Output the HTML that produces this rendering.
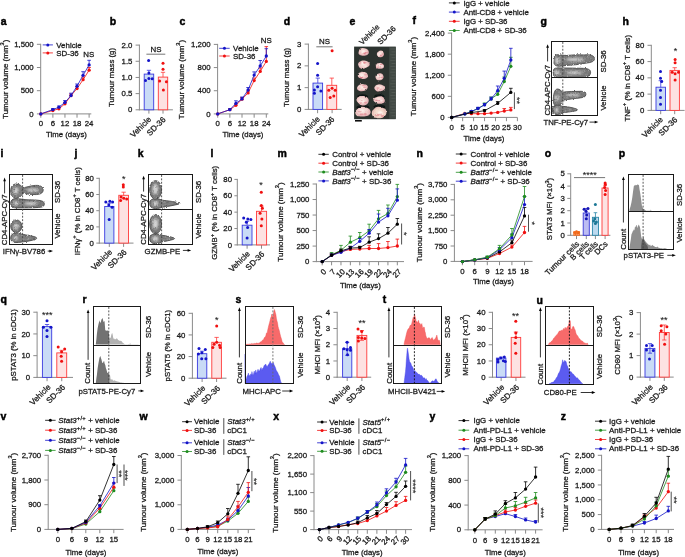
<!DOCTYPE html>
<html><head><meta charset="utf-8"><style>
html,body{margin:0;padding:0;background:#fff;}
svg{display:block;}
text{font-family:"Liberation Sans",sans-serif;}
svg{-webkit-font-smoothing:antialiased;will-change:transform;}
text{stroke:#1a1a1a;stroke-width:0.28px;}
.ns text{stroke-width:0.1px;}
.pl text{stroke:#000;stroke-width:0.45px;}
</style></head><body>
<svg width="685" height="557" viewBox="0 0 685 557" fill="#1a1a1a">
<defs><filter id="bl" x="-50%" y="-50%" width="200%" height="200%"><feGaussianBlur stdDeviation="0.9"/></filter><filter id="rough" x="-5%" y="-5%" width="110%" height="110%"><feTurbulence type="fractalNoise" baseFrequency="0.9" numOctaves="2" seed="4"/><feDisplacementMap in="SourceGraphic" scale="2.4" xChannelSelector="R" yChannelSelector="G"/></filter><filter id="bl2" x="-20%" y="-20%" width="140%" height="140%"><feGaussianBlur stdDeviation="0.35"/></filter></defs>
<rect width="685" height="557" fill="#fff"/>
<g class="pl">
<text x="0.8" y="24.6" font-size="10.5" font-weight="bold" fill="#000">a</text>
</g>
<line x1="40.7" y1="43.8" x2="40.7" y2="114.4" stroke="#8a8a8a" stroke-width="1"/>
<line x1="36.9" y1="44.3" x2="40.7" y2="44.3" stroke="#8a8a8a" stroke-width="1"/>
<text x="33.7" y="46.9" font-size="7.8" text-anchor="end">1,500</text>
<line x1="36.9" y1="67.5" x2="40.7" y2="67.5" stroke="#8a8a8a" stroke-width="1"/>
<text x="33.7" y="70.1" font-size="7.8" text-anchor="end">1,000</text>
<line x1="36.9" y1="90.7" x2="40.7" y2="90.7" stroke="#8a8a8a" stroke-width="1"/>
<text x="33.7" y="93.3" font-size="7.8" text-anchor="end">500</text>
<line x1="36.9" y1="113.9" x2="40.7" y2="113.9" stroke="#8a8a8a" stroke-width="1"/>
<text x="33.7" y="116.5" font-size="7.8" text-anchor="end">0</text>
<line x1="40.2" y1="113.9" x2="91.3" y2="113.9" stroke="#8a8a8a" stroke-width="1"/>
<line x1="40.8" y1="113.9" x2="40.8" y2="117.7" stroke="#8a8a8a" stroke-width="1"/>
<text x="40.8" y="126.2" font-size="7.8" text-anchor="middle">0</text>
<line x1="52.88" y1="113.9" x2="52.88" y2="117.7" stroke="#8a8a8a" stroke-width="1"/>
<text x="52.88" y="126.2" font-size="7.8" text-anchor="middle">6</text>
<line x1="64.96" y1="113.9" x2="64.96" y2="117.7" stroke="#8a8a8a" stroke-width="1"/>
<text x="64.96" y="126.2" font-size="7.8" text-anchor="middle">12</text>
<line x1="77.03" y1="113.9" x2="77.03" y2="117.7" stroke="#8a8a8a" stroke-width="1"/>
<text x="77.03" y="126.2" font-size="7.8" text-anchor="middle">18</text>
<line x1="89.11" y1="113.9" x2="89.11" y2="117.7" stroke="#8a8a8a" stroke-width="1"/>
<text x="89.11" y="126.2" font-size="7.8" text-anchor="middle">24</text>
<text x="66.5" y="137.2" font-size="7.8" text-anchor="middle">Time (days)</text>
<text transform="translate(8.2 79.3) rotate(-90)" font-size="8" text-anchor="middle">Tumour volume (mm<tspan font-size="5.6" dy="-4.0">3</tspan><tspan dy="4.0">)</tspan></text>
<line x1="52.88" y1="109.5" x2="52.88" y2="110.5" stroke="#f01010" stroke-width="0.8"/>
<line x1="51.08" y1="109.5" x2="54.68" y2="109.5" stroke="#f01010" stroke-width="0.8"/>
<line x1="58.92" y1="107.5" x2="58.92" y2="108.8" stroke="#f01010" stroke-width="0.8"/>
<line x1="57.12" y1="107.5" x2="60.72" y2="107.5" stroke="#f01010" stroke-width="0.8"/>
<line x1="64.96" y1="102.5" x2="64.96" y2="103.8" stroke="#f01010" stroke-width="0.8"/>
<line x1="63.16" y1="102.5" x2="66.76" y2="102.5" stroke="#f01010" stroke-width="0.8"/>
<line x1="71" y1="94" x2="71" y2="95.6" stroke="#f01010" stroke-width="0.8"/>
<line x1="69.2" y1="94" x2="72.8" y2="94" stroke="#f01010" stroke-width="0.8"/>
<line x1="77.03" y1="86.5" x2="77.03" y2="88.6" stroke="#f01010" stroke-width="0.8"/>
<line x1="75.23" y1="86.5" x2="78.83" y2="86.5" stroke="#f01010" stroke-width="0.8"/>
<line x1="83.07" y1="77" x2="83.07" y2="79.7" stroke="#f01010" stroke-width="0.8"/>
<line x1="81.27" y1="77" x2="84.87" y2="77" stroke="#f01010" stroke-width="0.8"/>
<line x1="89.11" y1="67.5" x2="89.11" y2="70.2" stroke="#f01010" stroke-width="0.8"/>
<line x1="87.31" y1="67.5" x2="90.91" y2="67.5" stroke="#f01010" stroke-width="0.8"/>
<polyline points="40.8,113.9 52.88,110.5 58.92,108.8 64.96,103.8 71,95.6 77.03,88.6 83.07,79.7 89.11,70.2" fill="none" stroke="#f01010" stroke-width="0.8" stroke-linejoin="round"/>
<circle cx="40.8" cy="113.9" r="1.65" fill="#f01010"/>
<circle cx="52.88" cy="110.5" r="1.65" fill="#f01010"/>
<circle cx="58.92" cy="108.8" r="1.65" fill="#f01010"/>
<circle cx="64.96" cy="103.8" r="1.65" fill="#f01010"/>
<circle cx="71" cy="95.6" r="1.65" fill="#f01010"/>
<circle cx="77.03" cy="88.6" r="1.65" fill="#f01010"/>
<circle cx="83.07" cy="79.7" r="1.65" fill="#f01010"/>
<circle cx="89.11" cy="70.2" r="1.65" fill="#f01010"/>
<line x1="52.88" y1="108.5" x2="52.88" y2="109.6" stroke="#1414c8" stroke-width="0.8"/>
<line x1="51.08" y1="108.5" x2="54.68" y2="108.5" stroke="#1414c8" stroke-width="0.8"/>
<line x1="58.92" y1="106" x2="58.92" y2="107.2" stroke="#1414c8" stroke-width="0.8"/>
<line x1="57.12" y1="106" x2="60.72" y2="106" stroke="#1414c8" stroke-width="0.8"/>
<line x1="64.96" y1="100.5" x2="64.96" y2="102.4" stroke="#1414c8" stroke-width="0.8"/>
<line x1="63.16" y1="100.5" x2="66.76" y2="100.5" stroke="#1414c8" stroke-width="0.8"/>
<line x1="71" y1="93.2" x2="71" y2="95.6" stroke="#1414c8" stroke-width="0.8"/>
<line x1="69.2" y1="93.2" x2="72.8" y2="93.2" stroke="#1414c8" stroke-width="0.8"/>
<line x1="77.03" y1="84" x2="77.03" y2="86.2" stroke="#1414c8" stroke-width="0.8"/>
<line x1="75.23" y1="84" x2="78.83" y2="84" stroke="#1414c8" stroke-width="0.8"/>
<line x1="83.07" y1="71.7" x2="83.07" y2="75.3" stroke="#1414c8" stroke-width="0.8"/>
<line x1="81.27" y1="71.7" x2="84.87" y2="71.7" stroke="#1414c8" stroke-width="0.8"/>
<line x1="89.11" y1="60.3" x2="89.11" y2="64.9" stroke="#1414c8" stroke-width="0.8"/>
<line x1="87.31" y1="60.3" x2="90.91" y2="60.3" stroke="#1414c8" stroke-width="0.8"/>
<polyline points="40.8,113.9 52.88,109.6 58.92,107.2 64.96,102.4 71,95.6 77.03,86.2 83.07,75.3 89.11,64.9" fill="none" stroke="#1414c8" stroke-width="0.8" stroke-linejoin="round"/>
<circle cx="40.8" cy="113.9" r="1.65" fill="#1414c8"/>
<circle cx="52.88" cy="109.6" r="1.65" fill="#1414c8"/>
<circle cx="58.92" cy="107.2" r="1.65" fill="#1414c8"/>
<circle cx="64.96" cy="102.4" r="1.65" fill="#1414c8"/>
<circle cx="71" cy="95.6" r="1.65" fill="#1414c8"/>
<circle cx="77.03" cy="86.2" r="1.65" fill="#1414c8"/>
<circle cx="83.07" cy="75.3" r="1.65" fill="#1414c8"/>
<circle cx="89.11" cy="64.9" r="1.65" fill="#1414c8"/>
<line x1="42.7" y1="44.9" x2="52.9" y2="44.9" stroke="#1414c8" stroke-width="0.8"/>
<circle cx="47.8" cy="44.9" r="1.5" fill="#1414c8"/>
<text x="56.3" y="47.5" font-size="7.9">Vehicle</text>
<line x1="42.7" y1="52.9" x2="52.9" y2="52.9" stroke="#f01010" stroke-width="0.8"/>
<circle cx="47.8" cy="52.9" r="1.5" fill="#f01010"/>
<text x="56.3" y="55.5" font-size="7.9">SD-36</text>
<text x="88.8" y="57.2" font-size="7.9" text-anchor="middle">NS</text>
<g class="pl">
<text x="109.8" y="24.6" font-size="10.5" font-weight="bold" fill="#000">b</text>
</g>
<line x1="139.4" y1="44.6" x2="139.4" y2="110.3" stroke="#8a8a8a" stroke-width="1"/>
<line x1="135.6" y1="45.1" x2="139.4" y2="45.1" stroke="#8a8a8a" stroke-width="1"/>
<text x="132.4" y="47.7" font-size="7.8" text-anchor="end">2.0</text>
<line x1="135.6" y1="61.28" x2="139.4" y2="61.28" stroke="#8a8a8a" stroke-width="1"/>
<text x="132.4" y="63.88" font-size="7.8" text-anchor="end">1.5</text>
<line x1="135.6" y1="77.45" x2="139.4" y2="77.45" stroke="#8a8a8a" stroke-width="1"/>
<text x="132.4" y="80.05" font-size="7.8" text-anchor="end">1.0</text>
<line x1="135.6" y1="93.62" x2="139.4" y2="93.62" stroke="#8a8a8a" stroke-width="1"/>
<text x="132.4" y="96.22" font-size="7.8" text-anchor="end">0.5</text>
<line x1="135.6" y1="109.8" x2="139.4" y2="109.8" stroke="#8a8a8a" stroke-width="1"/>
<text x="132.4" y="112.4" font-size="7.8" text-anchor="end">0</text>
<line x1="138.9" y1="109.8" x2="172.9" y2="109.8" stroke="#8a8a8a" stroke-width="1"/>
<line x1="148.9" y1="109.8" x2="148.9" y2="113.6" stroke="#8a8a8a" stroke-width="1"/>
<line x1="163" y1="109.8" x2="163" y2="113.6" stroke="#8a8a8a" stroke-width="1"/>
<rect x="144.2" y="74.1" width="9.5" height="35.7" fill="#c9dbf6" stroke="#3a3ae0" stroke-width="0.9"/>
<rect x="158.3" y="77.1" width="9.4" height="32.7" fill="#fde2e2" stroke="#ff3a3a" stroke-width="0.9"/>
<line x1="148.95" y1="70.3" x2="148.95" y2="74.1" stroke="#3a3ae0" stroke-width="0.8"/>
<line x1="146.8" y1="70.3" x2="151.1" y2="70.3" stroke="#3a3ae0" stroke-width="0.8"/>
<line x1="163" y1="72.3" x2="163" y2="77.1" stroke="#ff3a3a" stroke-width="0.8"/>
<line x1="160.85" y1="72.3" x2="165.15" y2="72.3" stroke="#ff3a3a" stroke-width="0.8"/>
<circle cx="148.6" cy="60.6" r="1.5" fill="#1414c8"/>
<circle cx="148.9" cy="73" r="1.5" fill="#1414c8"/>
<circle cx="145.5" cy="80.4" r="1.5" fill="#1414c8"/>
<circle cx="148.9" cy="78.4" r="1.5" fill="#1414c8"/>
<circle cx="152.2" cy="78.8" r="1.5" fill="#1414c8"/>
<circle cx="163" cy="63.2" r="1.5" fill="#f01010"/>
<circle cx="163" cy="69.2" r="1.5" fill="#f01010"/>
<circle cx="159.6" cy="81.1" r="1.5" fill="#f01010"/>
<circle cx="166.4" cy="81.8" r="1.5" fill="#f01010"/>
<circle cx="163.4" cy="89.9" r="1.5" fill="#f01010"/>
<line x1="146.4" y1="54.2" x2="165.3" y2="54.2" stroke="#666" stroke-width="0.9"/>
<text x="156" y="51.5" font-size="7.9" text-anchor="middle">NS</text>
<text transform="translate(113.9 77.5) rotate(-90)" font-size="7.8" text-anchor="middle">Tumour mass (g)</text>
<text transform="translate(151.7 119.8) rotate(-45)" font-size="8" text-anchor="end">Vehicle</text>
<text transform="translate(166.1 120.1) rotate(-45)" font-size="8" text-anchor="end">SD-36</text>
<g class="pl">
<text x="179.6" y="24.6" font-size="10.5" font-weight="bold" fill="#000">c</text>
</g>
<line x1="217.6" y1="43.9" x2="217.6" y2="114.4" stroke="#8a8a8a" stroke-width="1"/>
<line x1="213.8" y1="44.4" x2="217.6" y2="44.4" stroke="#8a8a8a" stroke-width="1"/>
<text x="210.6" y="47" font-size="7.8" text-anchor="end">1,200</text>
<line x1="213.8" y1="67.57" x2="217.6" y2="67.57" stroke="#8a8a8a" stroke-width="1"/>
<text x="210.6" y="70.17" font-size="7.8" text-anchor="end">800</text>
<line x1="213.8" y1="90.73" x2="217.6" y2="90.73" stroke="#8a8a8a" stroke-width="1"/>
<text x="210.6" y="93.33" font-size="7.8" text-anchor="end">400</text>
<line x1="213.8" y1="113.9" x2="217.6" y2="113.9" stroke="#8a8a8a" stroke-width="1"/>
<text x="210.6" y="116.5" font-size="7.8" text-anchor="end">0</text>
<line x1="217.1" y1="113.9" x2="268.3" y2="113.9" stroke="#8a8a8a" stroke-width="1"/>
<line x1="217.7" y1="113.9" x2="217.7" y2="117.7" stroke="#8a8a8a" stroke-width="1"/>
<text x="217.7" y="126.2" font-size="7.8" text-anchor="middle">0</text>
<line x1="229.85" y1="113.9" x2="229.85" y2="117.7" stroke="#8a8a8a" stroke-width="1"/>
<text x="229.85" y="126.2" font-size="7.8" text-anchor="middle">6</text>
<line x1="242" y1="113.9" x2="242" y2="117.7" stroke="#8a8a8a" stroke-width="1"/>
<text x="242" y="126.2" font-size="7.8" text-anchor="middle">12</text>
<line x1="254.15" y1="113.9" x2="254.15" y2="117.7" stroke="#8a8a8a" stroke-width="1"/>
<text x="254.15" y="126.2" font-size="7.8" text-anchor="middle">18</text>
<line x1="266.3" y1="113.9" x2="266.3" y2="117.7" stroke="#8a8a8a" stroke-width="1"/>
<text x="266.3" y="126.2" font-size="7.8" text-anchor="middle">24</text>
<text x="243" y="137.2" font-size="7.8" text-anchor="middle">Time (days)</text>
<text transform="translate(184 79.5) rotate(-90)" font-size="8" text-anchor="middle">Tumour volume (mm<tspan font-size="5.6" dy="-4.0">3</tspan><tspan dy="4.0">)</tspan></text>
<line x1="229.85" y1="108.8" x2="229.85" y2="109.7" stroke="#f01010" stroke-width="0.8"/>
<line x1="228.05" y1="108.8" x2="231.65" y2="108.8" stroke="#f01010" stroke-width="0.8"/>
<line x1="235.92" y1="103.8" x2="235.92" y2="105.3" stroke="#f01010" stroke-width="0.8"/>
<line x1="234.12" y1="103.8" x2="237.72" y2="103.8" stroke="#f01010" stroke-width="0.8"/>
<line x1="242" y1="97.5" x2="242" y2="99.2" stroke="#f01010" stroke-width="0.8"/>
<line x1="240.2" y1="97.5" x2="243.8" y2="97.5" stroke="#f01010" stroke-width="0.8"/>
<line x1="248.07" y1="91" x2="248.07" y2="92.9" stroke="#f01010" stroke-width="0.8"/>
<line x1="246.27" y1="91" x2="249.88" y2="91" stroke="#f01010" stroke-width="0.8"/>
<line x1="254.15" y1="78" x2="254.15" y2="80.6" stroke="#f01010" stroke-width="0.8"/>
<line x1="252.35" y1="78" x2="255.95" y2="78" stroke="#f01010" stroke-width="0.8"/>
<line x1="260.22" y1="68" x2="260.22" y2="71.4" stroke="#f01010" stroke-width="0.8"/>
<line x1="258.42" y1="68" x2="262.02" y2="68" stroke="#f01010" stroke-width="0.8"/>
<line x1="266.3" y1="46.6" x2="266.3" y2="61.4" stroke="#f01010" stroke-width="0.8"/>
<line x1="264.5" y1="46.6" x2="268.1" y2="46.6" stroke="#f01010" stroke-width="0.8"/>
<polyline points="217.7,113.9 229.85,109.7 235.92,105.3 242,99.2 248.07,92.9 254.15,80.6 260.22,71.4 266.3,61.4" fill="none" stroke="#f01010" stroke-width="0.8" stroke-linejoin="round"/>
<circle cx="217.7" cy="113.9" r="1.65" fill="#f01010"/>
<circle cx="229.85" cy="109.7" r="1.65" fill="#f01010"/>
<circle cx="235.92" cy="105.3" r="1.65" fill="#f01010"/>
<circle cx="242" cy="99.2" r="1.65" fill="#f01010"/>
<circle cx="248.07" cy="92.9" r="1.65" fill="#f01010"/>
<circle cx="254.15" cy="80.6" r="1.65" fill="#f01010"/>
<circle cx="260.22" cy="71.4" r="1.65" fill="#f01010"/>
<circle cx="266.3" cy="61.4" r="1.65" fill="#f01010"/>
<line x1="229.85" y1="108.8" x2="229.85" y2="109.7" stroke="#1414c8" stroke-width="0.8"/>
<line x1="228.05" y1="108.8" x2="231.65" y2="108.8" stroke="#1414c8" stroke-width="0.8"/>
<line x1="235.92" y1="100.8" x2="235.92" y2="103.4" stroke="#1414c8" stroke-width="0.8"/>
<line x1="234.12" y1="100.8" x2="237.72" y2="100.8" stroke="#1414c8" stroke-width="0.8"/>
<line x1="242" y1="97" x2="242" y2="98.9" stroke="#1414c8" stroke-width="0.8"/>
<line x1="240.2" y1="97" x2="243.8" y2="97" stroke="#1414c8" stroke-width="0.8"/>
<line x1="248.07" y1="87.5" x2="248.07" y2="90" stroke="#1414c8" stroke-width="0.8"/>
<line x1="246.27" y1="87.5" x2="249.88" y2="87.5" stroke="#1414c8" stroke-width="0.8"/>
<line x1="254.15" y1="71.9" x2="254.15" y2="75.1" stroke="#1414c8" stroke-width="0.8"/>
<line x1="252.35" y1="71.9" x2="255.95" y2="71.9" stroke="#1414c8" stroke-width="0.8"/>
<line x1="260.22" y1="60.5" x2="260.22" y2="66" stroke="#1414c8" stroke-width="0.8"/>
<line x1="258.42" y1="60.5" x2="262.02" y2="60.5" stroke="#1414c8" stroke-width="0.8"/>
<line x1="266.3" y1="48.7" x2="266.3" y2="56" stroke="#1414c8" stroke-width="0.8"/>
<line x1="264.5" y1="48.7" x2="268.1" y2="48.7" stroke="#1414c8" stroke-width="0.8"/>
<polyline points="217.7,113.9 229.85,109.7 235.92,103.4 242,98.9 248.07,90 254.15,75.1 260.22,66 266.3,56" fill="none" stroke="#1414c8" stroke-width="0.8" stroke-linejoin="round"/>
<circle cx="217.7" cy="113.9" r="1.65" fill="#1414c8"/>
<circle cx="229.85" cy="109.7" r="1.65" fill="#1414c8"/>
<circle cx="235.92" cy="103.4" r="1.65" fill="#1414c8"/>
<circle cx="242" cy="98.9" r="1.65" fill="#1414c8"/>
<circle cx="248.07" cy="90" r="1.65" fill="#1414c8"/>
<circle cx="254.15" cy="75.1" r="1.65" fill="#1414c8"/>
<circle cx="260.22" cy="66" r="1.65" fill="#1414c8"/>
<circle cx="266.3" cy="56" r="1.65" fill="#1414c8"/>
<line x1="219.2" y1="48.3" x2="229.7" y2="48.3" stroke="#1414c8" stroke-width="0.8"/>
<circle cx="224.45" cy="48.3" r="1.5" fill="#1414c8"/>
<text x="233.1" y="50.9" font-size="7.9">Vehicle</text>
<line x1="219.2" y1="56" x2="229.7" y2="56" stroke="#f01010" stroke-width="0.8"/>
<circle cx="224.45" cy="56" r="1.5" fill="#f01010"/>
<text x="233.1" y="58.6" font-size="7.9">SD-36</text>
<text x="266.2" y="43.1" font-size="7.9" text-anchor="middle">NS</text>
<g class="pl">
<text x="283.8" y="24.6" font-size="10.5" font-weight="bold" fill="#000">d</text>
</g>
<line x1="308.4" y1="43.6" x2="308.4" y2="109.9" stroke="#8a8a8a" stroke-width="1"/>
<line x1="304.6" y1="44.1" x2="308.4" y2="44.1" stroke="#8a8a8a" stroke-width="1"/>
<text x="301.4" y="46.7" font-size="7.8" text-anchor="end">3</text>
<line x1="304.6" y1="65.87" x2="308.4" y2="65.87" stroke="#8a8a8a" stroke-width="1"/>
<text x="301.4" y="68.47" font-size="7.8" text-anchor="end">2</text>
<line x1="304.6" y1="87.63" x2="308.4" y2="87.63" stroke="#8a8a8a" stroke-width="1"/>
<text x="301.4" y="90.23" font-size="7.8" text-anchor="end">1</text>
<line x1="304.6" y1="109.4" x2="308.4" y2="109.4" stroke="#8a8a8a" stroke-width="1"/>
<text x="301.4" y="112" font-size="7.8" text-anchor="end">0</text>
<line x1="307.9" y1="109.4" x2="341.7" y2="109.4" stroke="#8a8a8a" stroke-width="1"/>
<line x1="317.6" y1="109.4" x2="317.6" y2="113.2" stroke="#8a8a8a" stroke-width="1"/>
<line x1="332.1" y1="109.4" x2="332.1" y2="113.2" stroke="#8a8a8a" stroke-width="1"/>
<rect x="313" y="83.1" width="9.6" height="26.3" fill="#c9dbf6" stroke="#3a3ae0" stroke-width="0.9"/>
<rect x="326.9" y="85.3" width="9.8" height="24.1" fill="#fde2e2" stroke="#ff3a3a" stroke-width="0.9"/>
<line x1="317.8" y1="78.1" x2="317.8" y2="83.1" stroke="#3a3ae0" stroke-width="0.8"/>
<line x1="315.65" y1="78.1" x2="319.95" y2="78.1" stroke="#3a3ae0" stroke-width="0.8"/>
<line x1="331.8" y1="78.1" x2="331.8" y2="85.3" stroke="#ff3a3a" stroke-width="0.8"/>
<line x1="329.65" y1="78.1" x2="333.95" y2="78.1" stroke="#ff3a3a" stroke-width="0.8"/>
<circle cx="317.6" cy="63.4" r="1.5" fill="#1414c8"/>
<circle cx="317.6" cy="75.2" r="1.5" fill="#1414c8"/>
<circle cx="317.6" cy="86.7" r="1.5" fill="#1414c8"/>
<circle cx="314.4" cy="89.9" r="1.5" fill="#1414c8"/>
<circle cx="320.9" cy="91" r="1.5" fill="#1414c8"/>
<circle cx="314.4" cy="93.2" r="1.5" fill="#1414c8"/>
<circle cx="332.1" cy="50.8" r="1.5" fill="#f01010"/>
<circle cx="332.1" cy="88.2" r="1.5" fill="#f01010"/>
<circle cx="328.8" cy="90.3" r="1.5" fill="#f01010"/>
<circle cx="335.2" cy="90.3" r="1.5" fill="#f01010"/>
<circle cx="330.2" cy="97.5" r="1.5" fill="#f01010"/>
<circle cx="333.8" cy="96.1" r="1.5" fill="#f01010"/>
<line x1="316.3" y1="46.8" x2="332.6" y2="46.8" stroke="#666" stroke-width="0.9"/>
<text x="324.6" y="43.9" font-size="7.9" text-anchor="middle">NS</text>
<text transform="translate(288.8 77.4) rotate(-90)" font-size="7.8" text-anchor="middle">Tumour mass (g)</text>
<text transform="translate(320.5 119.5) rotate(-45)" font-size="8" text-anchor="end">Vehicle</text>
<text transform="translate(335 119.8) rotate(-45)" font-size="8" text-anchor="end">SD-36</text>
<g class="pl">
<text x="349.6" y="24.6" font-size="10.5" font-weight="bold" fill="#000">e</text>
</g>
<text transform="translate(380.1 27.4) rotate(-45)" font-size="7.8" text-anchor="end">Vehicle</text>
<text transform="translate(396.2 29.3) rotate(-45)" font-size="7.8" text-anchor="end">SD-36</text>
<defs><radialGradient id="tg" cx="0.45" cy="0.45" r="0.6"><stop offset="0" stop-color="#fbeee8"/><stop offset="0.55" stop-color="#f2cfcc"/><stop offset="1" stop-color="#dda4aa"/></radialGradient><radialGradient id="tg2" cx="0.5" cy="0.55" r="0.6"><stop offset="0" stop-color="#fbeee0"/><stop offset="0.6" stop-color="#f2d6c8"/><stop offset="1" stop-color="#dcaaa8"/></radialGradient><filter id="pb" x="-10%%" y="-10%%" width="120%%" height="120%%"><feTurbulence type="fractalNoise" baseFrequency="0.45" numOctaves="2" seed="9" result="t"/><feDisplacementMap in="SourceGraphic" in2="t" scale="2.2" xChannelSelector="R" yChannelSelector="G" result="d"/><feGaussianBlur in="d" stdDeviation="0.4"/></filter></defs>
<rect x="354.1" y="46.6" width="41.7" height="72.6" fill="#2c332f"/>
<rect x="389.2" y="47.2" width="6.5" height="71.5" fill="#414944"/>
<line x1="390.3" y1="49" x2="395.5" y2="49" stroke="#666e68" stroke-width="0.45"/>
<line x1="391.5" y1="51.9" x2="395.5" y2="51.9" stroke="#666e68" stroke-width="0.45"/>
<line x1="390.3" y1="54.8" x2="395.5" y2="54.8" stroke="#666e68" stroke-width="0.45"/>
<line x1="391.5" y1="57.7" x2="395.5" y2="57.7" stroke="#666e68" stroke-width="0.45"/>
<line x1="390.3" y1="60.6" x2="395.5" y2="60.6" stroke="#666e68" stroke-width="0.45"/>
<line x1="391.5" y1="63.5" x2="395.5" y2="63.5" stroke="#666e68" stroke-width="0.45"/>
<line x1="390.3" y1="66.4" x2="395.5" y2="66.4" stroke="#666e68" stroke-width="0.45"/>
<line x1="391.5" y1="69.3" x2="395.5" y2="69.3" stroke="#666e68" stroke-width="0.45"/>
<line x1="390.3" y1="72.2" x2="395.5" y2="72.2" stroke="#666e68" stroke-width="0.45"/>
<line x1="391.5" y1="75.1" x2="395.5" y2="75.1" stroke="#666e68" stroke-width="0.45"/>
<line x1="390.3" y1="78" x2="395.5" y2="78" stroke="#666e68" stroke-width="0.45"/>
<line x1="391.5" y1="80.9" x2="395.5" y2="80.9" stroke="#666e68" stroke-width="0.45"/>
<line x1="390.3" y1="83.8" x2="395.5" y2="83.8" stroke="#666e68" stroke-width="0.45"/>
<line x1="391.5" y1="86.7" x2="395.5" y2="86.7" stroke="#666e68" stroke-width="0.45"/>
<line x1="390.3" y1="89.6" x2="395.5" y2="89.6" stroke="#666e68" stroke-width="0.45"/>
<line x1="391.5" y1="92.5" x2="395.5" y2="92.5" stroke="#666e68" stroke-width="0.45"/>
<line x1="390.3" y1="95.4" x2="395.5" y2="95.4" stroke="#666e68" stroke-width="0.45"/>
<line x1="391.5" y1="98.3" x2="395.5" y2="98.3" stroke="#666e68" stroke-width="0.45"/>
<line x1="390.3" y1="101.2" x2="395.5" y2="101.2" stroke="#666e68" stroke-width="0.45"/>
<line x1="391.5" y1="104.1" x2="395.5" y2="104.1" stroke="#666e68" stroke-width="0.45"/>
<line x1="390.3" y1="107" x2="395.5" y2="107" stroke="#666e68" stroke-width="0.45"/>
<line x1="391.5" y1="109.9" x2="395.5" y2="109.9" stroke="#666e68" stroke-width="0.45"/>
<line x1="390.3" y1="112.8" x2="395.5" y2="112.8" stroke="#666e68" stroke-width="0.45"/>
<line x1="391.5" y1="115.7" x2="395.5" y2="115.7" stroke="#666e68" stroke-width="0.45"/>
<g filter="url(#pb)">
<ellipse cx="362.7" cy="96.5" rx="5.5" ry="2.2" fill="#111512"/>
<ellipse cx="379.3" cy="96.2" rx="5" ry="2" fill="#111512"/>
<ellipse cx="363" cy="107.5" rx="6.5" ry="2.5" fill="#111512"/>
<ellipse cx="379.3" cy="107" rx="6" ry="2.6" fill="#111512"/>
<path d="M378.14,114.36 Q377.95,115.21 377.51,115.87 Q377.07,116.53 376.49,117.04 Q375.91,117.55 375.18,117.67 Q374.44,117.8 373.8,117.31 Q373.16,116.82 372.69,116.09 Q372.23,115.35 371.96,114.43 Q371.7,113.5 371.81,112.48 Q371.92,111.46 372.41,110.6 Q372.89,109.75 373.65,109.41 Q374.42,109.07 375.19,109.15 Q375.95,109.23 376.62,109.67 Q377.29,110.11 377.69,110.9 Q378.09,111.7 378.22,112.6 Q378.34,113.5 378.14,114.36 Z" fill="url(#tg2)"/>
<path d="M386.4,113.32 Q386.23,114.14 385.84,114.76 Q385.45,115.39 384.94,115.88 Q384.43,116.36 383.78,116.48 Q383.13,116.6 382.56,116.13 Q382,115.67 381.59,114.97 Q381.18,114.27 380.95,113.38 Q380.71,112.5 380.81,111.53 Q380.91,110.55 381.33,109.73 Q381.76,108.92 382.44,108.59 Q383.11,108.27 383.79,108.35 Q384.46,108.43 385.05,108.84 Q385.65,109.26 386,110.02 Q386.35,110.78 386.46,111.64 Q386.57,112.5 386.4,113.32 Z" fill="url(#tg2)"/>
<path d="M361.27,113.66 Q361.09,114.33 360.67,114.83 Q360.26,115.34 359.71,115.73 Q359.17,116.13 358.48,116.22 Q357.79,116.32 357.18,115.94 Q356.58,115.56 356.14,115 Q355.7,114.43 355.46,113.72 Q355.21,113 355.31,112.21 Q355.42,111.42 355.87,110.76 Q356.32,110.1 357.04,109.84 Q357.76,109.57 358.49,109.64 Q359.21,109.7 359.84,110.04 Q360.47,110.38 360.85,110.99 Q361.22,111.61 361.34,112.3 Q361.45,113 361.27,113.66 Z" fill="url(#tg2)"/>
<path d="M368.8,52.71 Q368.78,53.52 368.17,54.21 Q367.56,54.91 366.54,55.21 Q365.52,55.51 364.51,55.64 Q363.5,55.78 362.46,55.7 Q361.42,55.61 360.45,55.25 Q359.47,54.88 358.91,54.18 Q358.35,53.48 358.49,52.69 Q358.64,51.9 358.83,51.21 Q359.02,50.52 359.32,49.78 Q359.63,49.03 360.48,48.53 Q361.34,48.03 362.42,47.97 Q363.5,47.92 364.45,48.21 Q365.4,48.5 366.29,48.84 Q367.17,49.18 367.84,49.77 Q368.5,50.37 368.66,51.13 Q368.81,51.9 368.8,52.71 Z" fill="url(#tg)"/>
<path d="M369.42,65.4 Q368.94,66.29 367.97,66.79 Q366.99,67.28 366.18,67.69 Q365.37,68.1 364.44,68.56 Q363.5,69.01 362.37,68.94 Q361.23,68.86 360.38,68.26 Q359.54,67.66 359.05,66.89 Q358.56,66.13 358.3,65.31 Q358.03,64.5 358.17,63.64 Q358.31,62.79 359.01,62.13 Q359.71,61.48 360.64,61.14 Q361.57,60.79 362.54,60.62 Q363.5,60.45 364.53,60.5 Q365.55,60.55 366.6,60.88 Q367.64,61.21 368.48,61.89 Q369.32,62.58 369.61,63.54 Q369.9,64.5 369.42,65.4 Z" fill="url(#tg)"/>
<path d="M367.99,76.27 Q367.93,76.94 367.39,77.53 Q366.85,78.12 366,78.56 Q365.15,78.99 364.07,79.08 Q363,79.17 362.08,78.84 Q361.15,78.52 360.34,78.19 Q359.53,77.87 358.74,77.42 Q357.95,76.97 357.84,76.29 Q357.73,75.6 357.89,74.93 Q358.06,74.26 358.45,73.57 Q358.84,72.88 359.79,72.45 Q360.73,72.02 361.87,71.9 Q363,71.78 364.1,71.95 Q365.19,72.13 366.02,72.61 Q366.85,73.08 367.26,73.71 Q367.66,74.34 367.85,74.97 Q368.04,75.6 367.99,76.27 Z" fill="url(#tg)"/>
<path d="M367.47,88.29 Q367.11,88.99 366.63,89.61 Q366.16,90.22 365.33,90.57 Q364.51,90.92 363.61,91.04 Q362.7,91.16 361.69,91.24 Q360.68,91.31 359.58,91.05 Q358.49,90.8 357.78,90.09 Q357.07,89.37 357.04,88.49 Q357,87.6 357.42,86.84 Q357.84,86.07 358.44,85.45 Q359.05,84.82 359.92,84.46 Q360.79,84.09 361.74,84.06 Q362.7,84.02 363.59,84.18 Q364.48,84.34 365.4,84.6 Q366.31,84.86 367.08,85.42 Q367.84,85.98 367.84,86.79 Q367.83,87.6 367.47,88.29 Z" fill="url(#tg)"/>
<path d="M368.68,101.28 Q368.54,102.26 367.93,103.15 Q367.32,104.05 366.28,104.65 Q365.23,105.26 363.97,105.45 Q362.7,105.63 361.52,105.27 Q360.34,104.91 359.59,104.17 Q358.83,103.44 358.11,102.76 Q357.39,102.08 356.86,101.19 Q356.32,100.3 356.52,99.3 Q356.73,98.3 357.55,97.54 Q358.37,96.79 359.47,96.46 Q360.57,96.13 361.64,96.03 Q362.7,95.93 363.75,96.05 Q364.81,96.17 365.79,96.59 Q366.76,97.01 367.5,97.73 Q368.23,98.44 368.53,99.37 Q368.83,100.3 368.68,101.28 Z" fill="url(#tg)"/>
<path d="M370.52,113.07 Q370.16,114.13 369.11,114.88 Q368.05,115.63 366.75,115.94 Q365.45,116.24 364.22,116.4 Q363,116.55 361.67,116.58 Q360.34,116.62 359.07,116.18 Q357.8,115.74 357,114.88 Q356.2,114.02 355.95,113.01 Q355.7,112 356.01,111.01 Q356.32,110.01 357.12,109.18 Q357.92,108.35 359.02,107.68 Q360.12,107 361.56,106.78 Q363,106.56 364.37,106.9 Q365.74,107.24 366.93,107.79 Q368.11,108.33 369.06,109.12 Q370.02,109.91 370.45,110.96 Q370.87,112 370.52,113.07 Z" fill="url(#tg)"/>
<path d="M383.92,54.64 Q383.83,55.28 383.46,55.85 Q383.09,56.42 382.46,56.76 Q381.83,57.1 381.11,57.26 Q380.4,57.42 379.69,57.26 Q378.97,57.1 378.42,56.69 Q377.86,56.29 377.45,55.77 Q377.03,55.26 376.91,54.63 Q376.79,54 376.94,53.38 Q377.08,52.76 377.52,52.28 Q377.95,51.79 378.51,51.45 Q379.07,51.11 379.74,50.8 Q380.4,50.48 381.18,50.55 Q381.96,50.61 382.5,51.12 Q383.03,51.63 383.36,52.2 Q383.69,52.77 383.85,53.39 Q384.01,54 383.92,54.64 Z" fill="url(#tg)"/>
<path d="M384.12,66.53 Q384.08,67.16 383.55,67.65 Q383.02,68.14 382.3,68.44 Q381.58,68.74 380.79,68.78 Q380,68.82 379.21,68.78 Q378.42,68.73 377.62,68.5 Q376.82,68.27 376.41,67.7 Q376,67.13 375.86,66.52 Q375.72,65.9 375.87,65.29 Q376.02,64.67 376.51,64.17 Q377,63.67 377.71,63.36 Q378.41,63.05 379.21,62.92 Q380,62.79 380.82,62.88 Q381.64,62.96 382.22,63.38 Q382.81,63.81 383.15,64.32 Q383.49,64.82 383.82,65.36 Q384.15,65.9 384.12,66.53 Z" fill="url(#tg)"/>
<path d="M383.49,77.56 Q383.31,78.22 382.9,78.81 Q382.49,79.39 381.86,79.83 Q381.23,80.28 380.41,80.32 Q379.6,80.37 378.78,80.33 Q377.97,80.29 377.21,79.95 Q376.44,79.62 376.11,78.94 Q375.78,78.26 375.58,77.58 Q375.38,76.9 375.54,76.2 Q375.7,75.51 376.27,75.02 Q376.84,74.53 377.44,74.09 Q378.04,73.65 378.82,73.38 Q379.6,73.11 380.45,73.24 Q381.3,73.37 381.98,73.82 Q382.66,74.27 383.02,74.91 Q383.37,75.55 383.52,76.23 Q383.67,76.9 383.49,77.56 Z" fill="url(#tg)"/>
<path d="M384.94,88.65 Q384.68,89.3 384.03,89.83 Q383.38,90.35 382.49,90.72 Q381.6,91.08 380.55,91.35 Q379.5,91.62 378.31,91.56 Q377.12,91.49 376.27,90.98 Q375.43,90.47 375.01,89.85 Q374.59,89.24 374.38,88.62 Q374.16,88 374.39,87.39 Q374.62,86.77 375.13,86.21 Q375.63,85.65 376.37,85.07 Q377.11,84.5 378.31,84.38 Q379.5,84.26 380.57,84.57 Q381.63,84.88 382.62,85.19 Q383.61,85.51 384.3,86.06 Q385,86.62 385.1,87.31 Q385.2,88 384.94,88.65 Z" fill="url(#tg)"/>
<path d="M384.87,100.78 Q384.92,101.57 384.34,102.28 Q383.76,103 382.68,103.37 Q381.6,103.73 380.45,103.83 Q379.3,103.93 378.2,103.74 Q377.11,103.56 376.26,103.08 Q375.42,102.61 374.72,102.04 Q374.03,101.47 373.6,100.73 Q373.17,100 373.47,99.23 Q373.78,98.46 374.63,97.95 Q375.49,97.44 376.42,97.14 Q377.35,96.83 378.32,96.6 Q379.3,96.38 380.45,96.31 Q381.61,96.25 382.55,96.71 Q383.5,97.18 383.87,97.9 Q384.25,98.62 384.53,99.31 Q384.81,100 384.87,100.78 Z" fill="url(#tg)"/>
<path d="M385.55,114 Q385.29,115.3 384.52,116.33 Q383.74,117.36 382.58,117.72 Q381.43,118.08 380.36,118.17 Q379.3,118.25 378.23,118.19 Q377.16,118.13 376.09,117.65 Q375.03,117.17 374.13,116.25 Q373.24,115.33 372.92,114.02 Q372.61,112.7 372.96,111.4 Q373.31,110.1 374.03,109.01 Q374.75,107.93 375.84,107.3 Q376.92,106.68 378.11,106.64 Q379.3,106.6 380.39,106.89 Q381.48,107.18 382.51,107.72 Q383.54,108.26 384.41,109.18 Q385.29,110.1 385.55,111.4 Q385.82,112.7 385.55,114 Z" fill="url(#tg2)"/>
<path d="M365.67,53.26 Q365.56,53.55 365.15,53.74 Q364.75,53.93 364.24,53.92 Q363.73,53.9 363.27,53.75 Q362.8,53.6 362.59,53.28 Q362.38,52.96 362.66,52.68 Q362.95,52.4 363.35,52.22 Q363.75,52.05 364.24,52.03 Q364.74,52 365.12,52.2 Q365.49,52.41 365.64,52.68 Q365.79,52.96 365.67,53.26 Z" fill="#d65468" opacity="0.4"/>
<path d="M365.86,53.98 Q365.74,54.2 365.49,54.35 Q365.25,54.5 364.92,54.52 Q364.58,54.55 364.32,54.39 Q364.05,54.23 363.92,53.99 Q363.78,53.76 363.85,53.49 Q363.92,53.22 364.24,53.06 Q364.55,52.89 364.93,52.87 Q365.32,52.85 365.61,53.04 Q365.91,53.23 365.95,53.49 Q365.98,53.76 365.86,53.98 Z" fill="#d65468" opacity="0.4"/>
<path d="M367.81,52.74 Q367.56,52.93 367.12,53.05 Q366.69,53.18 366.11,53.21 Q365.52,53.24 365.01,53.11 Q364.5,52.98 364.32,52.77 Q364.14,52.56 364.36,52.35 Q364.58,52.15 365.07,52.03 Q365.55,51.91 366.15,51.9 Q366.74,51.88 367.26,52 Q367.77,52.12 367.92,52.34 Q368.06,52.56 367.81,52.74 Z" fill="#d65468" opacity="0.4"/>
<path d="M364.86,51.14 Q364.64,51.4 364.21,51.52 Q363.78,51.64 363.32,51.67 Q362.85,51.69 362.41,51.56 Q361.97,51.43 361.84,51.16 Q361.72,50.89 361.86,50.62 Q362,50.36 362.4,50.17 Q362.79,49.98 363.33,49.99 Q363.87,49.99 364.3,50.16 Q364.73,50.33 364.91,50.61 Q365.08,50.89 364.86,51.14 Z" fill="#fff6f0" opacity="0.55"/>
<path d="M365.09,52.44 Q364.96,52.68 364.59,52.83 Q364.21,52.98 363.69,53.06 Q363.18,53.13 362.64,52.99 Q362.11,52.84 361.98,52.52 Q361.85,52.2 362.17,51.95 Q362.48,51.7 362.91,51.61 Q363.33,51.52 363.73,51.53 Q364.12,51.55 364.46,51.66 Q364.8,51.77 365.01,51.99 Q365.23,52.2 365.09,52.44 Z" fill="#fff6f0" opacity="0.55"/>
<path d="M361.7,63.47 Q361.61,63.78 361.31,63.99 Q361,64.19 360.61,64.17 Q360.23,64.16 359.88,64 Q359.53,63.83 359.36,63.5 Q359.2,63.16 359.42,62.86 Q359.64,62.56 359.94,62.37 Q360.24,62.19 360.62,62.16 Q361,62.14 361.28,62.35 Q361.56,62.57 361.67,62.86 Q361.79,63.16 361.7,63.47 Z" fill="#d65468" opacity="0.4"/>
<path d="M366.54,63.08 Q366.35,63.27 365.97,63.4 Q365.58,63.54 365.06,63.56 Q364.54,63.58 364.13,63.44 Q363.72,63.3 363.5,63.1 Q363.28,62.89 363.4,62.65 Q363.51,62.42 364,62.28 Q364.49,62.14 365.09,62.12 Q365.7,62.1 366.16,62.26 Q366.62,62.43 366.67,62.66 Q366.73,62.89 366.54,63.08 Z" fill="#d65468" opacity="0.4"/>
<path d="M365.2,63.05 Q365.05,63.36 364.79,63.57 Q364.53,63.77 364.18,63.82 Q363.83,63.87 363.53,63.66 Q363.22,63.45 363.11,63.09 Q363.01,62.73 363.14,62.39 Q363.27,62.05 363.56,61.85 Q363.85,61.66 364.21,61.63 Q364.56,61.61 364.87,61.81 Q365.18,62.01 365.26,62.37 Q365.35,62.73 365.2,63.05 Z" fill="#d65468" opacity="0.4"/>
<path d="M363.46,63.55 Q363.23,63.83 362.81,63.96 Q362.38,64.09 361.92,64.11 Q361.45,64.14 361.01,64 Q360.57,63.86 360.44,63.57 Q360.32,63.28 360.46,62.99 Q360.6,62.71 360.99,62.51 Q361.39,62.3 361.93,62.31 Q362.46,62.32 362.9,62.5 Q363.33,62.68 363.5,62.98 Q363.68,63.28 363.46,63.55 Z" fill="#fff6f0" opacity="0.55"/>
<path d="M367.46,66.36 Q367.33,66.62 366.95,66.79 Q366.58,66.95 366.06,67.03 Q365.54,67.11 365.01,66.95 Q364.47,66.79 364.35,66.45 Q364.22,66.1 364.54,65.83 Q364.85,65.57 365.27,65.47 Q365.7,65.37 366.1,65.39 Q366.49,65.4 366.83,65.53 Q367.17,65.65 367.38,65.87 Q367.59,66.1 367.46,66.36 Z" fill="#fff6f0" opacity="0.55"/>
<path d="M363.02,77.66 Q362.91,77.89 362.55,78.04 Q362.19,78.19 361.73,78.18 Q361.28,78.17 360.86,78.05 Q360.45,77.93 360.26,77.68 Q360.06,77.43 360.32,77.2 Q360.58,76.98 360.93,76.84 Q361.29,76.71 361.74,76.69 Q362.19,76.66 362.52,76.83 Q362.85,76.99 362.99,77.21 Q363.12,77.43 363.02,77.66 Z" fill="#d65468" opacity="0.4"/>
<path d="M362.63,77.6 Q362.45,77.86 362.07,78.03 Q361.7,78.21 361.2,78.24 Q360.7,78.26 360.3,78.08 Q359.9,77.9 359.69,77.62 Q359.48,77.35 359.59,77.03 Q359.7,76.72 360.17,76.53 Q360.64,76.34 361.23,76.32 Q361.81,76.29 362.26,76.51 Q362.7,76.73 362.76,77.04 Q362.81,77.35 362.63,77.6 Z" fill="#d65468" opacity="0.4"/>
<path d="M366.68,74.98 Q366.48,75.15 366.15,75.27 Q365.81,75.38 365.36,75.41 Q364.91,75.44 364.51,75.32 Q364.12,75.2 363.98,75 Q363.84,74.8 364.01,74.61 Q364.18,74.42 364.56,74.31 Q364.94,74.2 365.39,74.19 Q365.85,74.17 366.25,74.29 Q366.65,74.4 366.76,74.6 Q366.87,74.8 366.68,74.98 Z" fill="#d65468" opacity="0.4"/>
<path d="M362.6,74.27 Q362.38,74.5 361.94,74.61 Q361.51,74.71 361.04,74.74 Q360.56,74.76 360.11,74.64 Q359.66,74.52 359.53,74.28 Q359.41,74.03 359.55,73.8 Q359.7,73.56 360.1,73.39 Q360.5,73.22 361.05,73.22 Q361.59,73.23 362.04,73.38 Q362.48,73.54 362.65,73.79 Q362.83,74.03 362.6,74.27 Z" fill="#fff6f0" opacity="0.55"/>
<path d="M363.29,76.19 Q363.16,76.41 362.77,76.54 Q362.39,76.68 361.86,76.75 Q361.34,76.81 360.79,76.68 Q360.25,76.55 360.12,76.26 Q359.99,75.97 360.31,75.75 Q360.63,75.52 361.06,75.44 Q361.5,75.36 361.9,75.38 Q362.3,75.39 362.65,75.49 Q363,75.59 363.21,75.78 Q363.42,75.97 363.29,76.19 Z" fill="#fff6f0" opacity="0.55"/>
<path d="M360.88,88.62 Q360.79,88.83 360.47,88.97 Q360.15,89.11 359.76,89.1 Q359.36,89.09 358.99,88.98 Q358.63,88.86 358.46,88.63 Q358.3,88.4 358.52,88.2 Q358.74,87.99 359.06,87.86 Q359.37,87.74 359.76,87.72 Q360.15,87.7 360.45,87.85 Q360.74,88 360.85,88.2 Q360.97,88.4 360.88,88.62 Z" fill="#d65468" opacity="0.4"/>
<path d="M365.72,87.74 Q365.58,87.97 365.28,88.12 Q364.98,88.28 364.58,88.3 Q364.18,88.33 363.86,88.16 Q363.54,88 363.37,87.76 Q363.2,87.51 363.29,87.23 Q363.38,86.95 363.76,86.79 Q364.14,86.62 364.6,86.6 Q365.07,86.57 365.43,86.77 Q365.78,86.96 365.83,87.24 Q365.87,87.51 365.72,87.74 Z" fill="#d65468" opacity="0.4"/>
<path d="M365.65,85.78 Q365.39,85.96 364.94,86.08 Q364.49,86.2 363.89,86.23 Q363.28,86.25 362.76,86.13 Q362.23,86.01 362.04,85.81 Q361.86,85.6 362.08,85.41 Q362.31,85.21 362.81,85.1 Q363.32,84.99 363.93,84.97 Q364.54,84.96 365.08,85.07 Q365.61,85.19 365.76,85.4 Q365.9,85.6 365.65,85.78 Z" fill="#d65468" opacity="0.4"/>
<path d="M365.57,89.28 Q365.35,89.54 364.93,89.66 Q364.5,89.79 364.03,89.81 Q363.57,89.84 363.13,89.7 Q362.68,89.57 362.56,89.29 Q362.43,89.01 362.58,88.74 Q362.72,88.48 363.11,88.28 Q363.5,88.08 364.04,88.09 Q364.58,88.1 365.01,88.27 Q365.45,88.45 365.62,88.73 Q365.8,89.01 365.57,89.28 Z" fill="#fff6f0" opacity="0.55"/>
<path d="M361.46,89.03 Q361.32,89.28 360.95,89.43 Q360.57,89.59 360.05,89.66 Q359.54,89.74 359,89.59 Q358.47,89.44 358.34,89.11 Q358.21,88.78 358.53,88.53 Q358.84,88.27 359.27,88.18 Q359.69,88.09 360.09,88.1 Q360.49,88.11 360.83,88.23 Q361.17,88.35 361.38,88.56 Q361.59,88.78 361.46,89.03 Z" fill="#fff6f0" opacity="0.55"/>
<path d="M362.82,100.91 Q362.74,101.11 362.47,101.25 Q362.2,101.38 361.85,101.37 Q361.51,101.36 361.19,101.25 Q360.88,101.15 360.73,100.93 Q360.59,100.71 360.78,100.51 Q360.98,100.31 361.25,100.19 Q361.52,100.07 361.86,100.05 Q362.19,100.04 362.45,100.18 Q362.7,100.32 362.8,100.51 Q362.9,100.71 362.82,100.91 Z" fill="#d65468" opacity="0.4"/>
<path d="M361.79,102.96 Q361.65,103.26 361.35,103.47 Q361.05,103.67 360.65,103.7 Q360.25,103.73 359.93,103.52 Q359.61,103.3 359.45,102.98 Q359.28,102.65 359.37,102.28 Q359.46,101.91 359.83,101.69 Q360.21,101.47 360.68,101.44 Q361.14,101.41 361.5,101.66 Q361.85,101.92 361.89,102.29 Q361.94,102.65 361.79,102.96 Z" fill="#d65468" opacity="0.4"/>
<path d="M366.79,102.84 Q366.59,103.1 366.24,103.27 Q365.89,103.44 365.42,103.49 Q364.95,103.53 364.54,103.35 Q364.12,103.18 363.98,102.88 Q363.83,102.59 364.01,102.3 Q364.19,102.02 364.58,101.86 Q364.97,101.69 365.45,101.67 Q365.93,101.65 366.35,101.82 Q366.76,101.99 366.88,102.29 Q366.99,102.59 366.79,102.84 Z" fill="#d65468" opacity="0.4"/>
<path d="M364.48,101.9 Q364.24,102.2 363.79,102.34 Q363.33,102.48 362.83,102.51 Q362.33,102.54 361.85,102.38 Q361.38,102.23 361.24,101.91 Q361.11,101.6 361.26,101.29 Q361.41,100.98 361.84,100.75 Q362.26,100.53 362.84,100.54 Q363.42,100.55 363.88,100.75 Q364.35,100.95 364.53,101.27 Q364.72,101.6 364.48,101.9 Z" fill="#fff6f0" opacity="0.55"/>
<path d="M361.89,101.75 Q361.74,102.04 361.34,102.22 Q360.93,102.39 360.38,102.48 Q359.82,102.57 359.25,102.4 Q358.68,102.22 358.54,101.85 Q358.4,101.47 358.74,101.18 Q359.08,100.88 359.53,100.78 Q359.99,100.67 360.42,100.69 Q360.84,100.7 361.21,100.84 Q361.57,100.97 361.8,101.22 Q362.03,101.47 361.89,101.75 Z" fill="#fff6f0" opacity="0.55"/>
<path d="M366.54,114.39 Q366.44,114.77 366.1,115.01 Q365.76,115.25 365.33,115.24 Q364.9,115.22 364.51,115.02 Q364.11,114.83 363.93,114.42 Q363.75,114.02 364,113.66 Q364.24,113.29 364.57,113.07 Q364.91,112.86 365.33,112.82 Q365.76,112.79 366.07,113.05 Q366.39,113.31 366.51,113.66 Q366.64,114.02 366.54,114.39 Z" fill="#d65468" opacity="0.4"/>
<path d="M361.56,111.46 Q361.33,111.82 360.87,112.06 Q360.41,112.3 359.79,112.34 Q359.16,112.38 358.67,112.12 Q358.17,111.87 357.91,111.49 Q357.66,111.11 357.79,110.67 Q357.93,110.23 358.52,109.97 Q359.1,109.71 359.83,109.68 Q360.55,109.64 361.1,109.95 Q361.65,110.25 361.72,110.68 Q361.79,111.11 361.56,111.46 Z" fill="#d65468" opacity="0.4"/>
<path d="M363.6,114.65 Q363.32,114.93 362.85,115.11 Q362.37,115.29 361.72,115.33 Q361.07,115.38 360.51,115.19 Q359.94,115.01 359.75,114.69 Q359.55,114.38 359.79,114.08 Q360.03,113.78 360.57,113.61 Q361.11,113.44 361.77,113.42 Q362.42,113.39 362.99,113.57 Q363.56,113.75 363.72,114.07 Q363.88,114.38 363.6,114.65 Z" fill="#d65468" opacity="0.4"/>
<path d="M363.7,110.68 Q363.41,111.01 362.85,111.16 Q362.29,111.32 361.68,111.35 Q361.07,111.38 360.49,111.21 Q359.9,111.04 359.74,110.7 Q359.58,110.36 359.76,110.02 Q359.95,109.69 360.47,109.44 Q360.98,109.19 361.69,109.21 Q362.4,109.22 362.97,109.43 Q363.54,109.65 363.77,110 Q364,110.36 363.7,110.68 Z" fill="#fff6f0" opacity="0.55"/>
<path d="M361.79,110.52 Q361.62,110.83 361.12,111.02 Q360.63,111.22 359.95,111.31 Q359.27,111.4 358.57,111.22 Q357.86,111.03 357.7,110.62 Q357.53,110.21 357.94,109.89 Q358.35,109.58 358.91,109.46 Q359.47,109.35 359.99,109.36 Q360.52,109.38 360.96,109.53 Q361.41,109.67 361.69,109.94 Q361.96,110.21 361.79,110.52 Z" fill="#fff6f0" opacity="0.55"/>
<path d="M381.98,56.12 Q381.92,56.28 381.71,56.38 Q381.5,56.48 381.24,56.48 Q380.97,56.47 380.73,56.39 Q380.49,56.3 380.38,56.14 Q380.27,55.97 380.42,55.82 Q380.57,55.66 380.77,55.57 Q380.98,55.48 381.24,55.47 Q381.5,55.45 381.69,55.56 Q381.89,55.67 381.96,55.82 Q382.04,55.97 381.98,56.12 Z" fill="#d65468" opacity="0.4"/>
<path d="M383.43,54.3 Q383.31,54.48 383.08,54.59 Q382.85,54.71 382.53,54.73 Q382.22,54.75 381.97,54.62 Q381.72,54.5 381.59,54.32 Q381.46,54.13 381.53,53.92 Q381.6,53.71 381.89,53.58 Q382.19,53.46 382.55,53.44 Q382.92,53.42 383.19,53.57 Q383.47,53.72 383.51,53.92 Q383.54,54.13 383.43,54.3 Z" fill="#d65468" opacity="0.4"/>
<path d="M381.81,55.5 Q381.66,55.7 381.4,55.84 Q381.14,55.98 380.8,56.01 Q380.45,56.04 380.15,55.91 Q379.84,55.77 379.74,55.53 Q379.63,55.29 379.76,55.07 Q379.89,54.84 380.18,54.71 Q380.47,54.58 380.82,54.56 Q381.17,54.55 381.48,54.68 Q381.79,54.82 381.87,55.05 Q381.96,55.29 381.81,55.5 Z" fill="#d65468" opacity="0.4"/>
<path d="M379.75,55.73 Q379.59,55.96 379.27,56.07 Q378.96,56.18 378.61,56.2 Q378.27,56.22 377.94,56.1 Q377.61,55.98 377.52,55.74 Q377.43,55.5 377.53,55.26 Q377.64,55.03 377.93,54.85 Q378.22,54.68 378.62,54.69 Q379.02,54.7 379.34,54.85 Q379.66,55 379.79,55.25 Q379.92,55.5 379.75,55.73 Z" fill="#fff6f0" opacity="0.55"/>
<path d="M379.54,54.19 Q379.44,54.41 379.16,54.55 Q378.88,54.69 378.5,54.75 Q378.12,54.82 377.72,54.69 Q377.32,54.56 377.23,54.27 Q377.14,53.98 377.37,53.75 Q377.6,53.53 377.92,53.45 Q378.23,53.37 378.52,53.38 Q378.82,53.39 379.07,53.5 Q379.32,53.6 379.48,53.79 Q379.63,53.98 379.54,54.19 Z" fill="#fff6f0" opacity="0.55"/>
<path d="M382.71,64.84 Q382.62,65.07 382.31,65.22 Q382,65.38 381.61,65.37 Q381.21,65.35 380.86,65.23 Q380.5,65.11 380.33,64.85 Q380.17,64.6 380.39,64.37 Q380.61,64.14 380.92,64.01 Q381.23,63.87 381.61,63.85 Q382,63.83 382.28,63.99 Q382.57,64.15 382.69,64.38 Q382.8,64.6 382.71,64.84 Z" fill="#d65468" opacity="0.4"/>
<path d="M381.4,67.09 Q381.3,67.26 381.1,67.38 Q380.89,67.5 380.61,67.51 Q380.33,67.53 380.11,67.41 Q379.88,67.28 379.77,67.1 Q379.65,66.91 379.71,66.7 Q379.77,66.49 380.04,66.36 Q380.3,66.24 380.62,66.22 Q380.95,66.2 381.2,66.35 Q381.44,66.5 381.48,66.7 Q381.51,66.91 381.4,67.09 Z" fill="#d65468" opacity="0.4"/>
<path d="M379.31,67.3 Q379.17,67.49 378.92,67.61 Q378.66,67.73 378.33,67.76 Q377.99,67.79 377.69,67.67 Q377.39,67.54 377.29,67.33 Q377.18,67.11 377.31,66.91 Q377.44,66.71 377.72,66.59 Q378.01,66.47 378.35,66.45 Q378.69,66.44 378.99,66.56 Q379.29,66.68 379.38,66.9 Q379.46,67.11 379.31,67.3 Z" fill="#d65468" opacity="0.4"/>
<path d="M383.36,67.23 Q383.18,67.44 382.85,67.53 Q382.51,67.63 382.14,67.65 Q381.76,67.67 381.41,67.56 Q381.06,67.46 380.96,67.24 Q380.86,67.03 380.97,66.82 Q381.09,66.61 381.4,66.45 Q381.71,66.3 382.14,66.31 Q382.57,66.31 382.92,66.45 Q383.26,66.59 383.4,66.81 Q383.54,67.03 383.36,67.23 Z" fill="#fff6f0" opacity="0.55"/>
<path d="M383.13,65.94 Q383.02,66.14 382.72,66.26 Q382.42,66.38 382.01,66.44 Q381.6,66.5 381.17,66.38 Q380.75,66.27 380.65,66.01 Q380.55,65.75 380.8,65.55 Q381.05,65.35 381.39,65.28 Q381.72,65.21 382.04,65.22 Q382.36,65.23 382.63,65.32 Q382.9,65.41 383.06,65.58 Q383.23,65.75 383.13,65.94 Z" fill="#fff6f0" opacity="0.55"/>
<path d="M380.52,78.03 Q380.44,78.22 380.17,78.34 Q379.89,78.46 379.55,78.45 Q379.2,78.45 378.89,78.35 Q378.58,78.25 378.43,78.04 Q378.29,77.83 378.48,77.65 Q378.68,77.46 378.95,77.35 Q379.22,77.24 379.55,77.22 Q379.89,77.21 380.14,77.34 Q380.4,77.47 380.5,77.65 Q380.6,77.83 380.52,78.03 Z" fill="#d65468" opacity="0.4"/>
<path d="M380.08,75.73 Q379.96,75.99 379.71,76.18 Q379.47,76.36 379.13,76.38 Q378.8,76.41 378.54,76.22 Q378.27,76.03 378.14,75.75 Q378,75.46 378.07,75.13 Q378.15,74.81 378.46,74.61 Q378.77,74.42 379.15,74.39 Q379.54,74.37 379.83,74.59 Q380.13,74.82 380.16,75.14 Q380.2,75.46 380.08,75.73 Z" fill="#d65468" opacity="0.4"/>
<path d="M382.87,77.62 Q382.7,77.82 382.42,77.95 Q382.14,78.09 381.76,78.12 Q381.37,78.15 381.04,78.02 Q380.71,77.88 380.59,77.65 Q380.47,77.42 380.62,77.2 Q380.76,76.98 381.08,76.85 Q381.4,76.72 381.78,76.71 Q382.17,76.69 382.51,76.82 Q382.85,76.95 382.94,77.18 Q383.03,77.42 382.87,77.62 Z" fill="#d65468" opacity="0.4"/>
<path d="M379.05,76.3 Q378.87,76.53 378.53,76.64 Q378.19,76.76 377.82,76.78 Q377.45,76.8 377.1,76.68 Q376.75,76.56 376.65,76.31 Q376.55,76.06 376.66,75.81 Q376.77,75.57 377.09,75.39 Q377.4,75.22 377.83,75.22 Q378.26,75.23 378.6,75.39 Q378.95,75.55 379.09,75.8 Q379.22,76.06 379.05,76.3 Z" fill="#fff6f0" opacity="0.55"/>
<path d="M381.89,78.48 Q381.79,78.71 381.49,78.85 Q381.19,78.99 380.78,79.06 Q380.37,79.13 379.94,78.99 Q379.51,78.85 379.41,78.56 Q379.31,78.26 379.56,78.03 Q379.81,77.8 380.15,77.72 Q380.49,77.63 380.81,77.65 Q381.12,77.66 381.39,77.76 Q381.66,77.87 381.83,78.06 Q382,78.26 381.89,78.48 Z" fill="#fff6f0" opacity="0.55"/>
<path d="M380.13,89.29 Q380.01,89.51 379.59,89.66 Q379.18,89.8 378.65,89.79 Q378.13,89.78 377.66,89.66 Q377.18,89.55 376.96,89.31 Q376.74,89.07 377.04,88.86 Q377.33,88.64 377.74,88.51 Q378.15,88.38 378.66,88.36 Q379.17,88.34 379.56,88.5 Q379.94,88.65 380.09,88.86 Q380.24,89.07 380.13,89.29 Z" fill="#d65468" opacity="0.4"/>
<path d="M381.72,89.18 Q381.56,89.4 381.24,89.54 Q380.93,89.69 380.5,89.71 Q380.07,89.73 379.73,89.58 Q379.39,89.43 379.21,89.2 Q379.03,88.97 379.12,88.71 Q379.22,88.45 379.62,88.29 Q380.02,88.13 380.52,88.11 Q381.02,88.09 381.4,88.27 Q381.78,88.45 381.83,88.71 Q381.88,88.97 381.72,89.18 Z" fill="#d65468" opacity="0.4"/>
<path d="M379.78,88.17 Q379.54,88.4 379.12,88.55 Q378.7,88.7 378.12,88.73 Q377.55,88.77 377.05,88.62 Q376.55,88.47 376.38,88.21 Q376.2,87.95 376.42,87.7 Q376.63,87.45 377.11,87.31 Q377.59,87.17 378.16,87.15 Q378.74,87.13 379.25,87.28 Q379.75,87.43 379.89,87.69 Q380.03,87.95 379.78,88.17 Z" fill="#d65468" opacity="0.4"/>
<path d="M379.93,89.73 Q379.7,89.95 379.26,90.05 Q378.81,90.16 378.33,90.18 Q377.85,90.2 377.39,90.09 Q376.93,89.97 376.8,89.74 Q376.67,89.51 376.82,89.29 Q376.97,89.07 377.37,88.9 Q377.78,88.74 378.34,88.75 Q378.9,88.76 379.35,88.9 Q379.8,89.05 379.98,89.28 Q380.16,89.51 379.93,89.73 Z" fill="#fff6f0" opacity="0.55"/>
<path d="M381.75,88.48 Q381.61,88.69 381.22,88.82 Q380.83,88.95 380.29,89.01 Q379.76,89.07 379.2,88.95 Q378.65,88.82 378.52,88.55 Q378.39,88.27 378.71,88.06 Q379.04,87.85 379.48,87.78 Q379.92,87.7 380.33,87.71 Q380.74,87.72 381.09,87.82 Q381.45,87.92 381.66,88.1 Q381.88,88.27 381.75,88.48 Z" fill="#fff6f0" opacity="0.55"/>
<path d="M377.34,100.45 Q377.24,100.7 376.92,100.87 Q376.6,101.03 376.19,101.02 Q375.78,101.01 375.41,100.87 Q375.04,100.74 374.87,100.47 Q374.7,100.2 374.93,99.96 Q375.16,99.72 375.48,99.57 Q375.8,99.42 376.2,99.4 Q376.59,99.38 376.89,99.55 Q377.19,99.72 377.31,99.96 Q377.43,100.2 377.34,100.45 Z" fill="#d65468" opacity="0.4"/>
<path d="M380.52,101.62 Q380.33,101.87 379.95,102.05 Q379.57,102.22 379.05,102.25 Q378.53,102.27 378.12,102.09 Q377.7,101.91 377.49,101.63 Q377.27,101.36 377.39,101.04 Q377.5,100.73 377.99,100.54 Q378.48,100.35 379.08,100.33 Q379.68,100.3 380.14,100.52 Q380.6,100.74 380.66,101.05 Q380.71,101.36 380.52,101.62 Z" fill="#d65468" opacity="0.4"/>
<path d="M380,100.9 Q379.75,101.17 379.32,101.36 Q378.89,101.54 378.3,101.59 Q377.72,101.63 377.21,101.44 Q376.7,101.26 376.52,100.94 Q376.35,100.62 376.56,100.31 Q376.78,100.01 377.27,99.84 Q377.75,99.66 378.34,99.64 Q378.93,99.62 379.45,99.8 Q379.96,99.98 380.1,100.3 Q380.25,100.62 380,100.9 Z" fill="#d65468" opacity="0.4"/>
<path d="M380.07,101.59 Q379.83,101.84 379.37,101.96 Q378.92,102.07 378.42,102.1 Q377.91,102.12 377.44,101.99 Q376.96,101.86 376.83,101.6 Q376.7,101.34 376.85,101.08 Q377,100.83 377.42,100.64 Q377.85,100.45 378.42,100.46 Q379,100.47 379.47,100.63 Q379.93,100.8 380.12,101.07 Q380.31,101.34 380.07,101.59 Z" fill="#fff6f0" opacity="0.55"/>
<path d="M382.9,100.97 Q382.76,101.21 382.36,101.36 Q381.95,101.5 381.4,101.58 Q380.84,101.65 380.27,101.5 Q379.69,101.36 379.56,101.05 Q379.42,100.73 379.76,100.49 Q380.1,100.25 380.55,100.16 Q381.01,100.08 381.44,100.09 Q381.86,100.1 382.23,100.21 Q382.59,100.32 382.82,100.53 Q383.04,100.73 382.9,100.97 Z" fill="#fff6f0" opacity="0.55"/>
<path d="M383.99,116.35 Q383.87,116.74 383.47,116.99 Q383.06,117.24 382.55,117.22 Q382.05,117.2 381.58,117 Q381.12,116.8 380.91,116.38 Q380.7,115.96 380.98,115.59 Q381.27,115.21 381.67,114.99 Q382.06,114.76 382.56,114.73 Q383.06,114.69 383.43,114.96 Q383.8,115.23 383.95,115.6 Q384.1,115.96 383.99,116.35 Z" fill="#d65468" opacity="0.4"/>
<path d="M378.81,115.47 Q378.58,115.83 378.11,116.07 Q377.64,116.32 377,116.36 Q376.37,116.4 375.86,116.14 Q375.36,115.88 375.09,115.49 Q374.83,115.11 374.97,114.66 Q375.11,114.22 375.71,113.96 Q376.3,113.69 377.04,113.66 Q377.78,113.62 378.34,113.93 Q378.9,114.23 378.98,114.67 Q379.05,115.11 378.81,115.47 Z" fill="#d65468" opacity="0.4"/>
<path d="M382.38,114.59 Q382.11,114.9 381.66,115.11 Q381.2,115.32 380.58,115.37 Q379.96,115.43 379.41,115.21 Q378.87,115 378.68,114.63 Q378.49,114.27 378.73,113.93 Q378.96,113.58 379.48,113.38 Q379.99,113.18 380.62,113.15 Q381.25,113.13 381.8,113.33 Q382.34,113.54 382.5,113.91 Q382.65,114.27 382.38,114.59 Z" fill="#d65468" opacity="0.4"/>
<path d="M382.79,113.64 Q382.53,114.06 382.05,114.26 Q381.56,114.45 381.02,114.49 Q380.49,114.53 379.98,114.32 Q379.47,114.1 379.33,113.66 Q379.18,113.23 379.35,112.8 Q379.51,112.37 379.96,112.06 Q380.41,111.75 381.03,111.76 Q381.65,111.78 382.15,112.05 Q382.64,112.33 382.84,112.78 Q383.04,113.23 382.79,113.64 Z" fill="#fff6f0" opacity="0.55"/>
<path d="M381.89,112.58 Q381.73,112.97 381.3,113.22 Q380.87,113.47 380.28,113.59 Q379.68,113.71 379.07,113.47 Q378.45,113.23 378.31,112.71 Q378.16,112.19 378.52,111.78 Q378.88,111.38 379.37,111.23 Q379.86,111.09 380.32,111.11 Q380.77,111.13 381.16,111.32 Q381.55,111.5 381.79,111.84 Q382.04,112.19 381.89,112.58 Z" fill="#fff6f0" opacity="0.55"/>
</g>
<line x1="355" y1="120.8" x2="361.8" y2="120.8" stroke="#000" stroke-width="1.5"/>
<g class="pl">
<text x="412.6" y="24.2" font-size="10.5" font-weight="bold" fill="#000">f</text>
</g>
<line x1="451.6" y1="32.6" x2="451.6" y2="117.9" stroke="#8a8a8a" stroke-width="1"/>
<line x1="447.8" y1="33.1" x2="451.6" y2="33.1" stroke="#8a8a8a" stroke-width="1"/>
<text x="444.6" y="35.7" font-size="7.8" text-anchor="end">2,400</text>
<line x1="447.8" y1="54.17" x2="451.6" y2="54.17" stroke="#8a8a8a" stroke-width="1"/>
<text x="444.6" y="56.77" font-size="7.8" text-anchor="end">1,800</text>
<line x1="447.8" y1="75.25" x2="451.6" y2="75.25" stroke="#8a8a8a" stroke-width="1"/>
<text x="444.6" y="77.85" font-size="7.8" text-anchor="end">1,200</text>
<line x1="447.8" y1="96.33" x2="451.6" y2="96.33" stroke="#8a8a8a" stroke-width="1"/>
<text x="444.6" y="98.92" font-size="7.8" text-anchor="end">600</text>
<line x1="447.8" y1="117.4" x2="451.6" y2="117.4" stroke="#8a8a8a" stroke-width="1"/>
<text x="444.6" y="120" font-size="7.8" text-anchor="end">0</text>
<line x1="451.1" y1="117.4" x2="517.3" y2="117.4" stroke="#8a8a8a" stroke-width="1"/>
<line x1="451.7" y1="117.4" x2="451.7" y2="121.2" stroke="#8a8a8a" stroke-width="1"/>
<text x="451.7" y="129.7" font-size="7.8" text-anchor="middle">0</text>
<line x1="462.65" y1="117.4" x2="462.65" y2="121.2" stroke="#8a8a8a" stroke-width="1"/>
<text x="462.65" y="129.7" font-size="7.8" text-anchor="middle">5</text>
<line x1="473.6" y1="117.4" x2="473.6" y2="121.2" stroke="#8a8a8a" stroke-width="1"/>
<text x="473.6" y="129.7" font-size="7.8" text-anchor="middle">10</text>
<line x1="484.55" y1="117.4" x2="484.55" y2="121.2" stroke="#8a8a8a" stroke-width="1"/>
<text x="484.55" y="129.7" font-size="7.8" text-anchor="middle">15</text>
<line x1="495.5" y1="117.4" x2="495.5" y2="121.2" stroke="#8a8a8a" stroke-width="1"/>
<text x="495.5" y="129.7" font-size="7.8" text-anchor="middle">20</text>
<line x1="506.45" y1="117.4" x2="506.45" y2="121.2" stroke="#8a8a8a" stroke-width="1"/>
<text x="506.45" y="129.7" font-size="7.8" text-anchor="middle">25</text>
<line x1="517.4" y1="117.4" x2="517.4" y2="121.2" stroke="#8a8a8a" stroke-width="1"/>
<text x="517.4" y="129.7" font-size="7.8" text-anchor="middle">30</text>
<text x="484" y="141" font-size="7.8" text-anchor="middle">Time (days)</text>
<text transform="translate(416.1 76.5) rotate(-90)" font-size="8" text-anchor="middle">Tumour volume (mm<tspan font-size="5.6" dy="-4.0">3</tspan><tspan dy="4.0">)</tspan></text>
<line x1="504.26" y1="108.5" x2="504.26" y2="111" stroke="#f01010" stroke-width="0.8"/>
<line x1="502.46" y1="108.5" x2="506.06" y2="108.5" stroke="#f01010" stroke-width="0.8"/>
<line x1="510.83" y1="107.4" x2="510.83" y2="109.9" stroke="#f01010" stroke-width="0.8"/>
<line x1="509.03" y1="107.4" x2="512.63" y2="107.4" stroke="#f01010" stroke-width="0.8"/>
<polyline points="451.7,117.4 464.84,113.4 471.41,113.7 477.98,113.7 484.55,113.7 491.12,113.1 497.69,112.4 504.26,111 510.83,109.9" fill="none" stroke="#f01010" stroke-width="0.8" stroke-linejoin="round"/>
<circle cx="451.7" cy="117.4" r="1.65" fill="#f01010"/>
<circle cx="464.84" cy="113.4" r="1.65" fill="#f01010"/>
<circle cx="471.41" cy="113.7" r="1.65" fill="#f01010"/>
<circle cx="477.98" cy="113.7" r="1.65" fill="#f01010"/>
<circle cx="484.55" cy="113.7" r="1.65" fill="#f01010"/>
<circle cx="491.12" cy="113.1" r="1.65" fill="#f01010"/>
<circle cx="497.69" cy="112.4" r="1.65" fill="#f01010"/>
<circle cx="504.26" cy="111" r="1.65" fill="#f01010"/>
<circle cx="510.83" cy="109.9" r="1.65" fill="#f01010"/>
<line x1="471.41" y1="110.5" x2="471.41" y2="111.5" stroke="#1e8c1e" stroke-width="0.8"/>
<line x1="469.61" y1="110.5" x2="473.21" y2="110.5" stroke="#1e8c1e" stroke-width="0.8"/>
<line x1="477.98" y1="107.5" x2="477.98" y2="108.6" stroke="#1e8c1e" stroke-width="0.8"/>
<line x1="476.18" y1="107.5" x2="479.78" y2="107.5" stroke="#1e8c1e" stroke-width="0.8"/>
<line x1="484.55" y1="103" x2="484.55" y2="104.5" stroke="#1e8c1e" stroke-width="0.8"/>
<line x1="482.75" y1="103" x2="486.35" y2="103" stroke="#1e8c1e" stroke-width="0.8"/>
<line x1="491.12" y1="97" x2="491.12" y2="98.9" stroke="#1e8c1e" stroke-width="0.8"/>
<line x1="489.32" y1="97" x2="492.92" y2="97" stroke="#1e8c1e" stroke-width="0.8"/>
<line x1="497.69" y1="91.5" x2="497.69" y2="94.3" stroke="#1e8c1e" stroke-width="0.8"/>
<line x1="495.89" y1="91.5" x2="499.49" y2="91.5" stroke="#1e8c1e" stroke-width="0.8"/>
<line x1="504.26" y1="77" x2="504.26" y2="81.5" stroke="#1e8c1e" stroke-width="0.8"/>
<line x1="502.46" y1="77" x2="506.06" y2="77" stroke="#1e8c1e" stroke-width="0.8"/>
<line x1="510.83" y1="57.3" x2="510.83" y2="66.3" stroke="#1e8c1e" stroke-width="0.8"/>
<line x1="509.03" y1="57.3" x2="512.63" y2="57.3" stroke="#1e8c1e" stroke-width="0.8"/>
<polyline points="451.7,117.4 464.84,113.8 471.41,111.5 477.98,108.6 484.55,104.5 491.12,98.9 497.69,94.3 504.26,81.5 510.83,66.3" fill="none" stroke="#1e8c1e" stroke-width="0.8" stroke-linejoin="round"/>
<circle cx="451.7" cy="117.4" r="1.65" fill="#1e8c1e"/>
<circle cx="464.84" cy="113.8" r="1.65" fill="#1e8c1e"/>
<circle cx="471.41" cy="111.5" r="1.65" fill="#1e8c1e"/>
<circle cx="477.98" cy="108.6" r="1.65" fill="#1e8c1e"/>
<circle cx="484.55" cy="104.5" r="1.65" fill="#1e8c1e"/>
<circle cx="491.12" cy="98.9" r="1.65" fill="#1e8c1e"/>
<circle cx="497.69" cy="94.3" r="1.65" fill="#1e8c1e"/>
<circle cx="504.26" cy="81.5" r="1.65" fill="#1e8c1e"/>
<circle cx="510.83" cy="66.3" r="1.65" fill="#1e8c1e"/>
<line x1="471.41" y1="110.5" x2="471.41" y2="111.5" stroke="#1414c8" stroke-width="0.8"/>
<line x1="469.61" y1="110.5" x2="473.21" y2="110.5" stroke="#1414c8" stroke-width="0.8"/>
<line x1="477.98" y1="107.3" x2="477.98" y2="108.5" stroke="#1414c8" stroke-width="0.8"/>
<line x1="476.18" y1="107.3" x2="479.78" y2="107.3" stroke="#1414c8" stroke-width="0.8"/>
<line x1="484.55" y1="103.5" x2="484.55" y2="104.9" stroke="#1414c8" stroke-width="0.8"/>
<line x1="482.75" y1="103.5" x2="486.35" y2="103.5" stroke="#1414c8" stroke-width="0.8"/>
<line x1="491.12" y1="97.2" x2="491.12" y2="99" stroke="#1414c8" stroke-width="0.8"/>
<line x1="489.32" y1="97.2" x2="492.92" y2="97.2" stroke="#1414c8" stroke-width="0.8"/>
<line x1="497.69" y1="86" x2="497.69" y2="90.7" stroke="#1414c8" stroke-width="0.8"/>
<line x1="495.89" y1="86" x2="499.49" y2="86" stroke="#1414c8" stroke-width="0.8"/>
<line x1="504.26" y1="71.1" x2="504.26" y2="78.3" stroke="#1414c8" stroke-width="0.8"/>
<line x1="502.46" y1="71.1" x2="506.06" y2="71.1" stroke="#1414c8" stroke-width="0.8"/>
<line x1="510.83" y1="48.3" x2="510.83" y2="60" stroke="#1414c8" stroke-width="0.8"/>
<line x1="509.03" y1="48.3" x2="512.63" y2="48.3" stroke="#1414c8" stroke-width="0.8"/>
<polyline points="451.7,117.4 464.84,114 471.41,111.5 477.98,108.5 484.55,104.9 491.12,99 497.69,90.7 504.26,78.3 510.83,60" fill="none" stroke="#1414c8" stroke-width="0.8" stroke-linejoin="round"/>
<circle cx="451.7" cy="117.4" r="1.65" fill="#1414c8"/>
<circle cx="464.84" cy="114" r="1.65" fill="#1414c8"/>
<circle cx="471.41" cy="111.5" r="1.65" fill="#1414c8"/>
<circle cx="477.98" cy="108.5" r="1.65" fill="#1414c8"/>
<circle cx="484.55" cy="104.9" r="1.65" fill="#1414c8"/>
<circle cx="491.12" cy="99" r="1.65" fill="#1414c8"/>
<circle cx="497.69" cy="90.7" r="1.65" fill="#1414c8"/>
<circle cx="504.26" cy="78.3" r="1.65" fill="#1414c8"/>
<circle cx="510.83" cy="60" r="1.65" fill="#1414c8"/>
<line x1="471.41" y1="111.5" x2="471.41" y2="112.6" stroke="#000000" stroke-width="0.8"/>
<line x1="469.61" y1="111.5" x2="473.21" y2="111.5" stroke="#000000" stroke-width="0.8"/>
<line x1="484.55" y1="109.5" x2="484.55" y2="110.7" stroke="#000000" stroke-width="0.8"/>
<line x1="482.75" y1="109.5" x2="486.35" y2="109.5" stroke="#000000" stroke-width="0.8"/>
<line x1="497.69" y1="101.5" x2="497.69" y2="103.4" stroke="#000000" stroke-width="0.8"/>
<line x1="495.89" y1="101.5" x2="499.49" y2="101.5" stroke="#000000" stroke-width="0.8"/>
<line x1="510.83" y1="88.3" x2="510.83" y2="92.4" stroke="#000000" stroke-width="0.8"/>
<line x1="509.03" y1="88.3" x2="512.63" y2="88.3" stroke="#000000" stroke-width="0.8"/>
<polyline points="451.7,117.4 471.41,112.6 484.55,110.7 497.69,103.4 510.83,92.4" fill="none" stroke="#000000" stroke-width="0.8" stroke-linejoin="round"/>
<circle cx="451.7" cy="117.4" r="1.65" fill="#000000"/>
<circle cx="471.41" cy="112.6" r="1.65" fill="#000000"/>
<circle cx="484.55" cy="110.7" r="1.65" fill="#000000"/>
<circle cx="497.69" cy="103.4" r="1.65" fill="#000000"/>
<circle cx="510.83" cy="92.4" r="1.65" fill="#000000"/>
<line x1="514.4" y1="92.4" x2="514.4" y2="109.1" stroke="#222" stroke-width="0.8"/>
<g class="ns">
<text transform="translate(513.93 100.6) rotate(90)" font-size="9" text-anchor="middle">**</text>
</g>
<line x1="448.9" y1="2.9" x2="459.7" y2="2.9" stroke="#000000" stroke-width="0.8"/>
<circle cx="454.3" cy="2.9" r="1.5" fill="#000000"/>
<text x="463.4" y="5.5" font-size="7.9">IgG + vehicle</text>
<line x1="448.9" y1="12.1" x2="459.7" y2="12.1" stroke="#1414c8" stroke-width="0.8"/>
<circle cx="454.3" cy="12.1" r="1.5" fill="#1414c8"/>
<text x="463.4" y="14.7" font-size="7.9">Anti-CD8 + vehicle</text>
<line x1="448.9" y1="21.3" x2="459.7" y2="21.3" stroke="#f01010" stroke-width="0.8"/>
<circle cx="454.3" cy="21.3" r="1.5" fill="#f01010"/>
<text x="463.4" y="23.9" font-size="7.9">IgG + SD-36</text>
<line x1="448.9" y1="30.5" x2="459.7" y2="30.5" stroke="#1e8c1e" stroke-width="0.8"/>
<circle cx="454.3" cy="30.5" r="1.5" fill="#1e8c1e"/>
<text x="463.4" y="33.1" font-size="7.9">Anti-CD8 + SD-36</text>
<g class="pl">
<text x="540.6" y="24.6" font-size="10.5" font-weight="bold" fill="#000">g</text>
</g>
<g filter="url(#rough)">
<path d="M554.5,57 C554,55 556,54.6 559,54.8 L566,55.5 C572,55 578,54.5 584,55 C590,54.3 594.5,55.5 594.5,58.5 C594.5,61.5 591,62.5 588,62.8 C584,63.2 580,64.5 576,64.7 C570,65 566,65.6 562,66 C558,66.5 554.5,66.3 554,63 Z" fill="#7c7c7c" stroke="#454545" stroke-width="0.85"/>
<ellipse cx="557.5" cy="60.5" rx="2.3" ry="3.2" fill="#d4d4d4" filter="url(#bl)"/>
<ellipse cx="575" cy="59.5" rx="9" ry="1.6" fill="#d4d4d4" filter="url(#bl)"/>
<path d="M554.5,57 C554,55 556,54.6 559,54.8 L566,55.5 C572,55 578,54.5 584,55 C590,54.3 594.5,55.5 594.5,58.5 C594.5,61.5 591,62.5 588,62.8 C584,63.2 580,64.5 576,64.7 C570,65 566,65.6 562,66 C558,66.5 554.5,66.3 554,63 Z" fill="none" stroke="#6a6a6a" stroke-width="0.45" transform="translate(574.25 60.4) scale(0.78) translate(-574.25 -60.4)"/>
<path d="M554.5,57 C554,55 556,54.6 559,54.8 L566,55.5 C572,55 578,54.5 584,55 C590,54.3 594.5,55.5 594.5,58.5 C594.5,61.5 591,62.5 588,62.8 C584,63.2 580,64.5 576,64.7 C570,65 566,65.6 562,66 C558,66.5 554.5,66.3 554,63 Z" fill="none" stroke="#a0a0a0" stroke-width="0.45" transform="translate(574.25 60.4) scale(0.55) translate(-574.25 -60.4)"/>
<clipPath id="bc1"><path d="M554.5,57 C554,55 556,54.6 559,54.8 L566,55.5 C572,55 578,54.5 584,55 C590,54.3 594.5,55.5 594.5,58.5 C594.5,61.5 591,62.5 588,62.8 C584,63.2 580,64.5 576,64.7 C570,65 566,65.6 562,66 C558,66.5 554.5,66.3 554,63 Z"/></clipPath><g clip-path="url(#bc1)">
<circle cx="567.12" cy="56.14" r="0.55" fill="#5c5c5c" opacity="0.55"/>
<circle cx="556.93" cy="60.84" r="0.55" fill="#b8b8b8" opacity="0.55"/>
<circle cx="556.35" cy="60.49" r="0.55" fill="#b8b8b8" opacity="0.55"/>
<circle cx="571.56" cy="55.15" r="0.55" fill="#b8b8b8" opacity="0.55"/>
<circle cx="571.19" cy="64.39" r="0.55" fill="#b8b8b8" opacity="0.55"/>
<circle cx="563.04" cy="61.95" r="0.55" fill="#5c5c5c" opacity="0.55"/>
<circle cx="577.37" cy="59.14" r="0.55" fill="#5c5c5c" opacity="0.55"/>
<circle cx="555.89" cy="64.77" r="0.55" fill="#b8b8b8" opacity="0.55"/>
<circle cx="559.84" cy="55.74" r="0.55" fill="#b8b8b8" opacity="0.55"/>
<circle cx="587.05" cy="56.5" r="0.55" fill="#5c5c5c" opacity="0.55"/>
<circle cx="579.88" cy="58.84" r="0.55" fill="#5c5c5c" opacity="0.55"/>
<circle cx="556.54" cy="55.03" r="0.55" fill="#b8b8b8" opacity="0.55"/>
<circle cx="581.56" cy="59.52" r="0.55" fill="#b8b8b8" opacity="0.55"/>
<circle cx="577.72" cy="59.83" r="0.55" fill="#b8b8b8" opacity="0.55"/>
<circle cx="586.17" cy="62.83" r="0.55" fill="#b8b8b8" opacity="0.55"/>
<circle cx="577.26" cy="60.71" r="0.55" fill="#5c5c5c" opacity="0.55"/>
<circle cx="583.54" cy="57.81" r="0.55" fill="#5c5c5c" opacity="0.55"/>
<circle cx="558.78" cy="59.4" r="0.55" fill="#5c5c5c" opacity="0.55"/>
<circle cx="560.16" cy="60.27" r="0.55" fill="#b8b8b8" opacity="0.55"/>
<circle cx="581.06" cy="63.63" r="0.55" fill="#5c5c5c" opacity="0.55"/>
<circle cx="589.46" cy="58.13" r="0.55" fill="#5c5c5c" opacity="0.55"/>
<circle cx="578.07" cy="61.37" r="0.55" fill="#b8b8b8" opacity="0.55"/>
<circle cx="588.02" cy="65.83" r="0.55" fill="#b8b8b8" opacity="0.55"/>
<circle cx="580.9" cy="55.04" r="0.55" fill="#5c5c5c" opacity="0.55"/>
<circle cx="580.21" cy="66.42" r="0.55" fill="#5c5c5c" opacity="0.55"/>
<circle cx="565.53" cy="59.01" r="0.55" fill="#5c5c5c" opacity="0.55"/>
<circle cx="554.91" cy="59.93" r="0.55" fill="#b8b8b8" opacity="0.55"/>
<circle cx="558.74" cy="55.02" r="0.55" fill="#5c5c5c" opacity="0.55"/>
<circle cx="559.24" cy="57.32" r="0.55" fill="#b8b8b8" opacity="0.55"/>
<circle cx="589.29" cy="55.28" r="0.55" fill="#b8b8b8" opacity="0.55"/>
<circle cx="576.25" cy="65.08" r="0.55" fill="#5c5c5c" opacity="0.55"/>
<circle cx="588.99" cy="57.7" r="0.55" fill="#b8b8b8" opacity="0.55"/>
<circle cx="568.53" cy="65.09" r="0.55" fill="#5c5c5c" opacity="0.55"/>
<circle cx="560.11" cy="56.45" r="0.55" fill="#b8b8b8" opacity="0.55"/>
<circle cx="563.45" cy="60.22" r="0.55" fill="#5c5c5c" opacity="0.55"/>
<circle cx="564.64" cy="54.35" r="0.55" fill="#b8b8b8" opacity="0.55"/>
<circle cx="568.95" cy="61.21" r="0.55" fill="#5c5c5c" opacity="0.55"/>
<circle cx="581.96" cy="60.59" r="0.55" fill="#5c5c5c" opacity="0.55"/>
<circle cx="581.39" cy="54.96" r="0.55" fill="#5c5c5c" opacity="0.55"/>
<circle cx="585.59" cy="64.97" r="0.55" fill="#5c5c5c" opacity="0.55"/>
<circle cx="569.89" cy="59.17" r="0.55" fill="#b8b8b8" opacity="0.55"/>
<circle cx="579.69" cy="55.06" r="0.55" fill="#b8b8b8" opacity="0.55"/>
<circle cx="562.45" cy="56.28" r="0.55" fill="#b8b8b8" opacity="0.55"/>
<circle cx="556.13" cy="54.3" r="0.55" fill="#b8b8b8" opacity="0.55"/>
<circle cx="558.11" cy="58.74" r="0.55" fill="#b8b8b8" opacity="0.55"/>
<circle cx="589.41" cy="61.79" r="0.55" fill="#b8b8b8" opacity="0.55"/>
<circle cx="564.22" cy="58.54" r="0.55" fill="#b8b8b8" opacity="0.55"/>
<circle cx="558.98" cy="64.66" r="0.55" fill="#5c5c5c" opacity="0.55"/>
<circle cx="572.87" cy="60.2" r="0.55" fill="#b8b8b8" opacity="0.55"/>
<circle cx="558.14" cy="58.48" r="0.55" fill="#b8b8b8" opacity="0.55"/>
<circle cx="587.57" cy="56.27" r="0.55" fill="#b8b8b8" opacity="0.55"/>
<circle cx="592.51" cy="60.74" r="0.55" fill="#b8b8b8" opacity="0.55"/>
<circle cx="576" cy="54.63" r="0.55" fill="#5c5c5c" opacity="0.55"/>
<circle cx="593.63" cy="64.83" r="0.55" fill="#5c5c5c" opacity="0.55"/>
<circle cx="564.58" cy="58.77" r="0.55" fill="#b8b8b8" opacity="0.55"/>
<circle cx="585.26" cy="60.8" r="0.55" fill="#5c5c5c" opacity="0.55"/>
<circle cx="567.35" cy="57.02" r="0.55" fill="#5c5c5c" opacity="0.55"/>
<circle cx="593.89" cy="64.7" r="0.55" fill="#5c5c5c" opacity="0.55"/>
<circle cx="587.14" cy="63.33" r="0.55" fill="#b8b8b8" opacity="0.55"/>
<circle cx="574.96" cy="58.64" r="0.55" fill="#b8b8b8" opacity="0.55"/>
<circle cx="555.13" cy="57.71" r="0.55" fill="#b8b8b8" opacity="0.55"/>
<circle cx="582.05" cy="65.97" r="0.55" fill="#b8b8b8" opacity="0.55"/>
<circle cx="591.95" cy="66.35" r="0.55" fill="#5c5c5c" opacity="0.55"/>
<circle cx="568.77" cy="56.99" r="0.55" fill="#b8b8b8" opacity="0.55"/>
<circle cx="561.97" cy="56.79" r="0.55" fill="#5c5c5c" opacity="0.55"/>
<circle cx="590.46" cy="64.55" r="0.55" fill="#b8b8b8" opacity="0.55"/>
<circle cx="580.45" cy="64.06" r="0.55" fill="#b8b8b8" opacity="0.55"/>
<circle cx="580.75" cy="65.4" r="0.55" fill="#5c5c5c" opacity="0.55"/>
<circle cx="584.38" cy="60.13" r="0.55" fill="#b8b8b8" opacity="0.55"/>
<circle cx="585.96" cy="58.36" r="0.55" fill="#5c5c5c" opacity="0.55"/>
<circle cx="593.35" cy="59.13" r="0.55" fill="#b8b8b8" opacity="0.55"/>
<circle cx="592.35" cy="63.14" r="0.55" fill="#b8b8b8" opacity="0.55"/>
<circle cx="559.15" cy="56.14" r="0.55" fill="#5c5c5c" opacity="0.55"/>
<circle cx="586.66" cy="56.08" r="0.55" fill="#5c5c5c" opacity="0.55"/>
<circle cx="593.7" cy="62.32" r="0.55" fill="#b8b8b8" opacity="0.55"/>
<circle cx="576.22" cy="55.9" r="0.55" fill="#b8b8b8" opacity="0.55"/>
<circle cx="593.32" cy="62.23" r="0.55" fill="#5c5c5c" opacity="0.55"/>
<circle cx="591.81" cy="59.59" r="0.55" fill="#5c5c5c" opacity="0.55"/>
<circle cx="587.46" cy="56.87" r="0.55" fill="#b8b8b8" opacity="0.55"/>
<circle cx="565.87" cy="57.23" r="0.55" fill="#5c5c5c" opacity="0.55"/>
<circle cx="564.5" cy="59.41" r="0.55" fill="#b8b8b8" opacity="0.55"/>
<circle cx="590.86" cy="58.62" r="0.55" fill="#b8b8b8" opacity="0.55"/>
</g>
<path d="M553.5,71 C553.2,68.5 555.5,67.7 559,67.9 L582,68.3 C588,68.4 590.7,69.5 590.6,72.5 C590.5,76 587,77.3 582,77.4 L559,77.6 C555,77.6 553.3,76.2 553.4,73 Z" fill="#7c7c7c" stroke="#454545" stroke-width="0.85"/>
<ellipse cx="557" cy="72.7" rx="2.3" ry="2.6" fill="#d4d4d4" filter="url(#bl)"/>
<ellipse cx="574" cy="72.5" rx="8" ry="1.5" fill="#d4d4d4" filter="url(#bl)"/>
<path d="M553.5,71 C553.2,68.5 555.5,67.7 559,67.9 L582,68.3 C588,68.4 590.7,69.5 590.6,72.5 C590.5,76 587,77.3 582,77.4 L559,77.6 C555,77.6 553.3,76.2 553.4,73 Z" fill="none" stroke="#6a6a6a" stroke-width="0.45" transform="translate(571.95 72.65) scale(0.78) translate(-571.95 -72.65)"/>
<path d="M553.5,71 C553.2,68.5 555.5,67.7 559,67.9 L582,68.3 C588,68.4 590.7,69.5 590.6,72.5 C590.5,76 587,77.3 582,77.4 L559,77.6 C555,77.6 553.3,76.2 553.4,73 Z" fill="none" stroke="#a0a0a0" stroke-width="0.45" transform="translate(571.95 72.65) scale(0.55) translate(-571.95 -72.65)"/>
<clipPath id="bc2"><path d="M553.5,71 C553.2,68.5 555.5,67.7 559,67.9 L582,68.3 C588,68.4 590.7,69.5 590.6,72.5 C590.5,76 587,77.3 582,77.4 L559,77.6 C555,77.6 553.3,76.2 553.4,73 Z"/></clipPath><g clip-path="url(#bc2)">
<circle cx="557.21" cy="74.66" r="0.55" fill="#5c5c5c" opacity="0.55"/>
<circle cx="588.46" cy="70.38" r="0.55" fill="#b8b8b8" opacity="0.55"/>
<circle cx="580.73" cy="74.22" r="0.55" fill="#b8b8b8" opacity="0.55"/>
<circle cx="578.86" cy="71.63" r="0.55" fill="#5c5c5c" opacity="0.55"/>
<circle cx="557.64" cy="69.91" r="0.55" fill="#5c5c5c" opacity="0.55"/>
<circle cx="566.63" cy="70.28" r="0.55" fill="#5c5c5c" opacity="0.55"/>
<circle cx="576.89" cy="69.18" r="0.55" fill="#5c5c5c" opacity="0.55"/>
<circle cx="578.1" cy="69.33" r="0.55" fill="#5c5c5c" opacity="0.55"/>
<circle cx="557.81" cy="71.04" r="0.55" fill="#b8b8b8" opacity="0.55"/>
<circle cx="560.87" cy="77.38" r="0.55" fill="#b8b8b8" opacity="0.55"/>
<circle cx="590.34" cy="72.04" r="0.55" fill="#5c5c5c" opacity="0.55"/>
<circle cx="585.92" cy="74.5" r="0.55" fill="#b8b8b8" opacity="0.55"/>
<circle cx="575.29" cy="73.97" r="0.55" fill="#b8b8b8" opacity="0.55"/>
<circle cx="556.75" cy="76.36" r="0.55" fill="#5c5c5c" opacity="0.55"/>
<circle cx="560.47" cy="72.18" r="0.55" fill="#b8b8b8" opacity="0.55"/>
<circle cx="583.13" cy="72.65" r="0.55" fill="#b8b8b8" opacity="0.55"/>
<circle cx="583.88" cy="68.59" r="0.55" fill="#b8b8b8" opacity="0.55"/>
<circle cx="554.25" cy="75.03" r="0.55" fill="#b8b8b8" opacity="0.55"/>
<circle cx="572.92" cy="68.62" r="0.55" fill="#b8b8b8" opacity="0.55"/>
<circle cx="578.9" cy="73" r="0.55" fill="#b8b8b8" opacity="0.55"/>
<circle cx="571.38" cy="72.03" r="0.55" fill="#5c5c5c" opacity="0.55"/>
<circle cx="556.76" cy="72.4" r="0.55" fill="#b8b8b8" opacity="0.55"/>
<circle cx="585.65" cy="77" r="0.55" fill="#b8b8b8" opacity="0.55"/>
<circle cx="558.57" cy="74.66" r="0.55" fill="#5c5c5c" opacity="0.55"/>
<circle cx="553.92" cy="74.68" r="0.55" fill="#5c5c5c" opacity="0.55"/>
<circle cx="569.07" cy="71.14" r="0.55" fill="#5c5c5c" opacity="0.55"/>
<circle cx="588.42" cy="70.31" r="0.55" fill="#b8b8b8" opacity="0.55"/>
<circle cx="560.28" cy="73.92" r="0.55" fill="#b8b8b8" opacity="0.55"/>
<circle cx="562.8" cy="71.54" r="0.55" fill="#b8b8b8" opacity="0.55"/>
<circle cx="564.92" cy="77.43" r="0.55" fill="#5c5c5c" opacity="0.55"/>
<circle cx="563.8" cy="76.97" r="0.55" fill="#b8b8b8" opacity="0.55"/>
<circle cx="562.63" cy="68.05" r="0.55" fill="#b8b8b8" opacity="0.55"/>
<circle cx="560.66" cy="69.98" r="0.55" fill="#5c5c5c" opacity="0.55"/>
<circle cx="563.12" cy="70.16" r="0.55" fill="#5c5c5c" opacity="0.55"/>
<circle cx="587.59" cy="70.58" r="0.55" fill="#5c5c5c" opacity="0.55"/>
<circle cx="567.03" cy="73.26" r="0.55" fill="#5c5c5c" opacity="0.55"/>
<circle cx="588.54" cy="75.2" r="0.55" fill="#5c5c5c" opacity="0.55"/>
<circle cx="584.75" cy="71.33" r="0.55" fill="#b8b8b8" opacity="0.55"/>
<circle cx="589.2" cy="73.1" r="0.55" fill="#5c5c5c" opacity="0.55"/>
<circle cx="564.99" cy="76.76" r="0.55" fill="#5c5c5c" opacity="0.55"/>
<circle cx="562.47" cy="76.94" r="0.55" fill="#b8b8b8" opacity="0.55"/>
<circle cx="565.93" cy="70.3" r="0.55" fill="#b8b8b8" opacity="0.55"/>
<circle cx="560.72" cy="74.55" r="0.55" fill="#b8b8b8" opacity="0.55"/>
<circle cx="562.9" cy="72.13" r="0.55" fill="#5c5c5c" opacity="0.55"/>
<circle cx="567.47" cy="75.47" r="0.55" fill="#b8b8b8" opacity="0.55"/>
<circle cx="567.02" cy="71.91" r="0.55" fill="#b8b8b8" opacity="0.55"/>
<circle cx="561.54" cy="69.15" r="0.55" fill="#5c5c5c" opacity="0.55"/>
<circle cx="558.7" cy="74.31" r="0.55" fill="#b8b8b8" opacity="0.55"/>
<circle cx="577.46" cy="74.2" r="0.55" fill="#b8b8b8" opacity="0.55"/>
<circle cx="588.19" cy="74.2" r="0.55" fill="#5c5c5c" opacity="0.55"/>
<circle cx="554.94" cy="71.72" r="0.55" fill="#b8b8b8" opacity="0.55"/>
<circle cx="570.82" cy="76.94" r="0.55" fill="#5c5c5c" opacity="0.55"/>
<circle cx="555.52" cy="74.43" r="0.55" fill="#5c5c5c" opacity="0.55"/>
<circle cx="573.54" cy="68.66" r="0.55" fill="#5c5c5c" opacity="0.55"/>
<circle cx="569.19" cy="77.41" r="0.55" fill="#5c5c5c" opacity="0.55"/>
<circle cx="584.28" cy="76.92" r="0.55" fill="#b8b8b8" opacity="0.55"/>
<circle cx="582.97" cy="70.72" r="0.55" fill="#b8b8b8" opacity="0.55"/>
<circle cx="567.42" cy="73.53" r="0.55" fill="#b8b8b8" opacity="0.55"/>
<circle cx="570.06" cy="75.46" r="0.55" fill="#b8b8b8" opacity="0.55"/>
<circle cx="573.01" cy="70.63" r="0.55" fill="#5c5c5c" opacity="0.55"/>
<circle cx="562.51" cy="74.44" r="0.55" fill="#5c5c5c" opacity="0.55"/>
</g>
<path d="M557.5,89 C560,89 561.5,91 562,92.2 C568,91.6 575,91.2 581,91.3 C585,91.4 586.2,93 585.8,95 C585.5,97 583,97.6 580,97.9 C574,98.4 568,99.4 562.5,100.2 C562,103 560.5,106 557.5,106.1 C554.5,106.1 553.3,104 553.3,100 C553.3,95 554.5,89 557.5,89 Z" fill="#7c7c7c" stroke="#454545" stroke-width="0.85"/>
<ellipse cx="556.8" cy="98" rx="2" ry="3.2" fill="#d4d4d4" filter="url(#bl)"/>
<ellipse cx="573" cy="94.8" rx="7" ry="1.3" fill="#d4d4d4" filter="url(#bl)"/>
<path d="M557.5,89 C560,89 561.5,91 562,92.2 C568,91.6 575,91.2 581,91.3 C585,91.4 586.2,93 585.8,95 C585.5,97 583,97.6 580,97.9 C574,98.4 568,99.4 562.5,100.2 C562,103 560.5,106 557.5,106.1 C554.5,106.1 553.3,104 553.3,100 C553.3,95 554.5,89 557.5,89 Z" fill="none" stroke="#6a6a6a" stroke-width="0.45" transform="translate(569.75 97.55) scale(0.78) translate(-569.75 -97.55)"/>
<path d="M557.5,89 C560,89 561.5,91 562,92.2 C568,91.6 575,91.2 581,91.3 C585,91.4 586.2,93 585.8,95 C585.5,97 583,97.6 580,97.9 C574,98.4 568,99.4 562.5,100.2 C562,103 560.5,106 557.5,106.1 C554.5,106.1 553.3,104 553.3,100 C553.3,95 554.5,89 557.5,89 Z" fill="none" stroke="#a0a0a0" stroke-width="0.45" transform="translate(569.75 97.55) scale(0.55) translate(-569.75 -97.55)"/>
<clipPath id="bc3"><path d="M557.5,89 C560,89 561.5,91 562,92.2 C568,91.6 575,91.2 581,91.3 C585,91.4 586.2,93 585.8,95 C585.5,97 583,97.6 580,97.9 C574,98.4 568,99.4 562.5,100.2 C562,103 560.5,106 557.5,106.1 C554.5,106.1 553.3,104 553.3,100 C553.3,95 554.5,89 557.5,89 Z"/></clipPath><g clip-path="url(#bc3)">
<circle cx="558.73" cy="100.8" r="0.55" fill="#5c5c5c" opacity="0.55"/>
<circle cx="569.06" cy="92.69" r="0.55" fill="#5c5c5c" opacity="0.55"/>
<circle cx="579.88" cy="97.76" r="0.55" fill="#5c5c5c" opacity="0.55"/>
<circle cx="561.07" cy="89.05" r="0.55" fill="#b8b8b8" opacity="0.55"/>
<circle cx="572.56" cy="90.18" r="0.55" fill="#5c5c5c" opacity="0.55"/>
<circle cx="560.94" cy="92.98" r="0.55" fill="#b8b8b8" opacity="0.55"/>
<circle cx="586.12" cy="101.63" r="0.55" fill="#5c5c5c" opacity="0.55"/>
<circle cx="573.56" cy="89.58" r="0.55" fill="#b8b8b8" opacity="0.55"/>
<circle cx="569.67" cy="90.98" r="0.55" fill="#5c5c5c" opacity="0.55"/>
<circle cx="565.42" cy="91.65" r="0.55" fill="#5c5c5c" opacity="0.55"/>
<circle cx="557.41" cy="104.87" r="0.55" fill="#b8b8b8" opacity="0.55"/>
<circle cx="571.46" cy="94.86" r="0.55" fill="#b8b8b8" opacity="0.55"/>
<circle cx="559.45" cy="89.64" r="0.55" fill="#5c5c5c" opacity="0.55"/>
<circle cx="561.03" cy="102.34" r="0.55" fill="#b8b8b8" opacity="0.55"/>
<circle cx="585.17" cy="104.29" r="0.55" fill="#5c5c5c" opacity="0.55"/>
<circle cx="578.4" cy="98.93" r="0.55" fill="#5c5c5c" opacity="0.55"/>
<circle cx="557.33" cy="97.15" r="0.55" fill="#5c5c5c" opacity="0.55"/>
<circle cx="559.92" cy="104.79" r="0.55" fill="#5c5c5c" opacity="0.55"/>
<circle cx="566.78" cy="95.25" r="0.55" fill="#b8b8b8" opacity="0.55"/>
<circle cx="565.99" cy="106.01" r="0.55" fill="#b8b8b8" opacity="0.55"/>
<circle cx="554.18" cy="90.59" r="0.55" fill="#5c5c5c" opacity="0.55"/>
<circle cx="585.96" cy="97.48" r="0.55" fill="#b8b8b8" opacity="0.55"/>
<circle cx="571.41" cy="101.79" r="0.55" fill="#b8b8b8" opacity="0.55"/>
<circle cx="573.33" cy="98.52" r="0.55" fill="#5c5c5c" opacity="0.55"/>
<circle cx="559.24" cy="91.91" r="0.55" fill="#b8b8b8" opacity="0.55"/>
<circle cx="583.8" cy="94.93" r="0.55" fill="#5c5c5c" opacity="0.55"/>
<circle cx="563.39" cy="90.77" r="0.55" fill="#b8b8b8" opacity="0.55"/>
<circle cx="580.07" cy="102.29" r="0.55" fill="#b8b8b8" opacity="0.55"/>
<circle cx="575.78" cy="100.56" r="0.55" fill="#5c5c5c" opacity="0.55"/>
<circle cx="584.83" cy="95.96" r="0.55" fill="#5c5c5c" opacity="0.55"/>
<circle cx="584.93" cy="99.1" r="0.55" fill="#5c5c5c" opacity="0.55"/>
<circle cx="569.45" cy="95.42" r="0.55" fill="#b8b8b8" opacity="0.55"/>
<circle cx="582.13" cy="91.78" r="0.55" fill="#b8b8b8" opacity="0.55"/>
<circle cx="579.79" cy="102.23" r="0.55" fill="#b8b8b8" opacity="0.55"/>
<circle cx="580.84" cy="89.89" r="0.55" fill="#b8b8b8" opacity="0.55"/>
<circle cx="562.84" cy="96.17" r="0.55" fill="#b8b8b8" opacity="0.55"/>
<circle cx="555.58" cy="94.78" r="0.55" fill="#5c5c5c" opacity="0.55"/>
<circle cx="585.66" cy="101.75" r="0.55" fill="#b8b8b8" opacity="0.55"/>
<circle cx="561.6" cy="105.4" r="0.55" fill="#5c5c5c" opacity="0.55"/>
<circle cx="577.27" cy="89.48" r="0.55" fill="#b8b8b8" opacity="0.55"/>
<circle cx="580.88" cy="102.6" r="0.55" fill="#5c5c5c" opacity="0.55"/>
<circle cx="573.08" cy="96.29" r="0.55" fill="#5c5c5c" opacity="0.55"/>
<circle cx="581.24" cy="94.27" r="0.55" fill="#5c5c5c" opacity="0.55"/>
<circle cx="562.38" cy="102.14" r="0.55" fill="#b8b8b8" opacity="0.55"/>
<circle cx="575.85" cy="105.31" r="0.55" fill="#b8b8b8" opacity="0.55"/>
<circle cx="572.83" cy="100.01" r="0.55" fill="#5c5c5c" opacity="0.55"/>
<circle cx="572.52" cy="93.4" r="0.55" fill="#b8b8b8" opacity="0.55"/>
<circle cx="584.84" cy="104.49" r="0.55" fill="#b8b8b8" opacity="0.55"/>
<circle cx="556.42" cy="90.61" r="0.55" fill="#b8b8b8" opacity="0.55"/>
<circle cx="568" cy="91.41" r="0.55" fill="#5c5c5c" opacity="0.55"/>
<circle cx="574.86" cy="91.16" r="0.55" fill="#5c5c5c" opacity="0.55"/>
<circle cx="563.97" cy="97.45" r="0.55" fill="#b8b8b8" opacity="0.55"/>
<circle cx="558.76" cy="92.15" r="0.55" fill="#b8b8b8" opacity="0.55"/>
<circle cx="576.66" cy="98.41" r="0.55" fill="#b8b8b8" opacity="0.55"/>
<circle cx="576.69" cy="103.94" r="0.55" fill="#5c5c5c" opacity="0.55"/>
<circle cx="579.31" cy="89.13" r="0.55" fill="#b8b8b8" opacity="0.55"/>
<circle cx="555.39" cy="102.06" r="0.55" fill="#b8b8b8" opacity="0.55"/>
<circle cx="576.71" cy="93.32" r="0.55" fill="#5c5c5c" opacity="0.55"/>
<circle cx="563.62" cy="89.72" r="0.55" fill="#b8b8b8" opacity="0.55"/>
<circle cx="563.48" cy="104.4" r="0.55" fill="#b8b8b8" opacity="0.55"/>
<circle cx="569.85" cy="98.39" r="0.55" fill="#5c5c5c" opacity="0.55"/>
<circle cx="556.54" cy="99.28" r="0.55" fill="#5c5c5c" opacity="0.55"/>
<circle cx="577.47" cy="105.54" r="0.55" fill="#b8b8b8" opacity="0.55"/>
<circle cx="576.31" cy="97.99" r="0.55" fill="#5c5c5c" opacity="0.55"/>
<circle cx="555.4" cy="102.93" r="0.55" fill="#5c5c5c" opacity="0.55"/>
<circle cx="564.99" cy="94.44" r="0.55" fill="#5c5c5c" opacity="0.55"/>
<circle cx="556.84" cy="90.3" r="0.55" fill="#b8b8b8" opacity="0.55"/>
<circle cx="580.09" cy="101.99" r="0.55" fill="#b8b8b8" opacity="0.55"/>
<circle cx="573.74" cy="89.34" r="0.55" fill="#5c5c5c" opacity="0.55"/>
<circle cx="567.86" cy="97.85" r="0.55" fill="#b8b8b8" opacity="0.55"/>
<circle cx="566.51" cy="92.86" r="0.55" fill="#b8b8b8" opacity="0.55"/>
<circle cx="567.58" cy="93.22" r="0.55" fill="#5c5c5c" opacity="0.55"/>
<circle cx="580.19" cy="101.38" r="0.55" fill="#b8b8b8" opacity="0.55"/>
<circle cx="561.08" cy="95.59" r="0.55" fill="#b8b8b8" opacity="0.55"/>
<circle cx="574.09" cy="105.47" r="0.55" fill="#b8b8b8" opacity="0.55"/>
<circle cx="569.08" cy="97.41" r="0.55" fill="#5c5c5c" opacity="0.55"/>
<circle cx="582.6" cy="102.33" r="0.55" fill="#5c5c5c" opacity="0.55"/>
<circle cx="578.26" cy="100.42" r="0.55" fill="#5c5c5c" opacity="0.55"/>
<circle cx="576.3" cy="100.68" r="0.55" fill="#b8b8b8" opacity="0.55"/>
<circle cx="583.46" cy="95.6" r="0.55" fill="#5c5c5c" opacity="0.55"/>
<circle cx="580.44" cy="105.48" r="0.55" fill="#5c5c5c" opacity="0.55"/>
<circle cx="553.51" cy="94.35" r="0.55" fill="#b8b8b8" opacity="0.55"/>
<circle cx="566.17" cy="91.49" r="0.55" fill="#5c5c5c" opacity="0.55"/>
<circle cx="555.92" cy="94.17" r="0.55" fill="#5c5c5c" opacity="0.55"/>
<circle cx="577.72" cy="96.91" r="0.55" fill="#b8b8b8" opacity="0.55"/>
<circle cx="584.75" cy="101.04" r="0.55" fill="#b8b8b8" opacity="0.55"/>
<circle cx="564.33" cy="99.97" r="0.55" fill="#5c5c5c" opacity="0.55"/>
<circle cx="561.88" cy="105.27" r="0.55" fill="#b8b8b8" opacity="0.55"/>
<circle cx="561.66" cy="103.46" r="0.55" fill="#b8b8b8" opacity="0.55"/>
<circle cx="575.71" cy="92.42" r="0.55" fill="#5c5c5c" opacity="0.55"/>
<circle cx="562.43" cy="95.48" r="0.55" fill="#5c5c5c" opacity="0.55"/>
<circle cx="568.66" cy="96.47" r="0.55" fill="#5c5c5c" opacity="0.55"/>
<circle cx="562.53" cy="91.98" r="0.55" fill="#b8b8b8" opacity="0.55"/>
</g>
<path d="M552.3,110 C552.3,106.5 554.5,105 557,105 C559.5,105 561,105.8 562,106.3 C567,106.6 573,107.6 576.5,109 C578,109.6 577.5,110.4 576,110.8 C571,111.8 566,112.4 562,112.6 C561,114 559,114.6 557,114.6 C554,114.6 552.3,113 552.3,110 Z" fill="#7c7c7c" stroke="#454545" stroke-width="0.85"/>
<ellipse cx="556.5" cy="110" rx="2" ry="2.3" fill="#d4d4d4" filter="url(#bl)"/>
<path d="M552.3,110 C552.3,106.5 554.5,105 557,105 C559.5,105 561,105.8 562,106.3 C567,106.6 573,107.6 576.5,109 C578,109.6 577.5,110.4 576,110.8 C571,111.8 566,112.4 562,112.6 C561,114 559,114.6 557,114.6 C554,114.6 552.3,113 552.3,110 Z" fill="none" stroke="#6a6a6a" stroke-width="0.45" transform="translate(565.15 109.8) scale(0.78) translate(-565.15 -109.8)"/>
<path d="M552.3,110 C552.3,106.5 554.5,105 557,105 C559.5,105 561,105.8 562,106.3 C567,106.6 573,107.6 576.5,109 C578,109.6 577.5,110.4 576,110.8 C571,111.8 566,112.4 562,112.6 C561,114 559,114.6 557,114.6 C554,114.6 552.3,113 552.3,110 Z" fill="none" stroke="#a0a0a0" stroke-width="0.45" transform="translate(565.15 109.8) scale(0.55) translate(-565.15 -109.8)"/>
<clipPath id="bc4"><path d="M552.3,110 C552.3,106.5 554.5,105 557,105 C559.5,105 561,105.8 562,106.3 C567,106.6 573,107.6 576.5,109 C578,109.6 577.5,110.4 576,110.8 C571,111.8 566,112.4 562,112.6 C561,114 559,114.6 557,114.6 C554,114.6 552.3,113 552.3,110 Z"/></clipPath><g clip-path="url(#bc4)">
<circle cx="555.2" cy="106.26" r="0.55" fill="#5c5c5c" opacity="0.55"/>
<circle cx="556.88" cy="106.27" r="0.55" fill="#b8b8b8" opacity="0.55"/>
<circle cx="563.03" cy="107.05" r="0.55" fill="#b8b8b8" opacity="0.55"/>
<circle cx="573.95" cy="106.26" r="0.55" fill="#b8b8b8" opacity="0.55"/>
<circle cx="553.01" cy="107.3" r="0.55" fill="#b8b8b8" opacity="0.55"/>
<circle cx="577.61" cy="108.02" r="0.55" fill="#5c5c5c" opacity="0.55"/>
<circle cx="555.63" cy="113.68" r="0.55" fill="#5c5c5c" opacity="0.55"/>
<circle cx="570.05" cy="111.36" r="0.55" fill="#b8b8b8" opacity="0.55"/>
<circle cx="558.28" cy="111.52" r="0.55" fill="#b8b8b8" opacity="0.55"/>
<circle cx="552.64" cy="112.4" r="0.55" fill="#5c5c5c" opacity="0.55"/>
<circle cx="558.98" cy="110" r="0.55" fill="#5c5c5c" opacity="0.55"/>
<circle cx="559.47" cy="106.19" r="0.55" fill="#b8b8b8" opacity="0.55"/>
<circle cx="556.61" cy="108.53" r="0.55" fill="#b8b8b8" opacity="0.55"/>
<circle cx="571.93" cy="112.74" r="0.55" fill="#b8b8b8" opacity="0.55"/>
<circle cx="562" cy="107.47" r="0.55" fill="#5c5c5c" opacity="0.55"/>
<circle cx="574.86" cy="111.36" r="0.55" fill="#b8b8b8" opacity="0.55"/>
<circle cx="556.73" cy="112.37" r="0.55" fill="#b8b8b8" opacity="0.55"/>
<circle cx="570" cy="109.04" r="0.55" fill="#b8b8b8" opacity="0.55"/>
<circle cx="557.38" cy="113.77" r="0.55" fill="#b8b8b8" opacity="0.55"/>
<circle cx="569.64" cy="112.31" r="0.55" fill="#b8b8b8" opacity="0.55"/>
<circle cx="565.13" cy="113.26" r="0.55" fill="#5c5c5c" opacity="0.55"/>
<circle cx="565.69" cy="110.23" r="0.55" fill="#b8b8b8" opacity="0.55"/>
<circle cx="563.26" cy="111.44" r="0.55" fill="#b8b8b8" opacity="0.55"/>
<circle cx="574.54" cy="107.83" r="0.55" fill="#b8b8b8" opacity="0.55"/>
<circle cx="577.07" cy="105.15" r="0.55" fill="#b8b8b8" opacity="0.55"/>
<circle cx="566.5" cy="109.22" r="0.55" fill="#5c5c5c" opacity="0.55"/>
<circle cx="569.61" cy="109.84" r="0.55" fill="#b8b8b8" opacity="0.55"/>
<circle cx="577.61" cy="108.51" r="0.55" fill="#b8b8b8" opacity="0.55"/>
<circle cx="557.94" cy="106.89" r="0.55" fill="#b8b8b8" opacity="0.55"/>
<circle cx="555.68" cy="111.46" r="0.55" fill="#b8b8b8" opacity="0.55"/>
<circle cx="565.43" cy="111.26" r="0.55" fill="#b8b8b8" opacity="0.55"/>
<circle cx="571.83" cy="106.86" r="0.55" fill="#5c5c5c" opacity="0.55"/>
<circle cx="575.12" cy="109.33" r="0.55" fill="#b8b8b8" opacity="0.55"/>
<circle cx="565.3" cy="113.64" r="0.55" fill="#5c5c5c" opacity="0.55"/>
<circle cx="570.7" cy="108.85" r="0.55" fill="#b8b8b8" opacity="0.55"/>
<circle cx="570.22" cy="108.17" r="0.55" fill="#5c5c5c" opacity="0.55"/>
<circle cx="561.09" cy="110.53" r="0.55" fill="#5c5c5c" opacity="0.55"/>
<circle cx="565.8" cy="113.08" r="0.55" fill="#5c5c5c" opacity="0.55"/>
<circle cx="572.37" cy="111.18" r="0.55" fill="#b8b8b8" opacity="0.55"/>
<circle cx="562.37" cy="109.43" r="0.55" fill="#5c5c5c" opacity="0.55"/>
<circle cx="571.21" cy="105.87" r="0.55" fill="#b8b8b8" opacity="0.55"/>
</g>
</g>
<rect x="551.5" y="41.5" width="46" height="74" fill="none" stroke="#1a1a1a" stroke-width="1"/>
<line x1="551.5" y1="77.5" x2="597.5" y2="77.5" stroke="#1a1a1a" stroke-width="1"/>
<line x1="562.8" y1="42" x2="562.8" y2="114.8" stroke="#444" stroke-width="0.9" stroke-dasharray="1.9 1.5"/>
<text transform="translate(550.2 115.6) rotate(-90)" font-size="7.8">CD4-APC-Cy7</text>
<path d="M547.6,61.4 L547.6,47.2" stroke="#000" stroke-width="0.8"/><path d="M546.2,47.8 L547.6,44.2 L549,47.8 Z" fill="#000"/>
<text x="543.4" y="124.6" font-size="7.8">TNF-PE-Cy7</text>
<path d="M589.5,122.1 L595.3,122.1" stroke="#000" stroke-width="0.8"/><path d="M594.7,120.7 L598.3,122.1 L594.7,123.5 Z" fill="#000"/>
<text transform="translate(606.3 61.5) rotate(-90)" font-size="7.8" text-anchor="middle">SD-36</text>
<text transform="translate(606.3 98) rotate(-90)" font-size="7.8" text-anchor="middle">Vehicle</text>
<g class="pl">
<text x="622.4" y="24.6" font-size="10.5" font-weight="bold" fill="#000">h</text>
</g>
<line x1="651.3" y1="44.8" x2="651.3" y2="110.9" stroke="#8a8a8a" stroke-width="1"/>
<line x1="647.5" y1="45.3" x2="651.3" y2="45.3" stroke="#8a8a8a" stroke-width="1"/>
<text x="644.3" y="47.9" font-size="7.8" text-anchor="end">80</text>
<line x1="647.5" y1="61.58" x2="651.3" y2="61.58" stroke="#8a8a8a" stroke-width="1"/>
<text x="644.3" y="64.17" font-size="7.8" text-anchor="end">60</text>
<line x1="647.5" y1="77.85" x2="651.3" y2="77.85" stroke="#8a8a8a" stroke-width="1"/>
<text x="644.3" y="80.45" font-size="7.8" text-anchor="end">40</text>
<line x1="647.5" y1="94.12" x2="651.3" y2="94.12" stroke="#8a8a8a" stroke-width="1"/>
<text x="644.3" y="96.72" font-size="7.8" text-anchor="end">20</text>
<line x1="647.5" y1="110.4" x2="651.3" y2="110.4" stroke="#8a8a8a" stroke-width="1"/>
<text x="644.3" y="113" font-size="7.8" text-anchor="end">0</text>
<line x1="650.8" y1="110.4" x2="684.6" y2="110.4" stroke="#8a8a8a" stroke-width="1"/>
<line x1="660.7" y1="110.4" x2="660.7" y2="114.2" stroke="#8a8a8a" stroke-width="1"/>
<line x1="674.7" y1="110.4" x2="674.7" y2="114.2" stroke="#8a8a8a" stroke-width="1"/>
<rect x="656" y="87.2" width="9.5" height="23.2" fill="#c9dbf6" stroke="#3a3ae0" stroke-width="0.9"/>
<rect x="670" y="70.4" width="9.4" height="40" fill="#fde2e2" stroke="#ff3a3a" stroke-width="0.9"/>
<line x1="660.75" y1="80.7" x2="660.75" y2="87.2" stroke="#3a3ae0" stroke-width="0.8"/>
<line x1="658.6" y1="80.7" x2="662.9" y2="80.7" stroke="#3a3ae0" stroke-width="0.8"/>
<line x1="674.7" y1="67.7" x2="674.7" y2="70.4" stroke="#ff3a3a" stroke-width="0.8"/>
<line x1="672.55" y1="67.7" x2="676.85" y2="67.7" stroke="#ff3a3a" stroke-width="0.8"/>
<circle cx="660.5" cy="71.5" r="1.5" fill="#1414c8"/>
<circle cx="660.5" cy="78.3" r="1.5" fill="#1414c8"/>
<circle cx="661.7" cy="81.4" r="1.5" fill="#1414c8"/>
<circle cx="660.5" cy="90.2" r="1.5" fill="#1414c8"/>
<circle cx="660.5" cy="97.6" r="1.5" fill="#1414c8"/>
<circle cx="660.5" cy="104.3" r="1.5" fill="#1414c8"/>
<circle cx="675.1" cy="59.4" r="1.5" fill="#f01010"/>
<circle cx="675.1" cy="62.8" r="1.5" fill="#f01010"/>
<circle cx="672.2" cy="72.2" r="1.5" fill="#f01010"/>
<circle cx="678.5" cy="72.2" r="1.5" fill="#f01010"/>
<circle cx="675.1" cy="73.8" r="1.5" fill="#f01010"/>
<circle cx="675.1" cy="80.1" r="1.5" fill="#f01010"/>
<g class="ns">
<text x="675.6" y="54.38" font-size="9" text-anchor="middle">*</text>
</g>
<text transform="translate(629.6 78.2) rotate(-90)" font-size="7.8" text-anchor="middle">TNF<tspan font-size="5.8" dy="-3.4">+</tspan><tspan dy="3.4"> (% in CD8</tspan><tspan font-size="5.8" dy="-3.4">+</tspan><tspan dy="3.4"> T cells)</tspan></text>
<text transform="translate(663.5 120) rotate(-45)" font-size="8" text-anchor="end">Vehicle</text>
<text transform="translate(677.9 120.3) rotate(-45)" font-size="8" text-anchor="end">SD-36</text>
<g class="pl">
<text x="0.6" y="157.2" font-size="10.5" font-weight="bold" fill="#000">i</text>
</g>
<g filter="url(#rough)">
<path d="M16.3,184 C20,184 22,186.5 22.8,188 C26,187.2 30,186 34,185.5 C39,185 43.2,186 43.2,189.8 C43.2,193.5 39.5,194.6 35,194.6 C30,194.6 26,193.8 22.8,193 C22,196 19.5,197.9 16.3,197.9 C12.5,197.9 10.7,195 10.7,191 C10.7,187 12.5,184 16.3,184 Z" fill="#7c7c7c" stroke="#454545" stroke-width="0.85"/>
<ellipse cx="15.8" cy="190.5" rx="2.6" ry="3.3" fill="#d4d4d4" filter="url(#bl)"/>
<ellipse cx="33" cy="190" rx="6" ry="1.6" fill="#d4d4d4" filter="url(#bl)"/>
<path d="M16.3,184 C20,184 22,186.5 22.8,188 C26,187.2 30,186 34,185.5 C39,185 43.2,186 43.2,189.8 C43.2,193.5 39.5,194.6 35,194.6 C30,194.6 26,193.8 22.8,193 C22,196 19.5,197.9 16.3,197.9 C12.5,197.9 10.7,195 10.7,191 C10.7,187 12.5,184 16.3,184 Z" fill="none" stroke="#6a6a6a" stroke-width="0.45" transform="translate(26.95 190.95) scale(0.78) translate(-26.95 -190.95)"/>
<path d="M16.3,184 C20,184 22,186.5 22.8,188 C26,187.2 30,186 34,185.5 C39,185 43.2,186 43.2,189.8 C43.2,193.5 39.5,194.6 35,194.6 C30,194.6 26,193.8 22.8,193 C22,196 19.5,197.9 16.3,197.9 C12.5,197.9 10.7,195 10.7,191 C10.7,187 12.5,184 16.3,184 Z" fill="none" stroke="#a0a0a0" stroke-width="0.45" transform="translate(26.95 190.95) scale(0.55) translate(-26.95 -190.95)"/>
<clipPath id="bc5"><path d="M16.3,184 C20,184 22,186.5 22.8,188 C26,187.2 30,186 34,185.5 C39,185 43.2,186 43.2,189.8 C43.2,193.5 39.5,194.6 35,194.6 C30,194.6 26,193.8 22.8,193 C22,196 19.5,197.9 16.3,197.9 C12.5,197.9 10.7,195 10.7,191 C10.7,187 12.5,184 16.3,184 Z"/></clipPath><g clip-path="url(#bc5)">
<circle cx="28.53" cy="194.43" r="0.55" fill="#5c5c5c" opacity="0.55"/>
<circle cx="38.81" cy="187.97" r="0.55" fill="#5c5c5c" opacity="0.55"/>
<circle cx="29.12" cy="194.39" r="0.55" fill="#5c5c5c" opacity="0.55"/>
<circle cx="40.9" cy="187.81" r="0.55" fill="#b8b8b8" opacity="0.55"/>
<circle cx="34.01" cy="192.14" r="0.55" fill="#5c5c5c" opacity="0.55"/>
<circle cx="22.54" cy="197.28" r="0.55" fill="#b8b8b8" opacity="0.55"/>
<circle cx="34.15" cy="189.21" r="0.55" fill="#b8b8b8" opacity="0.55"/>
<circle cx="32.64" cy="184.72" r="0.55" fill="#b8b8b8" opacity="0.55"/>
<circle cx="21.26" cy="186.18" r="0.55" fill="#b8b8b8" opacity="0.55"/>
<circle cx="13.09" cy="195.76" r="0.55" fill="#b8b8b8" opacity="0.55"/>
<circle cx="15.93" cy="185.07" r="0.55" fill="#5c5c5c" opacity="0.55"/>
<circle cx="28.44" cy="195.43" r="0.55" fill="#5c5c5c" opacity="0.55"/>
<circle cx="26.8" cy="189.49" r="0.55" fill="#b8b8b8" opacity="0.55"/>
<circle cx="19.3" cy="192.27" r="0.55" fill="#5c5c5c" opacity="0.55"/>
<circle cx="27.06" cy="194.52" r="0.55" fill="#5c5c5c" opacity="0.55"/>
<circle cx="37.68" cy="193.32" r="0.55" fill="#5c5c5c" opacity="0.55"/>
<circle cx="13.88" cy="189.25" r="0.55" fill="#5c5c5c" opacity="0.55"/>
<circle cx="25.07" cy="193.46" r="0.55" fill="#b8b8b8" opacity="0.55"/>
<circle cx="29.65" cy="187.05" r="0.55" fill="#5c5c5c" opacity="0.55"/>
<circle cx="37.14" cy="184.25" r="0.55" fill="#5c5c5c" opacity="0.55"/>
<circle cx="13.77" cy="197.19" r="0.55" fill="#b8b8b8" opacity="0.55"/>
<circle cx="14.89" cy="196.41" r="0.55" fill="#5c5c5c" opacity="0.55"/>
<circle cx="11.05" cy="190.48" r="0.55" fill="#5c5c5c" opacity="0.55"/>
<circle cx="16.07" cy="194.46" r="0.55" fill="#b8b8b8" opacity="0.55"/>
<circle cx="25.06" cy="189.5" r="0.55" fill="#b8b8b8" opacity="0.55"/>
<circle cx="23.37" cy="191.26" r="0.55" fill="#5c5c5c" opacity="0.55"/>
<circle cx="28.24" cy="186.36" r="0.55" fill="#5c5c5c" opacity="0.55"/>
<circle cx="20.13" cy="196.51" r="0.55" fill="#b8b8b8" opacity="0.55"/>
<circle cx="35.94" cy="185.19" r="0.55" fill="#5c5c5c" opacity="0.55"/>
<circle cx="22.11" cy="190.39" r="0.55" fill="#5c5c5c" opacity="0.55"/>
<circle cx="36.64" cy="184.05" r="0.55" fill="#5c5c5c" opacity="0.55"/>
<circle cx="31.88" cy="185.43" r="0.55" fill="#5c5c5c" opacity="0.55"/>
<circle cx="37.02" cy="189.17" r="0.55" fill="#5c5c5c" opacity="0.55"/>
<circle cx="15.97" cy="190.33" r="0.55" fill="#b8b8b8" opacity="0.55"/>
<circle cx="37.46" cy="188.24" r="0.55" fill="#b8b8b8" opacity="0.55"/>
<circle cx="43.16" cy="189.73" r="0.55" fill="#b8b8b8" opacity="0.55"/>
<circle cx="33.5" cy="186.49" r="0.55" fill="#5c5c5c" opacity="0.55"/>
<circle cx="33.12" cy="190.86" r="0.55" fill="#5c5c5c" opacity="0.55"/>
<circle cx="39.2" cy="185.37" r="0.55" fill="#5c5c5c" opacity="0.55"/>
<circle cx="27.66" cy="194.87" r="0.55" fill="#5c5c5c" opacity="0.55"/>
<circle cx="41.99" cy="194.63" r="0.55" fill="#b8b8b8" opacity="0.55"/>
<circle cx="15.41" cy="189.55" r="0.55" fill="#b8b8b8" opacity="0.55"/>
<circle cx="18.16" cy="191.56" r="0.55" fill="#5c5c5c" opacity="0.55"/>
<circle cx="23.62" cy="194.55" r="0.55" fill="#b8b8b8" opacity="0.55"/>
<circle cx="25.04" cy="190.15" r="0.55" fill="#5c5c5c" opacity="0.55"/>
<circle cx="38.92" cy="192.2" r="0.55" fill="#b8b8b8" opacity="0.55"/>
<circle cx="30.03" cy="188.98" r="0.55" fill="#b8b8b8" opacity="0.55"/>
<circle cx="29.28" cy="187.07" r="0.55" fill="#5c5c5c" opacity="0.55"/>
<circle cx="22.72" cy="189.08" r="0.55" fill="#5c5c5c" opacity="0.55"/>
<circle cx="12.37" cy="188.5" r="0.55" fill="#5c5c5c" opacity="0.55"/>
<circle cx="14.62" cy="189.42" r="0.55" fill="#5c5c5c" opacity="0.55"/>
<circle cx="26.12" cy="192.59" r="0.55" fill="#5c5c5c" opacity="0.55"/>
<circle cx="38.08" cy="189.95" r="0.55" fill="#b8b8b8" opacity="0.55"/>
<circle cx="11.08" cy="194.33" r="0.55" fill="#b8b8b8" opacity="0.55"/>
<circle cx="25.83" cy="185.71" r="0.55" fill="#5c5c5c" opacity="0.55"/>
<circle cx="25.61" cy="185.57" r="0.55" fill="#5c5c5c" opacity="0.55"/>
<circle cx="13.61" cy="188.86" r="0.55" fill="#b8b8b8" opacity="0.55"/>
<circle cx="35.4" cy="192.35" r="0.55" fill="#b8b8b8" opacity="0.55"/>
<circle cx="21.58" cy="190.23" r="0.55" fill="#5c5c5c" opacity="0.55"/>
<circle cx="22.05" cy="194.49" r="0.55" fill="#b8b8b8" opacity="0.55"/>
<circle cx="14.59" cy="194.81" r="0.55" fill="#b8b8b8" opacity="0.55"/>
<circle cx="12.17" cy="186.79" r="0.55" fill="#b8b8b8" opacity="0.55"/>
<circle cx="13.57" cy="189.21" r="0.55" fill="#5c5c5c" opacity="0.55"/>
<circle cx="13.14" cy="188.94" r="0.55" fill="#b8b8b8" opacity="0.55"/>
<circle cx="15.64" cy="197.16" r="0.55" fill="#b8b8b8" opacity="0.55"/>
<circle cx="17.03" cy="190.13" r="0.55" fill="#b8b8b8" opacity="0.55"/>
<circle cx="26.07" cy="186.47" r="0.55" fill="#b8b8b8" opacity="0.55"/>
<circle cx="15.4" cy="196.06" r="0.55" fill="#5c5c5c" opacity="0.55"/>
<circle cx="31.7" cy="187.09" r="0.55" fill="#b8b8b8" opacity="0.55"/>
<circle cx="18.57" cy="190.99" r="0.55" fill="#b8b8b8" opacity="0.55"/>
<circle cx="16.71" cy="196.91" r="0.55" fill="#b8b8b8" opacity="0.55"/>
<circle cx="16.71" cy="195.27" r="0.55" fill="#b8b8b8" opacity="0.55"/>
<circle cx="28.72" cy="191.28" r="0.55" fill="#b8b8b8" opacity="0.55"/>
<circle cx="12.19" cy="193.52" r="0.55" fill="#b8b8b8" opacity="0.55"/>
<circle cx="38.6" cy="197.48" r="0.55" fill="#b8b8b8" opacity="0.55"/>
</g>
<path d="M10.7,203.3 C10.7,200 13,198.6 16,198.6 C20,198.6 23,199.6 27,199.8 C33,200 40,199.8 43,201.5 C45,203 44.8,206 42,207 C38,207.8 30,207.9 25,207.9 L16,207.9 C12.5,207.9 10.7,206.5 10.7,203.3 Z" fill="#7c7c7c" stroke="#454545" stroke-width="0.85"/>
<ellipse cx="15.8" cy="203.3" rx="2.4" ry="2.4" fill="#d4d4d4" filter="url(#bl)"/>
<ellipse cx="31" cy="203.5" rx="7" ry="1.4" fill="#d4d4d4" filter="url(#bl)"/>
<path d="M10.7,203.3 C10.7,200 13,198.6 16,198.6 C20,198.6 23,199.6 27,199.8 C33,200 40,199.8 43,201.5 C45,203 44.8,206 42,207 C38,207.8 30,207.9 25,207.9 L16,207.9 C12.5,207.9 10.7,206.5 10.7,203.3 Z" fill="none" stroke="#6a6a6a" stroke-width="0.45" transform="translate(27.85 203.25) scale(0.78) translate(-27.85 -203.25)"/>
<path d="M10.7,203.3 C10.7,200 13,198.6 16,198.6 C20,198.6 23,199.6 27,199.8 C33,200 40,199.8 43,201.5 C45,203 44.8,206 42,207 C38,207.8 30,207.9 25,207.9 L16,207.9 C12.5,207.9 10.7,206.5 10.7,203.3 Z" fill="none" stroke="#a0a0a0" stroke-width="0.45" transform="translate(27.85 203.25) scale(0.55) translate(-27.85 -203.25)"/>
<clipPath id="bc6"><path d="M10.7,203.3 C10.7,200 13,198.6 16,198.6 C20,198.6 23,199.6 27,199.8 C33,200 40,199.8 43,201.5 C45,203 44.8,206 42,207 C38,207.8 30,207.9 25,207.9 L16,207.9 C12.5,207.9 10.7,206.5 10.7,203.3 Z"/></clipPath><g clip-path="url(#bc6)">
<circle cx="32.63" cy="198.83" r="0.55" fill="#b8b8b8" opacity="0.55"/>
<circle cx="18.36" cy="205.45" r="0.55" fill="#5c5c5c" opacity="0.55"/>
<circle cx="41.3" cy="199.41" r="0.55" fill="#b8b8b8" opacity="0.55"/>
<circle cx="11.72" cy="200.63" r="0.55" fill="#5c5c5c" opacity="0.55"/>
<circle cx="11.61" cy="200.45" r="0.55" fill="#5c5c5c" opacity="0.55"/>
<circle cx="29.39" cy="200.65" r="0.55" fill="#5c5c5c" opacity="0.55"/>
<circle cx="38.46" cy="198.66" r="0.55" fill="#5c5c5c" opacity="0.55"/>
<circle cx="34.65" cy="201.76" r="0.55" fill="#b8b8b8" opacity="0.55"/>
<circle cx="43.53" cy="201.73" r="0.55" fill="#b8b8b8" opacity="0.55"/>
<circle cx="14.02" cy="206.48" r="0.55" fill="#5c5c5c" opacity="0.55"/>
<circle cx="38.38" cy="205.39" r="0.55" fill="#5c5c5c" opacity="0.55"/>
<circle cx="44.08" cy="202.12" r="0.55" fill="#5c5c5c" opacity="0.55"/>
<circle cx="39.15" cy="204.35" r="0.55" fill="#5c5c5c" opacity="0.55"/>
<circle cx="30.5" cy="205.15" r="0.55" fill="#b8b8b8" opacity="0.55"/>
<circle cx="18.52" cy="201.29" r="0.55" fill="#b8b8b8" opacity="0.55"/>
<circle cx="18.68" cy="199.54" r="0.55" fill="#b8b8b8" opacity="0.55"/>
<circle cx="32.5" cy="201.99" r="0.55" fill="#b8b8b8" opacity="0.55"/>
<circle cx="17.89" cy="201.08" r="0.55" fill="#5c5c5c" opacity="0.55"/>
<circle cx="32.93" cy="204.26" r="0.55" fill="#b8b8b8" opacity="0.55"/>
<circle cx="35.71" cy="200.12" r="0.55" fill="#b8b8b8" opacity="0.55"/>
<circle cx="44.64" cy="204.55" r="0.55" fill="#5c5c5c" opacity="0.55"/>
<circle cx="34.18" cy="206.44" r="0.55" fill="#5c5c5c" opacity="0.55"/>
<circle cx="18.56" cy="198.9" r="0.55" fill="#b8b8b8" opacity="0.55"/>
<circle cx="19.88" cy="200.56" r="0.55" fill="#5c5c5c" opacity="0.55"/>
<circle cx="40.76" cy="201.53" r="0.55" fill="#5c5c5c" opacity="0.55"/>
<circle cx="24.27" cy="207.11" r="0.55" fill="#b8b8b8" opacity="0.55"/>
<circle cx="19.79" cy="200.89" r="0.55" fill="#5c5c5c" opacity="0.55"/>
<circle cx="19.71" cy="204.04" r="0.55" fill="#5c5c5c" opacity="0.55"/>
<circle cx="24.4" cy="200.64" r="0.55" fill="#5c5c5c" opacity="0.55"/>
<circle cx="28.18" cy="199.45" r="0.55" fill="#b8b8b8" opacity="0.55"/>
<circle cx="14.46" cy="204.44" r="0.55" fill="#5c5c5c" opacity="0.55"/>
<circle cx="25.18" cy="199.19" r="0.55" fill="#b8b8b8" opacity="0.55"/>
<circle cx="44.87" cy="203.52" r="0.55" fill="#5c5c5c" opacity="0.55"/>
<circle cx="40.22" cy="198.71" r="0.55" fill="#5c5c5c" opacity="0.55"/>
<circle cx="34.08" cy="203.59" r="0.55" fill="#b8b8b8" opacity="0.55"/>
<circle cx="32.68" cy="199.64" r="0.55" fill="#b8b8b8" opacity="0.55"/>
<circle cx="26.26" cy="207.47" r="0.55" fill="#5c5c5c" opacity="0.55"/>
<circle cx="19.73" cy="203.26" r="0.55" fill="#b8b8b8" opacity="0.55"/>
<circle cx="42" cy="206.7" r="0.55" fill="#b8b8b8" opacity="0.55"/>
<circle cx="32.62" cy="204.26" r="0.55" fill="#b8b8b8" opacity="0.55"/>
<circle cx="36.85" cy="203.62" r="0.55" fill="#5c5c5c" opacity="0.55"/>
<circle cx="28.89" cy="198.61" r="0.55" fill="#b8b8b8" opacity="0.55"/>
<circle cx="11.37" cy="207.24" r="0.55" fill="#5c5c5c" opacity="0.55"/>
<circle cx="39.23" cy="201.46" r="0.55" fill="#b8b8b8" opacity="0.55"/>
<circle cx="40.82" cy="207.41" r="0.55" fill="#b8b8b8" opacity="0.55"/>
<circle cx="27.37" cy="199.24" r="0.55" fill="#5c5c5c" opacity="0.55"/>
<circle cx="36.97" cy="199.79" r="0.55" fill="#b8b8b8" opacity="0.55"/>
<circle cx="29.56" cy="201.07" r="0.55" fill="#5c5c5c" opacity="0.55"/>
<circle cx="25.21" cy="200.57" r="0.55" fill="#5c5c5c" opacity="0.55"/>
<circle cx="35.74" cy="200.47" r="0.55" fill="#b8b8b8" opacity="0.55"/>
<circle cx="44.83" cy="204.64" r="0.55" fill="#b8b8b8" opacity="0.55"/>
<circle cx="28.45" cy="199.73" r="0.55" fill="#b8b8b8" opacity="0.55"/>
<circle cx="22.3" cy="204.07" r="0.55" fill="#b8b8b8" opacity="0.55"/>
</g>
<path d="M10.7,226.2 A5.6,6.3 0 1 0 21.9,226.2 A5.6,6.3 0 1 0 10.7,226.2 Z" fill="#7c7c7c" stroke="#454545" stroke-width="0.85"/>
<ellipse cx="15.8" cy="226.2" rx="2.4" ry="3" fill="#d4d4d4" filter="url(#bl)"/>
<path d="M10.7,226.2 A5.6,6.3 0 1 0 21.9,226.2 A5.6,6.3 0 1 0 10.7,226.2 Z" fill="none" stroke="#6a6a6a" stroke-width="0.45" transform="translate(16.3 226.2) scale(0.78) translate(-16.3 -226.2)"/>
<path d="M10.7,226.2 A5.6,6.3 0 1 0 21.9,226.2 A5.6,6.3 0 1 0 10.7,226.2 Z" fill="none" stroke="#a0a0a0" stroke-width="0.45" transform="translate(16.3 226.2) scale(0.55) translate(-16.3 -226.2)"/>
<clipPath id="bc7"><path d="M10.7,226.2 A5.6,6.3 0 1 0 21.9,226.2 A5.6,6.3 0 1 0 10.7,226.2 Z"/></clipPath><g clip-path="url(#bc7)">
<circle cx="11.1" cy="224.46" r="0.55" fill="#b8b8b8" opacity="0.55"/>
<circle cx="19.33" cy="226.43" r="0.55" fill="#b8b8b8" opacity="0.55"/>
<circle cx="10.84" cy="230.92" r="0.55" fill="#b8b8b8" opacity="0.55"/>
<circle cx="19.1" cy="228.81" r="0.55" fill="#5c5c5c" opacity="0.55"/>
<circle cx="20.57" cy="228.25" r="0.55" fill="#5c5c5c" opacity="0.55"/>
<circle cx="15.1" cy="221.17" r="0.55" fill="#b8b8b8" opacity="0.55"/>
<circle cx="15.38" cy="223.72" r="0.55" fill="#5c5c5c" opacity="0.55"/>
<circle cx="13.52" cy="224.17" r="0.55" fill="#5c5c5c" opacity="0.55"/>
<circle cx="17.74" cy="229.43" r="0.55" fill="#5c5c5c" opacity="0.55"/>
<circle cx="21.22" cy="220.33" r="0.55" fill="#5c5c5c" opacity="0.55"/>
<circle cx="11.09" cy="221.3" r="0.55" fill="#5c5c5c" opacity="0.55"/>
<circle cx="14.12" cy="225.95" r="0.55" fill="#b8b8b8" opacity="0.55"/>
<circle cx="13.36" cy="224.94" r="0.55" fill="#5c5c5c" opacity="0.55"/>
<circle cx="18.62" cy="226.2" r="0.55" fill="#b8b8b8" opacity="0.55"/>
<circle cx="21.89" cy="231.73" r="0.55" fill="#5c5c5c" opacity="0.55"/>
<circle cx="16.81" cy="219.17" r="0.55" fill="#b8b8b8" opacity="0.55"/>
<circle cx="11.32" cy="235.04" r="0.55" fill="#5c5c5c" opacity="0.55"/>
<circle cx="11.06" cy="230.06" r="0.55" fill="#b8b8b8" opacity="0.55"/>
<circle cx="18.27" cy="224.94" r="0.55" fill="#b8b8b8" opacity="0.55"/>
<circle cx="11.19" cy="220.06" r="0.55" fill="#b8b8b8" opacity="0.55"/>
<circle cx="18.91" cy="219.37" r="0.55" fill="#b8b8b8" opacity="0.55"/>
<circle cx="21.9" cy="218.26" r="0.55" fill="#b8b8b8" opacity="0.55"/>
<circle cx="20.56" cy="229.22" r="0.55" fill="#5c5c5c" opacity="0.55"/>
<circle cx="17.55" cy="229.14" r="0.55" fill="#b8b8b8" opacity="0.55"/>
<circle cx="15.18" cy="226.7" r="0.55" fill="#5c5c5c" opacity="0.55"/>
<circle cx="18.32" cy="223.64" r="0.55" fill="#5c5c5c" opacity="0.55"/>
<circle cx="17.67" cy="230.67" r="0.55" fill="#b8b8b8" opacity="0.55"/>
<circle cx="13.45" cy="228.14" r="0.55" fill="#b8b8b8" opacity="0.55"/>
<circle cx="13.37" cy="234.59" r="0.55" fill="#5c5c5c" opacity="0.55"/>
<circle cx="18.42" cy="235.7" r="0.55" fill="#5c5c5c" opacity="0.55"/>
<circle cx="15.77" cy="218.64" r="0.55" fill="#5c5c5c" opacity="0.55"/>
<circle cx="21.18" cy="227.63" r="0.55" fill="#5c5c5c" opacity="0.55"/>
<circle cx="14.82" cy="216.73" r="0.55" fill="#5c5c5c" opacity="0.55"/>
<circle cx="14.42" cy="227.52" r="0.55" fill="#5c5c5c" opacity="0.55"/>
<circle cx="21.7" cy="234.49" r="0.55" fill="#5c5c5c" opacity="0.55"/>
<circle cx="16.62" cy="226.98" r="0.55" fill="#5c5c5c" opacity="0.55"/>
<circle cx="10.4" cy="216.87" r="0.55" fill="#b8b8b8" opacity="0.55"/>
<circle cx="15.7" cy="235.95" r="0.55" fill="#5c5c5c" opacity="0.55"/>
<circle cx="17.02" cy="235.25" r="0.55" fill="#5c5c5c" opacity="0.55"/>
<circle cx="20.1" cy="221.37" r="0.55" fill="#b8b8b8" opacity="0.55"/>
</g>
<path d="M10.7,238 C10.7,234.5 13,233.2 16,233.2 C19.5,233.2 21.5,234 23,234.6 C28,235.2 33,236 35.8,237.2 C37,237.8 37,238.6 35.8,239.2 C32,240.5 27,241.5 23,241.8 C21,242.3 19,242.5 16,242.5 C12.5,242.5 10.7,241 10.7,238 Z" fill="#7c7c7c" stroke="#454545" stroke-width="0.85"/>
<ellipse cx="15.5" cy="238" rx="2.3" ry="2.2" fill="#d4d4d4" filter="url(#bl)"/>
<path d="M10.7,238 C10.7,234.5 13,233.2 16,233.2 C19.5,233.2 21.5,234 23,234.6 C28,235.2 33,236 35.8,237.2 C37,237.8 37,238.6 35.8,239.2 C32,240.5 27,241.5 23,241.8 C21,242.3 19,242.5 16,242.5 C12.5,242.5 10.7,241 10.7,238 Z" fill="none" stroke="#6a6a6a" stroke-width="0.45" transform="translate(23.85 237.85) scale(0.78) translate(-23.85 -237.85)"/>
<path d="M10.7,238 C10.7,234.5 13,233.2 16,233.2 C19.5,233.2 21.5,234 23,234.6 C28,235.2 33,236 35.8,237.2 C37,237.8 37,238.6 35.8,239.2 C32,240.5 27,241.5 23,241.8 C21,242.3 19,242.5 16,242.5 C12.5,242.5 10.7,241 10.7,238 Z" fill="none" stroke="#a0a0a0" stroke-width="0.45" transform="translate(23.85 237.85) scale(0.55) translate(-23.85 -237.85)"/>
<clipPath id="bc8"><path d="M10.7,238 C10.7,234.5 13,233.2 16,233.2 C19.5,233.2 21.5,234 23,234.6 C28,235.2 33,236 35.8,237.2 C37,237.8 37,238.6 35.8,239.2 C32,240.5 27,241.5 23,241.8 C21,242.3 19,242.5 16,242.5 C12.5,242.5 10.7,241 10.7,238 Z"/></clipPath><g clip-path="url(#bc8)">
<circle cx="36.1" cy="238.41" r="0.55" fill="#b8b8b8" opacity="0.55"/>
<circle cx="24.46" cy="240.34" r="0.55" fill="#5c5c5c" opacity="0.55"/>
<circle cx="21.76" cy="235.35" r="0.55" fill="#b8b8b8" opacity="0.55"/>
<circle cx="12.48" cy="239.18" r="0.55" fill="#5c5c5c" opacity="0.55"/>
<circle cx="16.15" cy="240.26" r="0.55" fill="#b8b8b8" opacity="0.55"/>
<circle cx="35.15" cy="238.38" r="0.55" fill="#b8b8b8" opacity="0.55"/>
<circle cx="11.5" cy="234.65" r="0.55" fill="#5c5c5c" opacity="0.55"/>
<circle cx="15.61" cy="238.92" r="0.55" fill="#5c5c5c" opacity="0.55"/>
<circle cx="22.38" cy="239.84" r="0.55" fill="#b8b8b8" opacity="0.55"/>
<circle cx="28.34" cy="233.79" r="0.55" fill="#b8b8b8" opacity="0.55"/>
<circle cx="28.46" cy="234.97" r="0.55" fill="#b8b8b8" opacity="0.55"/>
<circle cx="23.77" cy="239.15" r="0.55" fill="#b8b8b8" opacity="0.55"/>
<circle cx="28.44" cy="238.63" r="0.55" fill="#b8b8b8" opacity="0.55"/>
<circle cx="25.64" cy="233.21" r="0.55" fill="#5c5c5c" opacity="0.55"/>
<circle cx="26.75" cy="236.78" r="0.55" fill="#b8b8b8" opacity="0.55"/>
<circle cx="31.56" cy="235" r="0.55" fill="#b8b8b8" opacity="0.55"/>
<circle cx="23.83" cy="233.61" r="0.55" fill="#5c5c5c" opacity="0.55"/>
<circle cx="15.45" cy="240.56" r="0.55" fill="#b8b8b8" opacity="0.55"/>
<circle cx="10.95" cy="236.01" r="0.55" fill="#5c5c5c" opacity="0.55"/>
<circle cx="22.83" cy="241.68" r="0.55" fill="#b8b8b8" opacity="0.55"/>
<circle cx="32.51" cy="241.22" r="0.55" fill="#b8b8b8" opacity="0.55"/>
<circle cx="24.08" cy="233.66" r="0.55" fill="#5c5c5c" opacity="0.55"/>
<circle cx="28.95" cy="235.89" r="0.55" fill="#5c5c5c" opacity="0.55"/>
<circle cx="17.1" cy="233.73" r="0.55" fill="#b8b8b8" opacity="0.55"/>
<circle cx="30.3" cy="236" r="0.55" fill="#b8b8b8" opacity="0.55"/>
<circle cx="27.92" cy="239.42" r="0.55" fill="#b8b8b8" opacity="0.55"/>
<circle cx="15.03" cy="238.98" r="0.55" fill="#5c5c5c" opacity="0.55"/>
<circle cx="14.47" cy="239.15" r="0.55" fill="#5c5c5c" opacity="0.55"/>
<circle cx="11.78" cy="239.54" r="0.55" fill="#b8b8b8" opacity="0.55"/>
<circle cx="13.51" cy="234.45" r="0.55" fill="#b8b8b8" opacity="0.55"/>
<circle cx="29.25" cy="234.59" r="0.55" fill="#5c5c5c" opacity="0.55"/>
<circle cx="33.52" cy="238.47" r="0.55" fill="#5c5c5c" opacity="0.55"/>
<circle cx="13.73" cy="242.12" r="0.55" fill="#5c5c5c" opacity="0.55"/>
<circle cx="33.3" cy="235.36" r="0.55" fill="#5c5c5c" opacity="0.55"/>
<circle cx="30.46" cy="234.44" r="0.55" fill="#b8b8b8" opacity="0.55"/>
<circle cx="34.36" cy="238.41" r="0.55" fill="#5c5c5c" opacity="0.55"/>
<circle cx="21.75" cy="241.93" r="0.55" fill="#5c5c5c" opacity="0.55"/>
<circle cx="15.79" cy="235.41" r="0.55" fill="#5c5c5c" opacity="0.55"/>
<circle cx="13.45" cy="242.18" r="0.55" fill="#5c5c5c" opacity="0.55"/>
<circle cx="35.41" cy="234.98" r="0.55" fill="#b8b8b8" opacity="0.55"/>
</g>
</g>
<rect x="9.5" y="174.5" width="43" height="70" fill="none" stroke="#1a1a1a" stroke-width="1"/>
<line x1="9.5" y1="209.5" x2="52.5" y2="209.5" stroke="#1a1a1a" stroke-width="1"/>
<line x1="22.6" y1="175" x2="22.6" y2="244" stroke="#444" stroke-width="0.9" stroke-dasharray="1.9 1.5"/>
<text transform="translate(7.2 245.2) rotate(-90)" font-size="7.8">CD4-APC-Cy7</text>
<path d="M4.6,193.4 L4.6,180.6" stroke="#000" stroke-width="0.8"/><path d="M3.2,181.2 L4.6,177.6 L6,181.2 Z" fill="#000"/>
<text x="2.8" y="253.9" font-size="7.8">IFNγ-BV786</text>
<path d="M47.7,251.1 L50,251.1" stroke="#000" stroke-width="0.8"/><path d="M49.4,249.7 L53,251.1 L49.4,252.5 Z" fill="#000"/>
<text transform="translate(60.2 192) rotate(-90)" font-size="7.8" text-anchor="middle">SD-36</text>
<text transform="translate(60.2 226) rotate(-90)" font-size="7.8" text-anchor="middle">Vehicle</text>
<g class="pl">
<text x="74.4" y="157.2" font-size="10.5" font-weight="bold" fill="#000">j</text>
</g>
<line x1="99.3" y1="177.8" x2="99.3" y2="243.6" stroke="#8a8a8a" stroke-width="1"/>
<line x1="96.3" y1="178.3" x2="99.3" y2="178.3" stroke="#8a8a8a" stroke-width="1"/>
<text x="93.9" y="180.9" font-size="7.8" text-anchor="end">80</text>
<line x1="96.3" y1="194.5" x2="99.3" y2="194.5" stroke="#8a8a8a" stroke-width="1"/>
<text x="93.9" y="197.1" font-size="7.8" text-anchor="end">60</text>
<line x1="96.3" y1="210.7" x2="99.3" y2="210.7" stroke="#8a8a8a" stroke-width="1"/>
<text x="93.9" y="213.3" font-size="7.8" text-anchor="end">40</text>
<line x1="96.3" y1="226.9" x2="99.3" y2="226.9" stroke="#8a8a8a" stroke-width="1"/>
<text x="93.9" y="229.5" font-size="7.8" text-anchor="end">20</text>
<line x1="96.3" y1="243.1" x2="99.3" y2="243.1" stroke="#8a8a8a" stroke-width="1"/>
<text x="93.9" y="245.7" font-size="7.8" text-anchor="end">0</text>
<line x1="98.8" y1="243.1" x2="133.5" y2="243.1" stroke="#8a8a8a" stroke-width="1"/>
<line x1="109.3" y1="243.1" x2="109.3" y2="246.9" stroke="#8a8a8a" stroke-width="1"/>
<line x1="123.6" y1="243.1" x2="123.6" y2="246.9" stroke="#8a8a8a" stroke-width="1"/>
<rect x="104.7" y="206.5" width="9.2" height="36.6" fill="#c9dbf6" stroke="#3a3ae0" stroke-width="0.9"/>
<rect x="118.8" y="195.3" width="9.7" height="47.8" fill="#fde2e2" stroke="#ff3a3a" stroke-width="0.9"/>
<line x1="109.3" y1="203.2" x2="109.3" y2="206.5" stroke="#3a3ae0" stroke-width="0.8"/>
<line x1="107.15" y1="203.2" x2="111.45" y2="203.2" stroke="#3a3ae0" stroke-width="0.8"/>
<line x1="123.65" y1="192.2" x2="123.65" y2="195.3" stroke="#ff3a3a" stroke-width="0.8"/>
<line x1="121.5" y1="192.2" x2="125.8" y2="192.2" stroke="#ff3a3a" stroke-width="0.8"/>
<circle cx="105.8" cy="202" r="1.5" fill="#1414c8"/>
<circle cx="109.9" cy="201.2" r="1.5" fill="#1414c8"/>
<circle cx="112.6" cy="202" r="1.5" fill="#1414c8"/>
<circle cx="108.8" cy="205" r="1.5" fill="#1414c8"/>
<circle cx="112.1" cy="207.2" r="1.5" fill="#1414c8"/>
<circle cx="109.2" cy="219.6" r="1.5" fill="#1414c8"/>
<circle cx="123.3" cy="184.8" r="1.5" fill="#f01010"/>
<circle cx="123.3" cy="187" r="1.5" fill="#f01010"/>
<circle cx="121.1" cy="197.1" r="1.5" fill="#f01010"/>
<circle cx="123.8" cy="198.2" r="1.5" fill="#f01010"/>
<circle cx="126.7" cy="198.9" r="1.5" fill="#f01010"/>
<circle cx="120.6" cy="200.5" r="1.5" fill="#f01010"/>
<g class="ns">
<text x="123.8" y="181.88" font-size="9" text-anchor="middle">*</text>
</g>
<text transform="translate(79.5 211.2) rotate(-90)" font-size="7.8" text-anchor="middle">IFNγ<tspan font-size="5.8" dy="-3.4">+</tspan><tspan dy="3.4"> (% in CD8</tspan><tspan font-size="5.8" dy="-3.4">+</tspan><tspan dy="3.4"> T cells)</tspan></text>
<text transform="translate(112.7 252.5) rotate(-45)" font-size="8" text-anchor="end">Vehicle</text>
<text transform="translate(127.1 252.8) rotate(-45)" font-size="8" text-anchor="end">SD-36</text>
<g class="pl">
<text x="137.8" y="157.2" font-size="10.5" font-weight="bold" fill="#000">k</text>
</g>
<g filter="url(#rough)">
<path d="M149.7,203.5 C149.7,200 152,198.6 155.6,198.6 C158.5,198.6 160.5,199.4 162,200.2 C168,200.8 175,201.8 179,202.8 C180.3,203.2 180,203.8 178.5,204.2 C173,205.5 167,206.6 162,207.2 C160.5,208 158.5,208.5 155.6,208.5 C152,208.5 149.7,207 149.7,203.5 Z" fill="#7c7c7c" stroke="#454545" stroke-width="0.85"/>
<ellipse cx="155.3" cy="203.5" rx="2.8" ry="2.6" fill="#d4d4d4" filter="url(#bl)"/>
<path d="M149.7,203.5 C149.7,200 152,198.6 155.6,198.6 C158.5,198.6 160.5,199.4 162,200.2 C168,200.8 175,201.8 179,202.8 C180.3,203.2 180,203.8 178.5,204.2 C173,205.5 167,206.6 162,207.2 C160.5,208 158.5,208.5 155.6,208.5 C152,208.5 149.7,207 149.7,203.5 Z" fill="none" stroke="#6a6a6a" stroke-width="0.45" transform="translate(165 203.55) scale(0.78) translate(-165 -203.55)"/>
<path d="M149.7,203.5 C149.7,200 152,198.6 155.6,198.6 C158.5,198.6 160.5,199.4 162,200.2 C168,200.8 175,201.8 179,202.8 C180.3,203.2 180,203.8 178.5,204.2 C173,205.5 167,206.6 162,207.2 C160.5,208 158.5,208.5 155.6,208.5 C152,208.5 149.7,207 149.7,203.5 Z" fill="none" stroke="#a0a0a0" stroke-width="0.45" transform="translate(165 203.55) scale(0.55) translate(-165 -203.55)"/>
<clipPath id="bc9"><path d="M149.7,203.5 C149.7,200 152,198.6 155.6,198.6 C158.5,198.6 160.5,199.4 162,200.2 C168,200.8 175,201.8 179,202.8 C180.3,203.2 180,203.8 178.5,204.2 C173,205.5 167,206.6 162,207.2 C160.5,208 158.5,208.5 155.6,208.5 C152,208.5 149.7,207 149.7,203.5 Z"/></clipPath><g clip-path="url(#bc9)">
<circle cx="163.32" cy="201.51" r="0.55" fill="#5c5c5c" opacity="0.55"/>
<circle cx="164.52" cy="199.46" r="0.55" fill="#5c5c5c" opacity="0.55"/>
<circle cx="152.01" cy="200.6" r="0.55" fill="#b8b8b8" opacity="0.55"/>
<circle cx="168.92" cy="206.94" r="0.55" fill="#5c5c5c" opacity="0.55"/>
<circle cx="156.51" cy="206.97" r="0.55" fill="#5c5c5c" opacity="0.55"/>
<circle cx="159.74" cy="201.31" r="0.55" fill="#5c5c5c" opacity="0.55"/>
<circle cx="179.47" cy="207.64" r="0.55" fill="#5c5c5c" opacity="0.55"/>
<circle cx="171.6" cy="200.86" r="0.55" fill="#5c5c5c" opacity="0.55"/>
<circle cx="162.79" cy="204.92" r="0.55" fill="#b8b8b8" opacity="0.55"/>
<circle cx="156.01" cy="207.49" r="0.55" fill="#b8b8b8" opacity="0.55"/>
<circle cx="160.15" cy="201.86" r="0.55" fill="#5c5c5c" opacity="0.55"/>
<circle cx="153.3" cy="204.32" r="0.55" fill="#5c5c5c" opacity="0.55"/>
<circle cx="168.41" cy="207.78" r="0.55" fill="#b8b8b8" opacity="0.55"/>
<circle cx="163.09" cy="202.27" r="0.55" fill="#b8b8b8" opacity="0.55"/>
<circle cx="160.34" cy="199.34" r="0.55" fill="#5c5c5c" opacity="0.55"/>
<circle cx="172.15" cy="205.32" r="0.55" fill="#5c5c5c" opacity="0.55"/>
<circle cx="155.83" cy="200.83" r="0.55" fill="#5c5c5c" opacity="0.55"/>
<circle cx="174.91" cy="203.11" r="0.55" fill="#5c5c5c" opacity="0.55"/>
<circle cx="179.03" cy="199.02" r="0.55" fill="#b8b8b8" opacity="0.55"/>
<circle cx="162.01" cy="201.98" r="0.55" fill="#5c5c5c" opacity="0.55"/>
<circle cx="158.72" cy="199.8" r="0.55" fill="#5c5c5c" opacity="0.55"/>
<circle cx="162.67" cy="206.54" r="0.55" fill="#b8b8b8" opacity="0.55"/>
<circle cx="159.11" cy="203.48" r="0.55" fill="#b8b8b8" opacity="0.55"/>
<circle cx="162.37" cy="200.37" r="0.55" fill="#b8b8b8" opacity="0.55"/>
<circle cx="158.67" cy="206.31" r="0.55" fill="#5c5c5c" opacity="0.55"/>
<circle cx="157.4" cy="204.43" r="0.55" fill="#b8b8b8" opacity="0.55"/>
<circle cx="156.51" cy="206.3" r="0.55" fill="#5c5c5c" opacity="0.55"/>
<circle cx="150.09" cy="203.96" r="0.55" fill="#b8b8b8" opacity="0.55"/>
<circle cx="152.34" cy="208.21" r="0.55" fill="#5c5c5c" opacity="0.55"/>
<circle cx="180.09" cy="203.32" r="0.55" fill="#b8b8b8" opacity="0.55"/>
<circle cx="154.5" cy="205.17" r="0.55" fill="#b8b8b8" opacity="0.55"/>
<circle cx="155.22" cy="206.91" r="0.55" fill="#5c5c5c" opacity="0.55"/>
<circle cx="152.33" cy="208.3" r="0.55" fill="#b8b8b8" opacity="0.55"/>
<circle cx="177.98" cy="202.67" r="0.55" fill="#b8b8b8" opacity="0.55"/>
<circle cx="166.5" cy="202.64" r="0.55" fill="#5c5c5c" opacity="0.55"/>
<circle cx="164.86" cy="202.27" r="0.55" fill="#b8b8b8" opacity="0.55"/>
<circle cx="164.45" cy="205.84" r="0.55" fill="#5c5c5c" opacity="0.55"/>
<circle cx="161.85" cy="200" r="0.55" fill="#b8b8b8" opacity="0.55"/>
<circle cx="168.07" cy="200.93" r="0.55" fill="#5c5c5c" opacity="0.55"/>
<circle cx="162.66" cy="208.09" r="0.55" fill="#b8b8b8" opacity="0.55"/>
<circle cx="175.26" cy="199.77" r="0.55" fill="#b8b8b8" opacity="0.55"/>
<circle cx="162.24" cy="201.38" r="0.55" fill="#b8b8b8" opacity="0.55"/>
<circle cx="165.16" cy="204.71" r="0.55" fill="#b8b8b8" opacity="0.55"/>
<circle cx="168.37" cy="202.37" r="0.55" fill="#5c5c5c" opacity="0.55"/>
<circle cx="158.89" cy="206.69" r="0.55" fill="#b8b8b8" opacity="0.55"/>
<circle cx="152.31" cy="205.76" r="0.55" fill="#5c5c5c" opacity="0.55"/>
<circle cx="155.34" cy="201.97" r="0.55" fill="#b8b8b8" opacity="0.55"/>
<circle cx="155.84" cy="204.12" r="0.55" fill="#b8b8b8" opacity="0.55"/>
<circle cx="167.41" cy="206.19" r="0.55" fill="#b8b8b8" opacity="0.55"/>
<circle cx="157.89" cy="205.19" r="0.55" fill="#5c5c5c" opacity="0.55"/>
</g>
<path d="M149.65,189.9 A5.95,9.3 0 1 0 161.55,189.9 A5.95,9.3 0 1 0 149.65,189.9 Z" fill="#7c7c7c" stroke="#454545" stroke-width="0.85"/>
<ellipse cx="155.3" cy="189" rx="2.8" ry="5.2" fill="#d4d4d4" filter="url(#bl)"/>
<path d="M149.65,189.9 A5.95,9.3 0 1 0 161.55,189.9 A5.95,9.3 0 1 0 149.65,189.9 Z" fill="none" stroke="#6a6a6a" stroke-width="0.45" transform="translate(155.6 189.9) scale(0.78) translate(-155.6 -189.9)"/>
<path d="M149.65,189.9 A5.95,9.3 0 1 0 161.55,189.9 A5.95,9.3 0 1 0 149.65,189.9 Z" fill="none" stroke="#a0a0a0" stroke-width="0.45" transform="translate(155.6 189.9) scale(0.55) translate(-155.6 -189.9)"/>
<clipPath id="bc10"><path d="M149.65,189.9 A5.95,9.3 0 1 0 161.55,189.9 A5.95,9.3 0 1 0 149.65,189.9 Z"/></clipPath><g clip-path="url(#bc10)">
<circle cx="160.52" cy="185.78" r="0.55" fill="#b8b8b8" opacity="0.55"/>
<circle cx="151.24" cy="199.8" r="0.55" fill="#b8b8b8" opacity="0.55"/>
<circle cx="157.69" cy="191.86" r="0.55" fill="#5c5c5c" opacity="0.55"/>
<circle cx="154.53" cy="187.5" r="0.55" fill="#b8b8b8" opacity="0.55"/>
<circle cx="150.47" cy="186.3" r="0.55" fill="#b8b8b8" opacity="0.55"/>
<circle cx="158.97" cy="188.82" r="0.55" fill="#b8b8b8" opacity="0.55"/>
<circle cx="149.98" cy="186.82" r="0.55" fill="#5c5c5c" opacity="0.55"/>
<circle cx="149.91" cy="188.92" r="0.55" fill="#5c5c5c" opacity="0.55"/>
<circle cx="151.05" cy="195.97" r="0.55" fill="#5c5c5c" opacity="0.55"/>
<circle cx="159.52" cy="182.58" r="0.55" fill="#5c5c5c" opacity="0.55"/>
<circle cx="152.35" cy="195.89" r="0.55" fill="#5c5c5c" opacity="0.55"/>
<circle cx="155.88" cy="194.94" r="0.55" fill="#5c5c5c" opacity="0.55"/>
<circle cx="159.21" cy="186.09" r="0.55" fill="#5c5c5c" opacity="0.55"/>
<circle cx="157.06" cy="187.03" r="0.55" fill="#b8b8b8" opacity="0.55"/>
<circle cx="159.68" cy="199.6" r="0.55" fill="#5c5c5c" opacity="0.55"/>
<circle cx="157.51" cy="194.47" r="0.55" fill="#b8b8b8" opacity="0.55"/>
<circle cx="151.41" cy="198.45" r="0.55" fill="#5c5c5c" opacity="0.55"/>
<circle cx="156.15" cy="197.36" r="0.55" fill="#b8b8b8" opacity="0.55"/>
<circle cx="150.81" cy="185.35" r="0.55" fill="#5c5c5c" opacity="0.55"/>
<circle cx="153.89" cy="181.73" r="0.55" fill="#b8b8b8" opacity="0.55"/>
<circle cx="151" cy="197.85" r="0.55" fill="#5c5c5c" opacity="0.55"/>
<circle cx="150.3" cy="193.24" r="0.55" fill="#b8b8b8" opacity="0.55"/>
<circle cx="159.84" cy="185.09" r="0.55" fill="#5c5c5c" opacity="0.55"/>
<circle cx="150.24" cy="191.35" r="0.55" fill="#b8b8b8" opacity="0.55"/>
<circle cx="151.13" cy="198.33" r="0.55" fill="#b8b8b8" opacity="0.55"/>
<circle cx="158.48" cy="183.67" r="0.55" fill="#b8b8b8" opacity="0.55"/>
<circle cx="160.16" cy="190.29" r="0.55" fill="#5c5c5c" opacity="0.55"/>
<circle cx="157.8" cy="199.55" r="0.55" fill="#b8b8b8" opacity="0.55"/>
<circle cx="155.83" cy="198.02" r="0.55" fill="#b8b8b8" opacity="0.55"/>
<circle cx="156.09" cy="180.24" r="0.55" fill="#b8b8b8" opacity="0.55"/>
<circle cx="154.66" cy="184.89" r="0.55" fill="#b8b8b8" opacity="0.55"/>
<circle cx="150.54" cy="193.27" r="0.55" fill="#5c5c5c" opacity="0.55"/>
<circle cx="156.83" cy="186.66" r="0.55" fill="#5c5c5c" opacity="0.55"/>
<circle cx="149.96" cy="195.34" r="0.55" fill="#5c5c5c" opacity="0.55"/>
<circle cx="155.67" cy="191.8" r="0.55" fill="#b8b8b8" opacity="0.55"/>
<circle cx="155.26" cy="190.64" r="0.55" fill="#b8b8b8" opacity="0.55"/>
<circle cx="155.78" cy="187.51" r="0.55" fill="#5c5c5c" opacity="0.55"/>
<circle cx="153.89" cy="198.74" r="0.55" fill="#b8b8b8" opacity="0.55"/>
<circle cx="158.94" cy="190.82" r="0.55" fill="#5c5c5c" opacity="0.55"/>
<circle cx="158.88" cy="189.24" r="0.55" fill="#5c5c5c" opacity="0.55"/>
</g>
<path d="M149.7,238.7 C149.7,235.2 152,233.8 155.6,233.8 C158.5,233.8 160.5,234.6 162,235.3 C166,235.8 171,236.8 173.6,237.8 C175,238.3 174.8,238.9 173.4,239.4 C169,240.6 165,241.3 162,241.9 C160.5,243 158.5,243.7 155.6,243.7 C152,243.7 149.7,242.2 149.7,238.7 Z" fill="#7c7c7c" stroke="#454545" stroke-width="0.85"/>
<ellipse cx="155.3" cy="238.7" rx="2.8" ry="2.6" fill="#d4d4d4" filter="url(#bl)"/>
<path d="M149.7,238.7 C149.7,235.2 152,233.8 155.6,233.8 C158.5,233.8 160.5,234.6 162,235.3 C166,235.8 171,236.8 173.6,237.8 C175,238.3 174.8,238.9 173.4,239.4 C169,240.6 165,241.3 162,241.9 C160.5,243 158.5,243.7 155.6,243.7 C152,243.7 149.7,242.2 149.7,238.7 Z" fill="none" stroke="#6a6a6a" stroke-width="0.45" transform="translate(162.35 238.75) scale(0.78) translate(-162.35 -238.75)"/>
<path d="M149.7,238.7 C149.7,235.2 152,233.8 155.6,233.8 C158.5,233.8 160.5,234.6 162,235.3 C166,235.8 171,236.8 173.6,237.8 C175,238.3 174.8,238.9 173.4,239.4 C169,240.6 165,241.3 162,241.9 C160.5,243 158.5,243.7 155.6,243.7 C152,243.7 149.7,242.2 149.7,238.7 Z" fill="none" stroke="#a0a0a0" stroke-width="0.45" transform="translate(162.35 238.75) scale(0.55) translate(-162.35 -238.75)"/>
<clipPath id="bc11"><path d="M149.7,238.7 C149.7,235.2 152,233.8 155.6,233.8 C158.5,233.8 160.5,234.6 162,235.3 C166,235.8 171,236.8 173.6,237.8 C175,238.3 174.8,238.9 173.4,239.4 C169,240.6 165,241.3 162,241.9 C160.5,243 158.5,243.7 155.6,243.7 C152,243.7 149.7,242.2 149.7,238.7 Z"/></clipPath><g clip-path="url(#bc11)">
<circle cx="169.92" cy="237.03" r="0.55" fill="#b8b8b8" opacity="0.55"/>
<circle cx="170.51" cy="234.94" r="0.55" fill="#b8b8b8" opacity="0.55"/>
<circle cx="163.81" cy="239.85" r="0.55" fill="#b8b8b8" opacity="0.55"/>
<circle cx="165.66" cy="238.76" r="0.55" fill="#5c5c5c" opacity="0.55"/>
<circle cx="150.42" cy="243.28" r="0.55" fill="#b8b8b8" opacity="0.55"/>
<circle cx="170.28" cy="238.82" r="0.55" fill="#5c5c5c" opacity="0.55"/>
<circle cx="154.33" cy="236.98" r="0.55" fill="#b8b8b8" opacity="0.55"/>
<circle cx="169.4" cy="239.09" r="0.55" fill="#b8b8b8" opacity="0.55"/>
<circle cx="154.55" cy="234.6" r="0.55" fill="#b8b8b8" opacity="0.55"/>
<circle cx="163.87" cy="238.13" r="0.55" fill="#5c5c5c" opacity="0.55"/>
<circle cx="151.63" cy="242.11" r="0.55" fill="#5c5c5c" opacity="0.55"/>
<circle cx="168.41" cy="241.16" r="0.55" fill="#5c5c5c" opacity="0.55"/>
<circle cx="152.1" cy="238.37" r="0.55" fill="#b8b8b8" opacity="0.55"/>
<circle cx="169.47" cy="239.13" r="0.55" fill="#b8b8b8" opacity="0.55"/>
<circle cx="160.95" cy="241.49" r="0.55" fill="#5c5c5c" opacity="0.55"/>
<circle cx="152.77" cy="243.07" r="0.55" fill="#b8b8b8" opacity="0.55"/>
<circle cx="171.03" cy="243.44" r="0.55" fill="#5c5c5c" opacity="0.55"/>
<circle cx="173.63" cy="239.06" r="0.55" fill="#b8b8b8" opacity="0.55"/>
<circle cx="161.65" cy="241.11" r="0.55" fill="#5c5c5c" opacity="0.55"/>
<circle cx="159.42" cy="243.18" r="0.55" fill="#b8b8b8" opacity="0.55"/>
<circle cx="162.24" cy="234.19" r="0.55" fill="#b8b8b8" opacity="0.55"/>
<circle cx="174.73" cy="234.97" r="0.55" fill="#5c5c5c" opacity="0.55"/>
<circle cx="172.6" cy="240.61" r="0.55" fill="#b8b8b8" opacity="0.55"/>
<circle cx="161.63" cy="240.65" r="0.55" fill="#b8b8b8" opacity="0.55"/>
<circle cx="157.25" cy="234.71" r="0.55" fill="#5c5c5c" opacity="0.55"/>
<circle cx="172.86" cy="242.94" r="0.55" fill="#5c5c5c" opacity="0.55"/>
<circle cx="164.26" cy="234.42" r="0.55" fill="#b8b8b8" opacity="0.55"/>
<circle cx="168.94" cy="241.28" r="0.55" fill="#b8b8b8" opacity="0.55"/>
<circle cx="149.91" cy="234.67" r="0.55" fill="#5c5c5c" opacity="0.55"/>
<circle cx="152.57" cy="237.66" r="0.55" fill="#b8b8b8" opacity="0.55"/>
<circle cx="172.06" cy="235.14" r="0.55" fill="#b8b8b8" opacity="0.55"/>
<circle cx="169.23" cy="234.65" r="0.55" fill="#b8b8b8" opacity="0.55"/>
<circle cx="150.33" cy="243.29" r="0.55" fill="#b8b8b8" opacity="0.55"/>
<circle cx="162.39" cy="237.55" r="0.55" fill="#5c5c5c" opacity="0.55"/>
<circle cx="167.71" cy="239.75" r="0.55" fill="#b8b8b8" opacity="0.55"/>
<circle cx="156.48" cy="242.11" r="0.55" fill="#b8b8b8" opacity="0.55"/>
<circle cx="165.43" cy="236.72" r="0.55" fill="#b8b8b8" opacity="0.55"/>
<circle cx="161.18" cy="235.67" r="0.55" fill="#5c5c5c" opacity="0.55"/>
<circle cx="151.49" cy="233.99" r="0.55" fill="#b8b8b8" opacity="0.55"/>
<circle cx="151.98" cy="242.49" r="0.55" fill="#5c5c5c" opacity="0.55"/>
<circle cx="166.87" cy="241.51" r="0.55" fill="#b8b8b8" opacity="0.55"/>
</g>
<path d="M149.65,224.1 A5.95,9.6 0 1 0 161.55,224.1 A5.95,9.6 0 1 0 149.65,224.1 Z" fill="#7c7c7c" stroke="#454545" stroke-width="0.85"/>
<ellipse cx="155.3" cy="223.5" rx="2.8" ry="5.4" fill="#d4d4d4" filter="url(#bl)"/>
<path d="M149.65,224.1 A5.95,9.6 0 1 0 161.55,224.1 A5.95,9.6 0 1 0 149.65,224.1 Z" fill="none" stroke="#6a6a6a" stroke-width="0.45" transform="translate(155.6 224.1) scale(0.78) translate(-155.6 -224.1)"/>
<path d="M149.65,224.1 A5.95,9.6 0 1 0 161.55,224.1 A5.95,9.6 0 1 0 149.65,224.1 Z" fill="none" stroke="#a0a0a0" stroke-width="0.45" transform="translate(155.6 224.1) scale(0.55) translate(-155.6 -224.1)"/>
<clipPath id="bc12"><path d="M149.65,224.1 A5.95,9.6 0 1 0 161.55,224.1 A5.95,9.6 0 1 0 149.65,224.1 Z"/></clipPath><g clip-path="url(#bc12)">
<circle cx="158.38" cy="232.38" r="0.55" fill="#b8b8b8" opacity="0.55"/>
<circle cx="149.65" cy="233.97" r="0.55" fill="#b8b8b8" opacity="0.55"/>
<circle cx="151.96" cy="224.07" r="0.55" fill="#5c5c5c" opacity="0.55"/>
<circle cx="158.47" cy="226.27" r="0.55" fill="#5c5c5c" opacity="0.55"/>
<circle cx="158.67" cy="219.33" r="0.55" fill="#b8b8b8" opacity="0.55"/>
<circle cx="160.29" cy="228.61" r="0.55" fill="#5c5c5c" opacity="0.55"/>
<circle cx="151.11" cy="232.87" r="0.55" fill="#b8b8b8" opacity="0.55"/>
<circle cx="159.33" cy="217.09" r="0.55" fill="#b8b8b8" opacity="0.55"/>
<circle cx="157.85" cy="224.81" r="0.55" fill="#b8b8b8" opacity="0.55"/>
<circle cx="152.03" cy="222.55" r="0.55" fill="#b8b8b8" opacity="0.55"/>
<circle cx="150.95" cy="216.52" r="0.55" fill="#5c5c5c" opacity="0.55"/>
<circle cx="156.13" cy="223.41" r="0.55" fill="#b8b8b8" opacity="0.55"/>
<circle cx="158.75" cy="233.9" r="0.55" fill="#5c5c5c" opacity="0.55"/>
<circle cx="155.37" cy="228.33" r="0.55" fill="#5c5c5c" opacity="0.55"/>
<circle cx="151.23" cy="225.07" r="0.55" fill="#5c5c5c" opacity="0.55"/>
<circle cx="151.88" cy="219.38" r="0.55" fill="#b8b8b8" opacity="0.55"/>
<circle cx="154.02" cy="220.27" r="0.55" fill="#5c5c5c" opacity="0.55"/>
<circle cx="160.2" cy="223.87" r="0.55" fill="#b8b8b8" opacity="0.55"/>
<circle cx="160.66" cy="231.07" r="0.55" fill="#b8b8b8" opacity="0.55"/>
<circle cx="159.36" cy="214.36" r="0.55" fill="#5c5c5c" opacity="0.55"/>
<circle cx="156.73" cy="232.64" r="0.55" fill="#5c5c5c" opacity="0.55"/>
<circle cx="151.34" cy="224.64" r="0.55" fill="#5c5c5c" opacity="0.55"/>
<circle cx="154.28" cy="226.49" r="0.55" fill="#b8b8b8" opacity="0.55"/>
<circle cx="157.58" cy="221.1" r="0.55" fill="#b8b8b8" opacity="0.55"/>
<circle cx="149.66" cy="232.52" r="0.55" fill="#5c5c5c" opacity="0.55"/>
<circle cx="160.29" cy="227.96" r="0.55" fill="#b8b8b8" opacity="0.55"/>
<circle cx="150.45" cy="233.58" r="0.55" fill="#5c5c5c" opacity="0.55"/>
<circle cx="160.44" cy="221.63" r="0.55" fill="#5c5c5c" opacity="0.55"/>
<circle cx="158.61" cy="220.66" r="0.55" fill="#b8b8b8" opacity="0.55"/>
<circle cx="152.72" cy="224.08" r="0.55" fill="#b8b8b8" opacity="0.55"/>
<circle cx="160" cy="230.5" r="0.55" fill="#b8b8b8" opacity="0.55"/>
<circle cx="153.08" cy="223.18" r="0.55" fill="#5c5c5c" opacity="0.55"/>
<circle cx="159.64" cy="222.88" r="0.55" fill="#5c5c5c" opacity="0.55"/>
<circle cx="151.09" cy="215.63" r="0.55" fill="#5c5c5c" opacity="0.55"/>
<circle cx="151.73" cy="230.63" r="0.55" fill="#5c5c5c" opacity="0.55"/>
<circle cx="154.74" cy="220.96" r="0.55" fill="#b8b8b8" opacity="0.55"/>
<circle cx="149.97" cy="232.98" r="0.55" fill="#5c5c5c" opacity="0.55"/>
<circle cx="150.91" cy="221.38" r="0.55" fill="#5c5c5c" opacity="0.55"/>
<circle cx="153.9" cy="214.49" r="0.55" fill="#5c5c5c" opacity="0.55"/>
<circle cx="156.2" cy="219.7" r="0.55" fill="#5c5c5c" opacity="0.55"/>
</g>
</g>
<rect x="148.5" y="174.5" width="44" height="70" fill="none" stroke="#1a1a1a" stroke-width="1"/>
<line x1="148.5" y1="209.5" x2="192.5" y2="209.5" stroke="#1a1a1a" stroke-width="1"/>
<line x1="161.6" y1="175" x2="161.6" y2="244" stroke="#444" stroke-width="0.9" stroke-dasharray="1.9 1.5"/>
<text transform="translate(145.8 244.7) rotate(-90)" font-size="7.8">CD4-APC-Cy7</text>
<path d="M143.6,191.6 L143.6,178.7" stroke="#000" stroke-width="0.8"/><path d="M142.2,179.3 L143.6,175.7 L145,179.3 Z" fill="#000"/>
<text x="144.6" y="253.9" font-size="7.8">GZMB-PE</text>
<path d="M182.9,250.4 L188.2,250.4" stroke="#000" stroke-width="0.8"/><path d="M187.6,249 L191.2,250.4 L187.6,251.8 Z" fill="#000"/>
<text transform="translate(201 192) rotate(-90)" font-size="7.8" text-anchor="middle">SD-36</text>
<text transform="translate(201 226) rotate(-90)" font-size="7.8" text-anchor="middle">Vehicle</text>
<g class="pl">
<text x="210.6" y="157.2" font-size="10.5" font-weight="bold" fill="#000">l</text>
</g>
<line x1="237.3" y1="178.9" x2="237.3" y2="245.4" stroke="#8a8a8a" stroke-width="1"/>
<line x1="234.4" y1="179.4" x2="237.3" y2="179.4" stroke="#8a8a8a" stroke-width="1"/>
<text x="232" y="182" font-size="7.8" text-anchor="end">80</text>
<line x1="234.4" y1="195.78" x2="237.3" y2="195.78" stroke="#8a8a8a" stroke-width="1"/>
<text x="232" y="198.38" font-size="7.8" text-anchor="end">60</text>
<line x1="234.4" y1="212.15" x2="237.3" y2="212.15" stroke="#8a8a8a" stroke-width="1"/>
<text x="232" y="214.75" font-size="7.8" text-anchor="end">40</text>
<line x1="234.4" y1="228.53" x2="237.3" y2="228.53" stroke="#8a8a8a" stroke-width="1"/>
<text x="232" y="231.12" font-size="7.8" text-anchor="end">20</text>
<line x1="234.4" y1="244.9" x2="237.3" y2="244.9" stroke="#8a8a8a" stroke-width="1"/>
<text x="232" y="247.5" font-size="7.8" text-anchor="end">0</text>
<line x1="236.8" y1="244.9" x2="270" y2="244.9" stroke="#8a8a8a" stroke-width="1"/>
<line x1="247.1" y1="244.9" x2="247.1" y2="248.7" stroke="#8a8a8a" stroke-width="1"/>
<line x1="261.5" y1="244.9" x2="261.5" y2="248.7" stroke="#8a8a8a" stroke-width="1"/>
<rect x="242.2" y="225.2" width="9.8" height="19.7" fill="#c9dbf6" stroke="#3a3ae0" stroke-width="0.9"/>
<rect x="256.5" y="211.3" width="10.1" height="33.6" fill="#fde2e2" stroke="#ff3a3a" stroke-width="0.9"/>
<line x1="247.1" y1="221.3" x2="247.1" y2="225.2" stroke="#3a3ae0" stroke-width="0.8"/>
<line x1="244.95" y1="221.3" x2="249.25" y2="221.3" stroke="#3a3ae0" stroke-width="0.8"/>
<line x1="261.55" y1="206.1" x2="261.55" y2="211.3" stroke="#ff3a3a" stroke-width="0.8"/>
<line x1="259.4" y1="206.1" x2="263.7" y2="206.1" stroke="#ff3a3a" stroke-width="0.8"/>
<circle cx="243.7" cy="218" r="1.5" fill="#1414c8"/>
<circle cx="247.8" cy="219.1" r="1.5" fill="#1414c8"/>
<circle cx="250.9" cy="219.6" r="1.5" fill="#1414c8"/>
<circle cx="246.4" cy="222.2" r="1.5" fill="#1414c8"/>
<circle cx="247.6" cy="227.4" r="1.5" fill="#1414c8"/>
<circle cx="247.1" cy="238" r="1.5" fill="#1414c8"/>
<circle cx="261.3" cy="192.2" r="1.5" fill="#f01010"/>
<circle cx="261.3" cy="205.4" r="1.5" fill="#f01010"/>
<circle cx="262.4" cy="208.3" r="1.5" fill="#f01010"/>
<circle cx="260.1" cy="213.3" r="1.5" fill="#f01010"/>
<circle cx="261.9" cy="219.1" r="1.5" fill="#f01010"/>
<circle cx="261.3" cy="225.8" r="1.5" fill="#f01010"/>
<g class="ns">
<text x="261" y="187.57" font-size="9" text-anchor="middle">*</text>
</g>
<text transform="translate(216.9 212.8) rotate(-90)" font-size="7.8" text-anchor="middle">GZMB<tspan font-size="5.8" dy="-3.4">+</tspan><tspan dy="3.4"> (% in CD8</tspan><tspan font-size="5.8" dy="-3.4">+</tspan><tspan dy="3.4"> T cells)</tspan></text>
<text transform="translate(250.4 254.3) rotate(-45)" font-size="8" text-anchor="end">Vehicle</text>
<text transform="translate(264.9 254.6) rotate(-45)" font-size="8" text-anchor="end">SD-36</text>
<g class="pl">
<text x="277.6" y="157.2" font-size="10.5" font-weight="bold" fill="#000">m</text>
</g>
<line x1="316.4" y1="183.5" x2="316.4" y2="262.1" stroke="#8a8a8a" stroke-width="1"/>
<line x1="312.6" y1="184" x2="316.4" y2="184" stroke="#8a8a8a" stroke-width="1"/>
<text x="309.4" y="186.6" font-size="7.8" text-anchor="end">1,250</text>
<line x1="312.6" y1="199.52" x2="316.4" y2="199.52" stroke="#8a8a8a" stroke-width="1"/>
<text x="309.4" y="202.12" font-size="7.8" text-anchor="end">1,000</text>
<line x1="312.6" y1="215.04" x2="316.4" y2="215.04" stroke="#8a8a8a" stroke-width="1"/>
<text x="309.4" y="217.64" font-size="7.8" text-anchor="end">750</text>
<line x1="312.6" y1="230.56" x2="316.4" y2="230.56" stroke="#8a8a8a" stroke-width="1"/>
<text x="309.4" y="233.16" font-size="7.8" text-anchor="end">500</text>
<line x1="312.6" y1="246.08" x2="316.4" y2="246.08" stroke="#8a8a8a" stroke-width="1"/>
<text x="309.4" y="248.68" font-size="7.8" text-anchor="end">250</text>
<line x1="312.6" y1="261.6" x2="316.4" y2="261.6" stroke="#8a8a8a" stroke-width="1"/>
<text x="309.4" y="264.2" font-size="7.8" text-anchor="end">0</text>
<line x1="315.9" y1="261.6" x2="404" y2="261.6" stroke="#8a8a8a" stroke-width="1"/>
<line x1="322.2" y1="261.6" x2="322.2" y2="265.3" stroke="#8a8a8a" stroke-width="1"/>
<text transform="translate(326.7 272.2) rotate(-45)" font-size="7.8" text-anchor="end">0</text>
<line x1="331.59" y1="261.6" x2="331.59" y2="265.3" stroke="#8a8a8a" stroke-width="1"/>
<text transform="translate(336.09 272.2) rotate(-45)" font-size="7.8" text-anchor="end">7</text>
<line x1="340.98" y1="261.6" x2="340.98" y2="265.3" stroke="#8a8a8a" stroke-width="1"/>
<text transform="translate(345.48 272.2) rotate(-45)" font-size="7.8" text-anchor="end">10</text>
<line x1="350.37" y1="261.6" x2="350.37" y2="265.3" stroke="#8a8a8a" stroke-width="1"/>
<text transform="translate(354.87 272.2) rotate(-45)" font-size="7.8" text-anchor="end">13</text>
<line x1="359.76" y1="261.6" x2="359.76" y2="265.3" stroke="#8a8a8a" stroke-width="1"/>
<text transform="translate(364.26 272.2) rotate(-45)" font-size="7.8" text-anchor="end">16</text>
<line x1="369.15" y1="261.6" x2="369.15" y2="265.3" stroke="#8a8a8a" stroke-width="1"/>
<text transform="translate(373.65 272.2) rotate(-45)" font-size="7.8" text-anchor="end">19</text>
<line x1="378.54" y1="261.6" x2="378.54" y2="265.3" stroke="#8a8a8a" stroke-width="1"/>
<text transform="translate(383.04 272.2) rotate(-45)" font-size="7.8" text-anchor="end">22</text>
<line x1="387.93" y1="261.6" x2="387.93" y2="265.3" stroke="#8a8a8a" stroke-width="1"/>
<text transform="translate(392.43 272.2) rotate(-45)" font-size="7.8" text-anchor="end">24</text>
<line x1="397.32" y1="261.6" x2="397.32" y2="265.3" stroke="#8a8a8a" stroke-width="1"/>
<text transform="translate(401.82 272.2) rotate(-45)" font-size="7.8" text-anchor="end">27</text>
<text x="360.4" y="288" font-size="7.8" text-anchor="middle">Time (days)</text>
<text transform="translate(283.2 222) rotate(-90)" font-size="8" text-anchor="middle">Tumour volume (mm<tspan font-size="5.6" dy="-4.0">3</tspan><tspan dy="4.0">)</tspan></text>
<line x1="331.59" y1="254" x2="331.59" y2="255.3" stroke="#f01010" stroke-width="0.8"/>
<line x1="329.79" y1="254" x2="333.39" y2="254" stroke="#f01010" stroke-width="0.8"/>
<line x1="340.98" y1="250" x2="340.98" y2="251.7" stroke="#f01010" stroke-width="0.8"/>
<line x1="339.18" y1="250" x2="342.78" y2="250" stroke="#f01010" stroke-width="0.8"/>
<line x1="350.37" y1="247" x2="350.37" y2="249.4" stroke="#f01010" stroke-width="0.8"/>
<line x1="348.57" y1="247" x2="352.17" y2="247" stroke="#f01010" stroke-width="0.8"/>
<line x1="359.76" y1="246.5" x2="359.76" y2="249" stroke="#f01010" stroke-width="0.8"/>
<line x1="357.96" y1="246.5" x2="361.56" y2="246.5" stroke="#f01010" stroke-width="0.8"/>
<line x1="369.15" y1="245.4" x2="369.15" y2="248.5" stroke="#f01010" stroke-width="0.8"/>
<line x1="367.35" y1="245.4" x2="370.95" y2="245.4" stroke="#f01010" stroke-width="0.8"/>
<line x1="378.54" y1="243.6" x2="378.54" y2="248.5" stroke="#f01010" stroke-width="0.8"/>
<line x1="376.74" y1="243.6" x2="380.34" y2="243.6" stroke="#f01010" stroke-width="0.8"/>
<line x1="387.93" y1="241.5" x2="387.93" y2="247.6" stroke="#f01010" stroke-width="0.8"/>
<line x1="386.13" y1="241.5" x2="389.73" y2="241.5" stroke="#f01010" stroke-width="0.8"/>
<line x1="397.32" y1="239.1" x2="397.32" y2="246" stroke="#f01010" stroke-width="0.8"/>
<line x1="395.52" y1="239.1" x2="399.12" y2="239.1" stroke="#f01010" stroke-width="0.8"/>
<polyline points="322.2,261.6 331.59,255.3 340.98,251.7 350.37,249.4 359.76,249 369.15,248.5 378.54,248.5 387.93,247.6 397.32,246" fill="none" stroke="#f01010" stroke-width="0.8" stroke-linejoin="round"/>
<circle cx="322.2" cy="261.6" r="1.65" fill="#f01010"/>
<circle cx="331.59" cy="255.3" r="1.65" fill="#f01010"/>
<circle cx="340.98" cy="251.7" r="1.65" fill="#f01010"/>
<circle cx="350.37" cy="249.4" r="1.65" fill="#f01010"/>
<circle cx="359.76" cy="249" r="1.65" fill="#f01010"/>
<circle cx="369.15" cy="248.5" r="1.65" fill="#f01010"/>
<circle cx="378.54" cy="248.5" r="1.65" fill="#f01010"/>
<circle cx="387.93" cy="247.6" r="1.65" fill="#f01010"/>
<circle cx="397.32" cy="246" r="1.65" fill="#f01010"/>
<line x1="331.59" y1="252.5" x2="331.59" y2="254.8" stroke="#1e8c1e" stroke-width="0.8"/>
<line x1="329.79" y1="252.5" x2="333.39" y2="252.5" stroke="#1e8c1e" stroke-width="0.8"/>
<line x1="340.98" y1="245.4" x2="340.98" y2="250.3" stroke="#1e8c1e" stroke-width="0.8"/>
<line x1="339.18" y1="245.4" x2="342.78" y2="245.4" stroke="#1e8c1e" stroke-width="0.8"/>
<line x1="350.37" y1="236.1" x2="350.37" y2="242.2" stroke="#1e8c1e" stroke-width="0.8"/>
<line x1="348.57" y1="236.1" x2="352.17" y2="236.1" stroke="#1e8c1e" stroke-width="0.8"/>
<line x1="359.76" y1="232.5" x2="359.76" y2="237.7" stroke="#1e8c1e" stroke-width="0.8"/>
<line x1="357.96" y1="232.5" x2="361.56" y2="232.5" stroke="#1e8c1e" stroke-width="0.8"/>
<line x1="369.15" y1="224.2" x2="369.15" y2="230.7" stroke="#1e8c1e" stroke-width="0.8"/>
<line x1="367.35" y1="224.2" x2="370.95" y2="224.2" stroke="#1e8c1e" stroke-width="0.8"/>
<line x1="378.54" y1="210.4" x2="378.54" y2="218.8" stroke="#1e8c1e" stroke-width="0.8"/>
<line x1="376.74" y1="210.4" x2="380.34" y2="210.4" stroke="#1e8c1e" stroke-width="0.8"/>
<line x1="387.93" y1="205" x2="387.93" y2="213.5" stroke="#1e8c1e" stroke-width="0.8"/>
<line x1="386.13" y1="205" x2="389.73" y2="205" stroke="#1e8c1e" stroke-width="0.8"/>
<line x1="397.32" y1="184.4" x2="397.32" y2="196.6" stroke="#1e8c1e" stroke-width="0.8"/>
<line x1="395.52" y1="184.4" x2="399.12" y2="184.4" stroke="#1e8c1e" stroke-width="0.8"/>
<polyline points="322.2,261.6 331.59,254.8 340.98,250.3 350.37,242.2 359.76,237.7 369.15,230.7 378.54,218.8 387.93,213.5 397.32,196.6" fill="none" stroke="#1e8c1e" stroke-width="0.8" stroke-linejoin="round"/>
<circle cx="322.2" cy="261.6" r="1.65" fill="#1e8c1e"/>
<circle cx="331.59" cy="254.8" r="1.65" fill="#1e8c1e"/>
<circle cx="340.98" cy="250.3" r="1.65" fill="#1e8c1e"/>
<circle cx="350.37" cy="242.2" r="1.65" fill="#1e8c1e"/>
<circle cx="359.76" cy="237.7" r="1.65" fill="#1e8c1e"/>
<circle cx="369.15" cy="230.7" r="1.65" fill="#1e8c1e"/>
<circle cx="378.54" cy="218.8" r="1.65" fill="#1e8c1e"/>
<circle cx="387.93" cy="213.5" r="1.65" fill="#1e8c1e"/>
<circle cx="397.32" cy="196.6" r="1.65" fill="#1e8c1e"/>
<line x1="331.59" y1="254" x2="331.59" y2="255.3" stroke="#1414c8" stroke-width="0.8"/>
<line x1="329.79" y1="254" x2="333.39" y2="254" stroke="#1414c8" stroke-width="0.8"/>
<line x1="340.98" y1="251" x2="340.98" y2="252.3" stroke="#1414c8" stroke-width="0.8"/>
<line x1="339.18" y1="251" x2="342.78" y2="251" stroke="#1414c8" stroke-width="0.8"/>
<line x1="350.37" y1="246.5" x2="350.37" y2="248.1" stroke="#1414c8" stroke-width="0.8"/>
<line x1="348.57" y1="246.5" x2="352.17" y2="246.5" stroke="#1414c8" stroke-width="0.8"/>
<line x1="359.76" y1="238.5" x2="359.76" y2="241.3" stroke="#1414c8" stroke-width="0.8"/>
<line x1="357.96" y1="238.5" x2="361.56" y2="238.5" stroke="#1414c8" stroke-width="0.8"/>
<line x1="369.15" y1="229.5" x2="369.15" y2="233.2" stroke="#1414c8" stroke-width="0.8"/>
<line x1="367.35" y1="229.5" x2="370.95" y2="229.5" stroke="#1414c8" stroke-width="0.8"/>
<line x1="378.54" y1="214" x2="378.54" y2="222.1" stroke="#1414c8" stroke-width="0.8"/>
<line x1="376.74" y1="214" x2="380.34" y2="214" stroke="#1414c8" stroke-width="0.8"/>
<line x1="387.93" y1="208.3" x2="387.93" y2="215.8" stroke="#1414c8" stroke-width="0.8"/>
<line x1="386.13" y1="208.3" x2="389.73" y2="208.3" stroke="#1414c8" stroke-width="0.8"/>
<line x1="397.32" y1="188.9" x2="397.32" y2="200.2" stroke="#1414c8" stroke-width="0.8"/>
<line x1="395.52" y1="188.9" x2="399.12" y2="188.9" stroke="#1414c8" stroke-width="0.8"/>
<polyline points="322.2,261.6 331.59,255.3 340.98,252.3 350.37,248.1 359.76,241.3 369.15,233.2 378.54,222.1 387.93,215.8 397.32,200.2" fill="none" stroke="#1414c8" stroke-width="0.8" stroke-linejoin="round"/>
<circle cx="322.2" cy="261.6" r="1.65" fill="#1414c8"/>
<circle cx="331.59" cy="255.3" r="1.65" fill="#1414c8"/>
<circle cx="340.98" cy="252.3" r="1.65" fill="#1414c8"/>
<circle cx="350.37" cy="248.1" r="1.65" fill="#1414c8"/>
<circle cx="359.76" cy="241.3" r="1.65" fill="#1414c8"/>
<circle cx="369.15" cy="233.2" r="1.65" fill="#1414c8"/>
<circle cx="378.54" cy="222.1" r="1.65" fill="#1414c8"/>
<circle cx="387.93" cy="215.8" r="1.65" fill="#1414c8"/>
<circle cx="397.32" cy="200.2" r="1.65" fill="#1414c8"/>
<line x1="331.59" y1="254" x2="331.59" y2="255.3" stroke="#000000" stroke-width="0.8"/>
<line x1="329.79" y1="254" x2="333.39" y2="254" stroke="#000000" stroke-width="0.8"/>
<line x1="340.98" y1="249" x2="340.98" y2="250.8" stroke="#000000" stroke-width="0.8"/>
<line x1="339.18" y1="249" x2="342.78" y2="249" stroke="#000000" stroke-width="0.8"/>
<line x1="350.37" y1="246.3" x2="350.37" y2="248.1" stroke="#000000" stroke-width="0.8"/>
<line x1="348.57" y1="246.3" x2="352.17" y2="246.3" stroke="#000000" stroke-width="0.8"/>
<line x1="359.76" y1="246.3" x2="359.76" y2="247.6" stroke="#000000" stroke-width="0.8"/>
<line x1="357.96" y1="246.3" x2="361.56" y2="246.3" stroke="#000000" stroke-width="0.8"/>
<line x1="369.15" y1="236.8" x2="369.15" y2="242.2" stroke="#000000" stroke-width="0.8"/>
<line x1="367.35" y1="236.8" x2="370.95" y2="236.8" stroke="#000000" stroke-width="0.8"/>
<line x1="378.54" y1="233.8" x2="378.54" y2="238.6" stroke="#000000" stroke-width="0.8"/>
<line x1="376.74" y1="233.8" x2="380.34" y2="233.8" stroke="#000000" stroke-width="0.8"/>
<line x1="387.93" y1="227.5" x2="387.93" y2="233.2" stroke="#000000" stroke-width="0.8"/>
<line x1="386.13" y1="227.5" x2="389.73" y2="227.5" stroke="#000000" stroke-width="0.8"/>
<line x1="397.32" y1="218.5" x2="397.32" y2="224.2" stroke="#000000" stroke-width="0.8"/>
<line x1="395.52" y1="218.5" x2="399.12" y2="218.5" stroke="#000000" stroke-width="0.8"/>
<polyline points="322.2,261.6 331.59,255.3 340.98,250.8 350.37,248.1 359.76,247.6 369.15,242.2 378.54,238.6 387.93,233.2 397.32,224.2" fill="none" stroke="#000000" stroke-width="0.8" stroke-linejoin="round"/>
<circle cx="322.2" cy="261.6" r="1.65" fill="#000000"/>
<circle cx="331.59" cy="255.3" r="1.65" fill="#000000"/>
<circle cx="340.98" cy="250.8" r="1.65" fill="#000000"/>
<circle cx="350.37" cy="248.1" r="1.65" fill="#000000"/>
<circle cx="359.76" cy="247.6" r="1.65" fill="#000000"/>
<circle cx="369.15" cy="242.2" r="1.65" fill="#000000"/>
<circle cx="378.54" cy="238.6" r="1.65" fill="#000000"/>
<circle cx="387.93" cy="233.2" r="1.65" fill="#000000"/>
<circle cx="397.32" cy="224.2" r="1.65" fill="#000000"/>
<line x1="401.6" y1="223.5" x2="401.6" y2="244.5" stroke="#222" stroke-width="0.8"/>
<g class="ns">
<text transform="translate(400.92 233.8) rotate(90)" font-size="9" text-anchor="middle">*</text>
</g>
<line x1="318.4" y1="154.3" x2="328.8" y2="154.3" stroke="#000000" stroke-width="0.8"/>
<circle cx="323.6" cy="154.3" r="1.5" fill="#000000"/>
<text x="332.2" y="156.9" font-size="7.9">Control + vehicle</text>
<line x1="318.4" y1="163.2" x2="328.8" y2="163.2" stroke="#f01010" stroke-width="0.8"/>
<circle cx="323.6" cy="163.2" r="1.5" fill="#f01010"/>
<text x="332.2" y="165.8" font-size="7.9">Control + SD-36</text>
<line x1="318.4" y1="172" x2="328.8" y2="172" stroke="#1e8c1e" stroke-width="0.8"/>
<circle cx="323.6" cy="172" r="1.5" fill="#1e8c1e"/>
<text x="332.2" y="174.6" font-size="7.9"><tspan font-style="italic">Batf3</tspan><tspan font-size="5.8" dy="-3.3" letter-spacing="0.3">−/−</tspan><tspan dy="3.3"> + vehicle</tspan></text>
<line x1="318.4" y1="180.9" x2="328.8" y2="180.9" stroke="#1414c8" stroke-width="0.8"/>
<circle cx="323.6" cy="180.9" r="1.5" fill="#1414c8"/>
<text x="332.2" y="183.5" font-size="7.9"><tspan font-style="italic">Batf3</tspan><tspan font-size="5.8" dy="-3.3" letter-spacing="0.3">−/−</tspan><tspan dy="3.3"> + SD-36</tspan></text>
<g class="pl">
<text x="416.4" y="157.2" font-size="10.5" font-weight="bold" fill="#000">n</text>
</g>
<line x1="454.4" y1="183.9" x2="454.4" y2="261.9" stroke="#8a8a8a" stroke-width="1"/>
<line x1="450.6" y1="184.4" x2="454.4" y2="184.4" stroke="#8a8a8a" stroke-width="1"/>
<text x="447.4" y="187" font-size="7.8" text-anchor="end">3,750</text>
<line x1="450.6" y1="199.8" x2="454.4" y2="199.8" stroke="#8a8a8a" stroke-width="1"/>
<text x="447.4" y="202.4" font-size="7.8" text-anchor="end">3,000</text>
<line x1="450.6" y1="215.2" x2="454.4" y2="215.2" stroke="#8a8a8a" stroke-width="1"/>
<text x="447.4" y="217.8" font-size="7.8" text-anchor="end">2,250</text>
<line x1="450.6" y1="230.6" x2="454.4" y2="230.6" stroke="#8a8a8a" stroke-width="1"/>
<text x="447.4" y="233.2" font-size="7.8" text-anchor="end">1,500</text>
<line x1="450.6" y1="246" x2="454.4" y2="246" stroke="#8a8a8a" stroke-width="1"/>
<text x="447.4" y="248.6" font-size="7.8" text-anchor="end">750</text>
<line x1="450.6" y1="261.4" x2="454.4" y2="261.4" stroke="#8a8a8a" stroke-width="1"/>
<text x="447.4" y="264" font-size="7.8" text-anchor="end">0</text>
<line x1="453.9" y1="261.4" x2="532.6" y2="261.4" stroke="#8a8a8a" stroke-width="1"/>
<line x1="462.4" y1="261.4" x2="462.4" y2="265.2" stroke="#8a8a8a" stroke-width="1"/>
<text x="462.4" y="273.7" font-size="7.8" text-anchor="middle">0</text>
<line x1="474.7" y1="261.4" x2="474.7" y2="265.2" stroke="#8a8a8a" stroke-width="1"/>
<text x="474.7" y="273.7" font-size="7.8" text-anchor="middle">6</text>
<line x1="487.3" y1="261.4" x2="487.3" y2="265.2" stroke="#8a8a8a" stroke-width="1"/>
<text x="487.3" y="273.7" font-size="7.8" text-anchor="middle">9</text>
<line x1="499.5" y1="261.4" x2="499.5" y2="265.2" stroke="#8a8a8a" stroke-width="1"/>
<text x="499.5" y="273.7" font-size="7.8" text-anchor="middle">12</text>
<line x1="511.9" y1="261.4" x2="511.9" y2="265.2" stroke="#8a8a8a" stroke-width="1"/>
<text x="511.9" y="273.7" font-size="7.8" text-anchor="middle">15</text>
<line x1="524.5" y1="261.4" x2="524.5" y2="265.2" stroke="#8a8a8a" stroke-width="1"/>
<text x="524.5" y="273.7" font-size="7.8" text-anchor="middle">18</text>
<text x="493.5" y="284.2" font-size="7.8" text-anchor="middle">Time (days)</text>
<text transform="translate(422.4 222.6) rotate(-90)" font-size="8" text-anchor="middle">Tumour volume (mm<tspan font-size="5.6" dy="-4.0">3</tspan><tspan dy="4.0">)</tspan></text>
<line x1="487.3" y1="257.5" x2="487.3" y2="258.4" stroke="#f01010" stroke-width="0.8"/>
<line x1="485.5" y1="257.5" x2="489.1" y2="257.5" stroke="#f01010" stroke-width="0.8"/>
<line x1="499.5" y1="252" x2="499.5" y2="253.5" stroke="#f01010" stroke-width="0.8"/>
<line x1="497.7" y1="252" x2="501.3" y2="252" stroke="#f01010" stroke-width="0.8"/>
<line x1="511.9" y1="245" x2="511.9" y2="247.1" stroke="#f01010" stroke-width="0.8"/>
<line x1="510.1" y1="245" x2="513.7" y2="245" stroke="#f01010" stroke-width="0.8"/>
<line x1="524.5" y1="226.4" x2="524.5" y2="232.5" stroke="#f01010" stroke-width="0.8"/>
<line x1="522.7" y1="226.4" x2="526.3" y2="226.4" stroke="#f01010" stroke-width="0.8"/>
<polyline points="462.4,261.6 474.7,259.9 487.3,258.4 499.5,253.5 511.9,247.1 524.5,232.5" fill="none" stroke="#f01010" stroke-width="0.8" stroke-linejoin="round"/>
<circle cx="462.4" cy="261.6" r="1.65" fill="#f01010"/>
<circle cx="474.7" cy="259.9" r="1.65" fill="#f01010"/>
<circle cx="487.3" cy="258.4" r="1.65" fill="#f01010"/>
<circle cx="499.5" cy="253.5" r="1.65" fill="#f01010"/>
<circle cx="511.9" cy="247.1" r="1.65" fill="#f01010"/>
<circle cx="524.5" cy="232.5" r="1.65" fill="#f01010"/>
<line x1="487.3" y1="257" x2="487.3" y2="258" stroke="#000000" stroke-width="0.8"/>
<line x1="485.5" y1="257" x2="489.1" y2="257" stroke="#000000" stroke-width="0.8"/>
<line x1="499.5" y1="250" x2="499.5" y2="251.9" stroke="#000000" stroke-width="0.8"/>
<line x1="497.7" y1="250" x2="501.3" y2="250" stroke="#000000" stroke-width="0.8"/>
<line x1="511.9" y1="240" x2="511.9" y2="242.7" stroke="#000000" stroke-width="0.8"/>
<line x1="510.1" y1="240" x2="513.7" y2="240" stroke="#000000" stroke-width="0.8"/>
<line x1="524.5" y1="207.5" x2="524.5" y2="215.9" stroke="#000000" stroke-width="0.8"/>
<line x1="522.7" y1="207.5" x2="526.3" y2="207.5" stroke="#000000" stroke-width="0.8"/>
<polyline points="462.4,261.6 474.7,259.9 487.3,258 499.5,251.9 511.9,242.7 524.5,215.9" fill="none" stroke="#000000" stroke-width="0.8" stroke-linejoin="round"/>
<circle cx="462.4" cy="261.6" r="1.65" fill="#000000"/>
<circle cx="474.7" cy="259.9" r="1.65" fill="#000000"/>
<circle cx="487.3" cy="258" r="1.65" fill="#000000"/>
<circle cx="499.5" cy="251.9" r="1.65" fill="#000000"/>
<circle cx="511.9" cy="242.7" r="1.65" fill="#000000"/>
<circle cx="524.5" cy="215.9" r="1.65" fill="#000000"/>
<line x1="487.3" y1="256.5" x2="487.3" y2="257.6" stroke="#1414c8" stroke-width="0.8"/>
<line x1="485.5" y1="256.5" x2="489.1" y2="256.5" stroke="#1414c8" stroke-width="0.8"/>
<line x1="499.5" y1="247.5" x2="499.5" y2="249.8" stroke="#1414c8" stroke-width="0.8"/>
<line x1="497.7" y1="247.5" x2="501.3" y2="247.5" stroke="#1414c8" stroke-width="0.8"/>
<line x1="511.9" y1="234" x2="511.9" y2="237.7" stroke="#1414c8" stroke-width="0.8"/>
<line x1="510.1" y1="234" x2="513.7" y2="234" stroke="#1414c8" stroke-width="0.8"/>
<line x1="524.5" y1="196.5" x2="524.5" y2="204.6" stroke="#1414c8" stroke-width="0.8"/>
<line x1="522.7" y1="196.5" x2="526.3" y2="196.5" stroke="#1414c8" stroke-width="0.8"/>
<polyline points="462.4,261.6 474.7,259.9 487.3,257.6 499.5,249.8 511.9,237.7 524.5,204.6" fill="none" stroke="#1414c8" stroke-width="0.8" stroke-linejoin="round"/>
<circle cx="462.4" cy="261.6" r="1.65" fill="#1414c8"/>
<circle cx="474.7" cy="259.9" r="1.65" fill="#1414c8"/>
<circle cx="487.3" cy="257.6" r="1.65" fill="#1414c8"/>
<circle cx="499.5" cy="249.8" r="1.65" fill="#1414c8"/>
<circle cx="511.9" cy="237.7" r="1.65" fill="#1414c8"/>
<circle cx="524.5" cy="204.6" r="1.65" fill="#1414c8"/>
<line x1="487.3" y1="256" x2="487.3" y2="257.2" stroke="#1e8c1e" stroke-width="0.8"/>
<line x1="485.5" y1="256" x2="489.1" y2="256" stroke="#1e8c1e" stroke-width="0.8"/>
<line x1="499.5" y1="245.4" x2="499.5" y2="248.7" stroke="#1e8c1e" stroke-width="0.8"/>
<line x1="497.7" y1="245.4" x2="501.3" y2="245.4" stroke="#1e8c1e" stroke-width="0.8"/>
<line x1="511.9" y1="228.5" x2="511.9" y2="234.9" stroke="#1e8c1e" stroke-width="0.8"/>
<line x1="510.1" y1="228.5" x2="513.7" y2="228.5" stroke="#1e8c1e" stroke-width="0.8"/>
<line x1="524.5" y1="186.5" x2="524.5" y2="196.5" stroke="#1e8c1e" stroke-width="0.8"/>
<line x1="522.7" y1="186.5" x2="526.3" y2="186.5" stroke="#1e8c1e" stroke-width="0.8"/>
<polyline points="462.4,261.6 474.7,259.7 487.3,257.2 499.5,248.7 511.9,234.9 524.5,196.5" fill="none" stroke="#1e8c1e" stroke-width="0.8" stroke-linejoin="round"/>
<circle cx="462.4" cy="261.6" r="1.65" fill="#1e8c1e"/>
<circle cx="474.7" cy="259.7" r="1.65" fill="#1e8c1e"/>
<circle cx="487.3" cy="257.2" r="1.65" fill="#1e8c1e"/>
<circle cx="499.5" cy="248.7" r="1.65" fill="#1e8c1e"/>
<circle cx="511.9" cy="234.9" r="1.65" fill="#1e8c1e"/>
<circle cx="524.5" cy="196.5" r="1.65" fill="#1e8c1e"/>
<line x1="528.5" y1="214.7" x2="528.5" y2="231.7" stroke="#222" stroke-width="0.8"/>
<g class="ns">
<text transform="translate(528.62 223.3) rotate(90)" font-size="9" text-anchor="middle">*</text>
</g>
<line x1="455.8" y1="154" x2="466.5" y2="154" stroke="#000000" stroke-width="0.8"/>
<circle cx="461.15" cy="154" r="1.5" fill="#000000"/>
<text x="470.6" y="156.6" font-size="7.9">Control + vehicle</text>
<line x1="455.8" y1="163.1" x2="466.5" y2="163.1" stroke="#f01010" stroke-width="0.8"/>
<circle cx="461.15" cy="163.1" r="1.5" fill="#f01010"/>
<text x="470.6" y="165.7" font-size="7.9">Control + SD-36</text>
<line x1="455.8" y1="172.3" x2="466.5" y2="172.3" stroke="#1e8c1e" stroke-width="0.8"/>
<circle cx="461.15" cy="172.3" r="1.5" fill="#1e8c1e"/>
<text x="470.6" y="174.9" font-size="7.9"><tspan font-style="italic">Batf3</tspan><tspan font-size="5.8" dy="-3.3" letter-spacing="0.3">−/−</tspan><tspan dy="3.3"> + vehicle</tspan></text>
<line x1="455.8" y1="181.2" x2="466.5" y2="181.2" stroke="#1414c8" stroke-width="0.8"/>
<circle cx="461.15" cy="181.2" r="1.5" fill="#1414c8"/>
<text x="470.6" y="183.8" font-size="7.9"><tspan font-style="italic">Batf3</tspan><tspan font-size="5.8" dy="-3.3" letter-spacing="0.3">−/−</tspan><tspan dy="3.3"> + SD-36</tspan></text>
<g class="pl">
<text x="544.8" y="157.2" font-size="10.5" font-weight="bold" fill="#000">o</text>
</g>
<line x1="570.7" y1="173.3" x2="570.7" y2="235.8" stroke="#8a8a8a" stroke-width="1"/>
<line x1="567.3" y1="173.8" x2="570.7" y2="173.8" stroke="#8a8a8a" stroke-width="1"/>
<text x="564.9" y="176.4" font-size="7.8" text-anchor="end">5</text>
<line x1="567.3" y1="186.1" x2="570.7" y2="186.1" stroke="#8a8a8a" stroke-width="1"/>
<text x="564.9" y="188.7" font-size="7.8" text-anchor="end">4</text>
<line x1="567.3" y1="198.4" x2="570.7" y2="198.4" stroke="#8a8a8a" stroke-width="1"/>
<text x="564.9" y="201" font-size="7.8" text-anchor="end">3</text>
<line x1="567.3" y1="210.7" x2="570.7" y2="210.7" stroke="#8a8a8a" stroke-width="1"/>
<text x="564.9" y="213.3" font-size="7.8" text-anchor="end">2</text>
<line x1="567.3" y1="223" x2="570.7" y2="223" stroke="#8a8a8a" stroke-width="1"/>
<text x="564.9" y="225.6" font-size="7.8" text-anchor="end">1</text>
<line x1="567.3" y1="235.3" x2="570.7" y2="235.3" stroke="#8a8a8a" stroke-width="1"/>
<text x="564.9" y="237.9" font-size="7.8" text-anchor="end">0</text>
<line x1="570.2" y1="235.3" x2="610.4" y2="235.3" stroke="#8a8a8a" stroke-width="1"/>
<line x1="576.5" y1="235.3" x2="576.5" y2="239.1" stroke="#8a8a8a" stroke-width="1"/>
<line x1="586.3" y1="235.3" x2="586.3" y2="239.1" stroke="#8a8a8a" stroke-width="1"/>
<line x1="595.4" y1="235.3" x2="595.4" y2="239.1" stroke="#8a8a8a" stroke-width="1"/>
<line x1="605.1" y1="235.3" x2="605.1" y2="239.1" stroke="#8a8a8a" stroke-width="1"/>
<rect x="573.8" y="231.8" width="5.8" height="3.5" fill="#fbd2b8" stroke="#f26a1b" stroke-width="0.9"/>
<rect x="583.2" y="213" width="6.1" height="22.3" fill="#bcbcf2" stroke="#3a3ad8" stroke-width="0.9"/>
<rect x="592.4" y="217.3" width="6.1" height="18" fill="#bcd9ee" stroke="#2a86a8" stroke-width="0.9"/>
<rect x="602" y="188" width="6.1" height="47.3" fill="#fde2e2" stroke="#ff3a3a" stroke-width="0.9"/>
<line x1="586.25" y1="208.6" x2="586.25" y2="213" stroke="#3a3ad8" stroke-width="0.8"/>
<line x1="584.45" y1="208.6" x2="588.05" y2="208.6" stroke="#3a3ad8" stroke-width="0.8"/>
<line x1="595.45" y1="212.7" x2="595.45" y2="217.3" stroke="#2a86a8" stroke-width="0.8"/>
<line x1="593.65" y1="212.7" x2="597.25" y2="212.7" stroke="#2a86a8" stroke-width="0.8"/>
<line x1="605.05" y1="185.7" x2="605.05" y2="188" stroke="#ff3a3a" stroke-width="0.8"/>
<line x1="603.25" y1="185.7" x2="606.85" y2="185.7" stroke="#ff3a3a" stroke-width="0.8"/>
<circle cx="574.6" cy="232.5" r="1.3" fill="#f26a1b"/>
<circle cx="576.5" cy="231.6" r="1.3" fill="#f26a1b"/>
<circle cx="578.5" cy="232.3" r="1.3" fill="#f26a1b"/>
<circle cx="575.5" cy="233.8" r="1.3" fill="#f26a1b"/>
<circle cx="577.8" cy="233.5" r="1.3" fill="#f26a1b"/>
<circle cx="584.1" cy="209.2" r="1.5" fill="#1414b4"/>
<circle cx="588" cy="208.6" r="1.5" fill="#1414b4"/>
<circle cx="586" cy="211.2" r="1.5" fill="#1414b4"/>
<circle cx="586.7" cy="215" r="1.5" fill="#1414b4"/>
<circle cx="586.3" cy="218.8" r="1.5" fill="#1414b4"/>
<circle cx="595.4" cy="204.6" r="1.5" fill="#1c7896"/>
<circle cx="594.8" cy="218.8" r="1.5" fill="#1c7896"/>
<circle cx="593.6" cy="221.1" r="1.5" fill="#1c7896"/>
<circle cx="596.4" cy="221.9" r="1.5" fill="#1c7896"/>
<circle cx="595.4" cy="223.4" r="1.5" fill="#1c7896"/>
<circle cx="605.1" cy="182.9" r="1.5" fill="#f01010"/>
<circle cx="605.3" cy="184.6" r="1.5" fill="#f01010"/>
<circle cx="604.6" cy="187.5" r="1.5" fill="#f01010"/>
<circle cx="605.6" cy="190.6" r="1.5" fill="#f01010"/>
<circle cx="605.1" cy="194.4" r="1.5" fill="#f01010"/>
<line x1="574" y1="177.6" x2="605.1" y2="177.6" stroke="#666" stroke-width="0.9"/>
<g class="ns">
<text x="589.8" y="178.07" font-size="9" text-anchor="middle">****</text>
</g>
<text transform="translate(552.1 209) rotate(-90)" font-size="7.8" text-anchor="middle">STAT3 MFI (×10<tspan font-size="5.6" dy="-3.6">3</tspan><tspan dy="3.6">)</tspan></text>
<text transform="translate(579.7 244.4) rotate(-45)" font-size="7.8" text-anchor="end">Tumour cells</text>
<text transform="translate(589.5 244.4) rotate(-45)" font-size="7.8" text-anchor="end">B cells</text>
<text transform="translate(598.6 244.4) rotate(-45)" font-size="7.8" text-anchor="end">T cells</text>
<text transform="translate(608.3 244.4) rotate(-45)" font-size="7.8" text-anchor="end">DCs</text>
<g class="pl">
<text x="618.8" y="157.2" font-size="10.5" font-weight="bold" fill="#000">p</text>
</g>
<path d="M629.53,211.24 L629.53,209.52 L630.5,206.43 L631.47,202.22 L632.28,197.6 L633.09,191.15 L633.9,185.74 L634.46,185.28 L635.03,185.7 L635.67,184.64 L636.32,185.26 L636.97,185.05 L637.62,184.2 L638.26,185.22 L638.91,184.53 L639.56,189.55 L640.36,193.91 L641.17,200.06 L641.98,205.95 L642.79,208.03 L643.6,208.96 L644.17,209.31 L644.73,209.45 L645.38,210.26 L646.03,210.77 L646.59,210.73 L647.16,210.7 L647.72,210.8 L648.29,210.75 L648.86,210.78 L649.42,210.8 L649.99,210.78 L650.55,210.81 L650.88,209.42 L651.36,211.09 L651.94,211.07 L652.51,211.08 L653.09,211.07 L653.67,211.02 L654.24,211.01 L654.82,211 L655.4,211.04 L655.97,211 L656.55,211 L657.12,210.97 L657.7,210.97 L658.28,210.95 L658.85,210.94 L659.43,210.95 L660.01,210.94 L660.58,210.95 L660.9,210.32 L661.39,211.24 L661.39,211.24 Z" fill="#8f8f8f"/>
<path d="M629.53,248.93 L629.53,247.55 L630.18,243.19 L630.82,239.44 L631.47,234.35 L632.12,232.97 L632.76,231.36 L633.41,230.58 L633.9,229.33 L634.38,230.43 L635.03,226.33 L635.67,227.45 L636,225.57 L636.64,224.66 L637.13,228.15 L637.62,226.64 L638.26,225.42 L638.75,224.51 L639.23,225.62 L639.88,226.91 L640.36,229.53 L640.85,233.69 L641.17,236.44 L641.98,238.97 L642.79,237.96 L643.11,238.31 L643.76,235.9 L644.08,239.33 L644.73,240.04 L645.22,241.17 L646.03,241.81 L646.35,242.75 L647,242.69 L647.64,244.02 L648.45,244.44 L649.26,245.25 L650.07,244.52 L650.88,246.31 L651.69,245.43 L652.49,244.78 L653.14,245.97 L653.79,245.7 L654.35,246.2 L654.92,246.88 L655.73,247.03 L656.54,247.17 L657.35,246.55 L658.16,247.44 L658.96,247.84 L659.61,247.95 L660.26,248.17 L660.9,248.21 L661.55,248.35 L662.2,248.44 L662.81,248.38 L663.41,248.43 L664.02,248.27 L664.62,248.27 L665.23,248.36 L665.84,248.54 L666.44,248.63 L667.05,248.76 L667.05,248.93 Z" fill="#8f8f8f"/>
<path d="M641.17,248.93 L641.17,246.07 L641.82,241.31 L642.47,240.05 L643.11,237.87 L643.76,239.69 L644.41,241.42 L644.89,241.85 L645.38,243.08 L645.86,244.02 L646.35,244.49 L646.83,245.28 L647.32,245.5 L647.97,247.63 L647.97,248.93 Z" fill="#5e5e5e"/>
<rect x="628.5" y="174.5" width="45" height="75" fill="none" stroke="#1a1a1a" stroke-width="1"/>
<line x1="628.5" y1="211.5" x2="673.5" y2="211.5" stroke="#1a1a1a" stroke-width="1"/>
<line x1="643.1" y1="175" x2="643.1" y2="249.2" stroke="#444" stroke-width="0.9" stroke-dasharray="1.9 1.5"/>
<text transform="translate(626.2 249.7) rotate(-90)" font-size="7.8">Count</text>
<path d="M623.4,222.5 L623.4,179.5" stroke="#000" stroke-width="0.8"/><path d="M622,180.1 L623.4,176.5 L624.8,180.1 Z" fill="#000"/>
<text x="623.6" y="257.6" font-size="7.8">pSTAT3-PE</text>
<path d="M667.3,255.3 L672.8,255.3" stroke="#000" stroke-width="0.8"/><path d="M672.2,253.9 L675.8,255.3 L672.2,256.7 Z" fill="#000"/>
<text transform="translate(681.6 195) rotate(-90)" font-size="7.8" text-anchor="middle">SD-36</text>
<text transform="translate(681.6 229.9) rotate(-90)" font-size="7.8" text-anchor="middle">Vehicle</text>
<g class="pl">
<text x="0.6" y="302.5" font-size="10.5" font-weight="bold" fill="#000">q</text>
</g>
<line x1="37.1" y1="311.7" x2="37.1" y2="377.9" stroke="#8a8a8a" stroke-width="1"/>
<line x1="33.3" y1="312.2" x2="37.1" y2="312.2" stroke="#8a8a8a" stroke-width="1"/>
<text x="30.1" y="314.8" font-size="7.8" text-anchor="end">30</text>
<line x1="33.3" y1="333.93" x2="37.1" y2="333.93" stroke="#8a8a8a" stroke-width="1"/>
<text x="30.1" y="336.53" font-size="7.8" text-anchor="end">20</text>
<line x1="33.3" y1="355.67" x2="37.1" y2="355.67" stroke="#8a8a8a" stroke-width="1"/>
<text x="30.1" y="358.27" font-size="7.8" text-anchor="end">10</text>
<line x1="33.3" y1="377.4" x2="37.1" y2="377.4" stroke="#8a8a8a" stroke-width="1"/>
<text x="30.1" y="380" font-size="7.8" text-anchor="end">0</text>
<line x1="36.6" y1="377.4" x2="73" y2="377.4" stroke="#8a8a8a" stroke-width="1"/>
<line x1="47.05" y1="377.4" x2="47.05" y2="381.2" stroke="#8a8a8a" stroke-width="1"/>
<line x1="61.75" y1="377.4" x2="61.75" y2="381.2" stroke="#8a8a8a" stroke-width="1"/>
<rect x="42.4" y="326.6" width="9.3" height="50.8" fill="#c9dbf6" stroke="#3a3ae0" stroke-width="0.9"/>
<rect x="56.8" y="352.9" width="9.9" height="24.5" fill="#fde2e2" stroke="#ff3a3a" stroke-width="0.9"/>
<line x1="47.05" y1="324.5" x2="47.05" y2="326.6" stroke="#3a3ae0" stroke-width="0.8"/>
<line x1="44.9" y1="324.5" x2="49.2" y2="324.5" stroke="#3a3ae0" stroke-width="0.8"/>
<line x1="61.75" y1="350.3" x2="61.75" y2="352.9" stroke="#ff3a3a" stroke-width="0.8"/>
<line x1="59.6" y1="350.3" x2="63.9" y2="350.3" stroke="#ff3a3a" stroke-width="0.8"/>
<circle cx="47" cy="320.7" r="1.5" fill="#1414c8"/>
<circle cx="43.4" cy="327.2" r="1.5" fill="#1414c8"/>
<circle cx="50.9" cy="327.2" r="1.5" fill="#1414c8"/>
<circle cx="47" cy="330.6" r="1.5" fill="#1414c8"/>
<circle cx="47" cy="336.5" r="1.5" fill="#1414c8"/>
<circle cx="58.2" cy="347" r="1.5" fill="#f01010"/>
<circle cx="64.7" cy="349" r="1.5" fill="#f01010"/>
<circle cx="61.6" cy="351.7" r="1.5" fill="#f01010"/>
<circle cx="61.2" cy="356.2" r="1.5" fill="#f01010"/>
<circle cx="61.6" cy="361.2" r="1.5" fill="#f01010"/>
<g class="ns">
<text x="47.3" y="317.68" font-size="9" text-anchor="middle">***</text>
</g>
<text transform="translate(15.6 344.9) rotate(-90)" font-size="7.8" text-anchor="middle">pSTAT3 (% in cDC1)</text>
<text transform="translate(51.2 387.5) rotate(-45)" font-size="8" text-anchor="end">Vehicle</text>
<text transform="translate(65.6 387.8) rotate(-45)" font-size="8" text-anchor="end">SD-36</text>
<g class="pl">
<text x="82.4" y="302.8" font-size="10.5" font-weight="bold" fill="#000">r</text>
</g>
<clipPath id="rcl"><rect x="90" y="300" width="19.6" height="90"/></clipPath><clipPath id="rcr"><rect x="109.6" y="300" width="40" height="90"/></clipPath>
<path d="M95.81,344.56 L95.81,343.94 L96.42,338.98 L96.88,334.07 L97.64,328.17 L98.4,324.4 L98.86,322.66 L99.47,320.19 L99.93,322.11 L100.39,323.02 L101,321.38 L101.46,319.32 L101.92,319.27 L102.53,317.79 L103.14,320.48 L103.75,322.33 L104.51,320.78 L104.97,326.5 L105.28,330.3 L106.04,330.38 L106.81,330.64 L107.57,330.4 L108.33,330.68 L108.95,333.59 L109.56,339.14 L110.17,338.08 L110.63,337.83 L111.39,334.52 L112.15,332.75 L112.77,335.01 L113.22,337.79 L114.14,339.39 L114.75,338.62 L115.21,338.9 L115.97,339.56 L116.74,338.09 L117.81,339.4 L118.42,340.27 L119.03,340.26 L119.79,340.99 L120.56,340.68 L121.32,341.01 L122.09,341.75 L122.85,342.93 L123.61,343.35 L124.38,343.93 L125.14,344.24 L125.91,344.28 L126.67,344.24 L127.24,344.23 L127.82,344.15 L128.39,343.94 L128.96,343.89 L129.72,343.82 L130.49,343.48 L131.25,344.3 L131.83,344.24 L132.4,344.21 L132.97,344.26 L133.54,344.28 L134.12,344.23 L134.69,344.22 L135.26,344.24 L135.84,344.3 L136.45,344.3 L137.06,344.29 L137.67,344.33 L138.28,344.35 L138.89,344.41 L138.89,344.56 Z" fill="#b2b2b2" clip-path="url(#rcr)"/><path d="M95.81,344.56 L95.81,343.94 L96.42,338.98 L96.88,334.07 L97.64,328.17 L98.4,324.4 L98.86,322.66 L99.47,320.19 L99.93,322.11 L100.39,323.02 L101,321.38 L101.46,319.32 L101.92,319.27 L102.53,317.79 L103.14,320.48 L103.75,322.33 L104.51,320.78 L104.97,326.5 L105.28,330.3 L106.04,330.38 L106.81,330.64 L107.57,330.4 L108.33,330.68 L108.95,333.59 L109.56,339.14 L110.17,338.08 L110.63,337.83 L111.39,334.52 L112.15,332.75 L112.77,335.01 L113.22,337.79 L114.14,339.39 L114.75,338.62 L115.21,338.9 L115.97,339.56 L116.74,338.09 L117.81,339.4 L118.42,340.27 L119.03,340.26 L119.79,340.99 L120.56,340.68 L121.32,341.01 L122.09,341.75 L122.85,342.93 L123.61,343.35 L124.38,343.93 L125.14,344.24 L125.91,344.28 L126.67,344.24 L127.24,344.23 L127.82,344.15 L128.39,343.94 L128.96,343.89 L129.72,343.82 L130.49,343.48 L131.25,344.3 L131.83,344.24 L132.4,344.21 L132.97,344.26 L133.54,344.28 L134.12,344.23 L134.69,344.22 L135.26,344.24 L135.84,344.3 L136.45,344.3 L137.06,344.29 L137.67,344.33 L138.28,344.35 L138.89,344.41 L138.89,344.56 Z" fill="#727272" clip-path="url(#rcl)"/>
<path d="M95.81,383.21 L95.81,382.75 L96.42,378.06 L96.88,375.01 L97.64,368.27 L98.4,363.53 L98.86,360.91 L99.47,357.73 L99.93,356.85 L100.39,355.94 L101,358.13 L101.46,359.6 L102.22,362.78 L102.99,362.93 L103.45,361.75 L104.06,360.65 L104.67,363.84 L105.28,365.11 L105.89,368.32 L106.5,369.72 L107.11,372.28 L107.57,373.09 L108.64,373.17 L109.1,374.46 L109.56,374.23 L110.17,375.81 L110.63,379.13 L111.7,379.4 L112.31,379.35 L112.92,380.6 L113.68,380.77 L114.45,380.31 L115.21,380.87 L115.97,381.01 L116.55,381.24 L117.12,381.52 L117.69,381.41 L118.27,381.78 L118.84,381.7 L119.41,381.95 L119.98,382.35 L120.56,382.43 L121.13,382.51 L121.7,382.62 L122.28,382.68 L122.85,382.74 L123.42,382.78 L124,382.93 L124.57,383.02 L125.14,383.06 L125.14,383.21 Z" fill="#b2b2b2" clip-path="url(#rcr)"/><path d="M95.81,383.21 L95.81,382.75 L96.42,378.06 L96.88,375.01 L97.64,368.27 L98.4,363.53 L98.86,360.91 L99.47,357.73 L99.93,356.85 L100.39,355.94 L101,358.13 L101.46,359.6 L102.22,362.78 L102.99,362.93 L103.45,361.75 L104.06,360.65 L104.67,363.84 L105.28,365.11 L105.89,368.32 L106.5,369.72 L107.11,372.28 L107.57,373.09 L108.64,373.17 L109.1,374.46 L109.56,374.23 L110.17,375.81 L110.63,379.13 L111.7,379.4 L112.31,379.35 L112.92,380.6 L113.68,380.77 L114.45,380.31 L115.21,380.87 L115.97,381.01 L116.55,381.24 L117.12,381.52 L117.69,381.41 L118.27,381.78 L118.84,381.7 L119.41,381.95 L119.98,382.35 L120.56,382.43 L121.13,382.51 L121.7,382.62 L122.28,382.68 L122.85,382.74 L123.42,382.78 L124,382.93 L124.57,383.02 L125.14,383.06 L125.14,383.21 Z" fill="#727272" clip-path="url(#rcl)"/>
<rect x="93.5" y="306.5" width="47" height="77" fill="none" stroke="#1a1a1a" stroke-width="1"/>
<line x1="93.5" y1="345.5" x2="140.5" y2="345.5" stroke="#1a1a1a" stroke-width="1"/>
<line x1="108.8" y1="307" x2="108.8" y2="383.2" stroke="#444" stroke-width="0.9" stroke-dasharray="1.9 1.5"/>
<text transform="translate(90.4 383.7) rotate(-90)" font-size="7.8">Count</text>
<path d="M88.1,359.8 L88.1,312.4" stroke="#000" stroke-width="0.8"/><path d="M86.7,313 L88.1,309.4 L89.5,313 Z" fill="#000"/>
<text x="78.4" y="393.6" font-size="7.8">pSTAT5-PE-Cy7</text>
<path d="M138.3,390.9 L141.2,390.9" stroke="#000" stroke-width="0.8"/><path d="M140.6,389.5 L144.2,390.9 L140.6,392.3 Z" fill="#000"/>
<text transform="translate(151.2 327) rotate(-90)" font-size="7.8" text-anchor="middle">SD-36</text>
<text transform="translate(151.2 364.5) rotate(-90)" font-size="7.8" text-anchor="middle">Vehicle</text>
<line x1="192.4" y1="312.8" x2="192.4" y2="378.7" stroke="#8a8a8a" stroke-width="1"/>
<line x1="188.6" y1="313.3" x2="192.4" y2="313.3" stroke="#8a8a8a" stroke-width="1"/>
<text x="185.4" y="315.9" font-size="7.8" text-anchor="end">60</text>
<line x1="188.6" y1="334.93" x2="192.4" y2="334.93" stroke="#8a8a8a" stroke-width="1"/>
<text x="185.4" y="337.53" font-size="7.8" text-anchor="end">40</text>
<line x1="188.6" y1="356.57" x2="192.4" y2="356.57" stroke="#8a8a8a" stroke-width="1"/>
<text x="185.4" y="359.17" font-size="7.8" text-anchor="end">20</text>
<line x1="188.6" y1="378.2" x2="192.4" y2="378.2" stroke="#8a8a8a" stroke-width="1"/>
<text x="185.4" y="380.8" font-size="7.8" text-anchor="end">0</text>
<line x1="191.9" y1="378.2" x2="226.5" y2="378.2" stroke="#8a8a8a" stroke-width="1"/>
<line x1="202.1" y1="378.2" x2="202.1" y2="382" stroke="#8a8a8a" stroke-width="1"/>
<line x1="216.6" y1="378.2" x2="216.6" y2="382" stroke="#8a8a8a" stroke-width="1"/>
<rect x="197.4" y="353.7" width="9.4" height="24.5" fill="#c9dbf6" stroke="#3a3ae0" stroke-width="0.9"/>
<rect x="211.8" y="342.3" width="9.6" height="35.9" fill="#fde2e2" stroke="#ff3a3a" stroke-width="0.9"/>
<line x1="202.1" y1="351.2" x2="202.1" y2="353.7" stroke="#3a3ae0" stroke-width="0.8"/>
<line x1="199.95" y1="351.2" x2="204.25" y2="351.2" stroke="#3a3ae0" stroke-width="0.8"/>
<line x1="216.6" y1="337.4" x2="216.6" y2="342.3" stroke="#ff3a3a" stroke-width="0.8"/>
<line x1="214.45" y1="337.4" x2="218.75" y2="337.4" stroke="#ff3a3a" stroke-width="0.8"/>
<circle cx="199" cy="348.6" r="1.5" fill="#1414c8"/>
<circle cx="205.3" cy="349.6" r="1.5" fill="#1414c8"/>
<circle cx="201.9" cy="352.8" r="1.5" fill="#1414c8"/>
<circle cx="198.4" cy="354.1" r="1.5" fill="#1414c8"/>
<circle cx="201.7" cy="358.7" r="1.5" fill="#1414c8"/>
<circle cx="205.9" cy="358.7" r="1.5" fill="#1414c8"/>
<circle cx="216.7" cy="326.1" r="1.5" fill="#f01010"/>
<circle cx="216.7" cy="342.3" r="1.5" fill="#f01010"/>
<circle cx="214.1" cy="344.3" r="1.5" fill="#f01010"/>
<circle cx="219.5" cy="345.3" r="1.5" fill="#f01010"/>
<circle cx="212.8" cy="347.6" r="1.5" fill="#f01010"/>
<circle cx="220.1" cy="347.6" r="1.5" fill="#f01010"/>
<g class="ns">
<text x="216.7" y="323.48" font-size="9" text-anchor="middle">*</text>
</g>
<text transform="translate(169.7 345.6) rotate(-90)" font-size="7.8" text-anchor="middle">pSTAT5 (% in cDC1)</text>
<text transform="translate(206 388.5) rotate(-45)" font-size="8" text-anchor="end">Vehicle</text>
<text transform="translate(220.6 388.8) rotate(-45)" font-size="8" text-anchor="end">SD-36</text>
<g class="pl">
<text x="235.4" y="302.8" font-size="10.5" font-weight="bold" fill="#000">s</text>
</g>
<path d="M245.36,344.56 L245.36,344.39 L245.91,344.39 L246.46,344.35 L247.01,344.31 L247.56,344.26 L248.11,344.28 L248.88,344.15 L249.64,343.95 L250.4,343.95 L251.17,343.89 L251.93,343.3 L252.7,343.92 L253.46,343.74 L254.22,343.33 L254.83,343.67 L255.45,343.56 L256.06,343.33 L256.67,343.02 L257.28,343.3 L258.04,343.16 L258.81,343.23 L259.57,342.8 L260.33,342.07 L260.95,341.81 L261.56,341.5 L262.63,339.9 L263.39,340 L264.15,337.96 L264.92,336.89 L265.68,336.29 L266.45,333.03 L267.21,332.63 L267.67,330.13 L268.28,327.52 L268.89,324.93 L269.5,322.84 L270.11,320.13 L270.72,317.63 L271.34,316.5 L271.79,314.09 L272.25,316.38 L272.56,316.34 L273.02,315.88 L273.32,314.25 L273.78,311.76 L274.39,309.48 L274.85,310.75 L275.31,312.49 L275.92,314.69 L276.38,318.25 L276.84,320.57 L277.45,322.44 L278.06,326.51 L278.67,328.75 L279.28,330.38 L279.89,333.37 L280.66,336.55 L281.42,338.75 L282.18,341.78 L282.95,342.65 L283.71,343.85 L284.48,344.41 L284.48,344.56 Z" fill="#f76a6a" stroke="#f04848" stroke-width="0.4"/>
<path d="M245.06,383.52 L245.06,354.06 L245.21,374.31 L245.51,378.73 L246.28,379.33 L246.89,376.66 L247.35,375.81 L247.81,375.02 L248.42,373.07 L249.03,376.58 L249.64,375.2 L250.25,375.45 L250.86,373.79 L251.47,375.26 L251.93,371.6 L252.39,373.85 L253,375.4 L253.61,373.57 L254.22,371.12 L254.83,374.12 L255.45,371.57 L255.75,369.96 L256.36,372.54 L256.97,373.01 L257.58,370.34 L258.04,369.31 L258.81,371.37 L259.57,370.87 L260.33,368.79 L261.1,367.45 L261.86,370.38 L262.63,368.36 L263.39,367.81 L264.15,365.38 L264.92,365.27 L265.68,363.99 L266.45,365.85 L267.21,366.67 L267.97,365.33 L268.74,364.35 L269.5,362.91 L270.27,361.19 L271.03,363.4 L271.79,363.46 L272.56,363.49 L273.32,362.6 L274.09,364.9 L274.85,366.28 L275.61,368.16 L276.38,370.81 L277.14,371.49 L277.91,373.11 L278.67,374.93 L279.43,376.05 L280.2,379.53 L280.96,382.47 L282.03,383.37 L282.03,383.52 Z" fill="#5b5bf0" stroke="#3c3ce6" stroke-width="0.4"/>
<rect x="245.5" y="306.5" width="48" height="77" fill="none" stroke="#1a1a1a" stroke-width="1"/>
<line x1="245.5" y1="345.5" x2="293.5" y2="345.5" stroke="#1a1a1a" stroke-width="1"/>
<line x1="272.9" y1="307" x2="272.9" y2="383.2" stroke="#6a6a6a" stroke-width="0.9" stroke-dasharray="1.9 1.5"/>
<text transform="translate(241.9 383.7) rotate(-90)" font-size="7.8">Count</text>
<path d="M239.4,357.4 L239.4,310.3" stroke="#000" stroke-width="0.8"/><path d="M238,310.9 L239.4,307.3 L240.8,310.9 Z" fill="#000"/>
<text x="242.4" y="393.6" font-size="7.8">MHCI-APC</text>
<path d="M282.2,391 L290.2,391" stroke="#000" stroke-width="0.8"/><path d="M289.6,389.6 L293.2,391 L289.6,392.4 Z" fill="#000"/>
<text transform="translate(303 327) rotate(-90)" font-size="7.8" text-anchor="middle">SD-36</text>
<text transform="translate(303 365) rotate(-90)" font-size="7.8" text-anchor="middle">Vehicle</text>
<line x1="337.2" y1="311.8" x2="337.2" y2="377.7" stroke="#8a8a8a" stroke-width="1"/>
<line x1="333.4" y1="312.3" x2="337.2" y2="312.3" stroke="#8a8a8a" stroke-width="1"/>
<text x="330.2" y="314.9" font-size="7.8" text-anchor="end">4</text>
<line x1="333.4" y1="328.52" x2="337.2" y2="328.52" stroke="#8a8a8a" stroke-width="1"/>
<text x="330.2" y="331.12" font-size="7.8" text-anchor="end">3</text>
<line x1="333.4" y1="344.75" x2="337.2" y2="344.75" stroke="#8a8a8a" stroke-width="1"/>
<text x="330.2" y="347.35" font-size="7.8" text-anchor="end">2</text>
<line x1="333.4" y1="360.98" x2="337.2" y2="360.98" stroke="#8a8a8a" stroke-width="1"/>
<text x="330.2" y="363.58" font-size="7.8" text-anchor="end">1</text>
<line x1="333.4" y1="377.2" x2="337.2" y2="377.2" stroke="#8a8a8a" stroke-width="1"/>
<text x="330.2" y="379.8" font-size="7.8" text-anchor="end">0</text>
<line x1="336.7" y1="377.2" x2="371.2" y2="377.2" stroke="#8a8a8a" stroke-width="1"/>
<line x1="347.2" y1="377.2" x2="347.2" y2="381" stroke="#8a8a8a" stroke-width="1"/>
<line x1="361.9" y1="377.2" x2="361.9" y2="381" stroke="#8a8a8a" stroke-width="1"/>
<rect x="342.6" y="348.8" width="9.2" height="28.4" fill="#c9dbf6" stroke="#3a3ae0" stroke-width="0.9"/>
<rect x="357" y="335.4" width="9.8" height="41.8" fill="#fde2e2" stroke="#ff3a3a" stroke-width="0.9"/>
<line x1="347.2" y1="342.3" x2="347.2" y2="355.3" stroke="#3a3ae0" stroke-width="0.8"/>
<line x1="345.1" y1="342.3" x2="349.3" y2="342.3" stroke="#3a3ae0" stroke-width="0.8"/>
<line x1="345.1" y1="355.3" x2="349.3" y2="355.3" stroke="#3a3ae0" stroke-width="0.8"/>
<line x1="361.9" y1="330.5" x2="361.9" y2="340.3" stroke="#ff3a3a" stroke-width="0.8"/>
<line x1="359.8" y1="330.5" x2="364" y2="330.5" stroke="#ff3a3a" stroke-width="0.8"/>
<line x1="359.8" y1="340.3" x2="364" y2="340.3" stroke="#ff3a3a" stroke-width="0.8"/>
<circle cx="347.1" cy="342.3" r="1.5" fill="#1414c8"/>
<circle cx="343.9" cy="348.8" r="1.5" fill="#1414c8"/>
<circle cx="350.5" cy="347.6" r="1.5" fill="#1414c8"/>
<circle cx="347.1" cy="349.8" r="1.5" fill="#1414c8"/>
<circle cx="350.5" cy="350.2" r="1.5" fill="#1414c8"/>
<circle cx="347.5" cy="354.7" r="1.5" fill="#1414c8"/>
<circle cx="358" cy="329.1" r="1.5" fill="#f01010"/>
<circle cx="361.7" cy="331.4" r="1.5" fill="#f01010"/>
<circle cx="358.4" cy="337.4" r="1.5" fill="#f01010"/>
<circle cx="361.7" cy="338" r="1.5" fill="#f01010"/>
<circle cx="364.9" cy="338.4" r="1.5" fill="#f01010"/>
<circle cx="358.4" cy="340.9" r="1.5" fill="#f01010"/>
<g class="ns">
<text x="361.9" y="326.48" font-size="9" text-anchor="middle">**</text>
</g>
<text transform="translate(320.4 344.8) rotate(-90)" font-size="7.8" text-anchor="middle">MHCI MFI (×10<tspan font-size="5.6" dy="-3.6">3</tspan><tspan dy="3.6">)</tspan></text>
<text transform="translate(350.9 387.5) rotate(-45)" font-size="8" text-anchor="end">Vehicle</text>
<text transform="translate(365.6 387.8) rotate(-45)" font-size="8" text-anchor="end">SD-36</text>
<g class="pl">
<text x="382.8" y="302.8" font-size="10.5" font-weight="bold" fill="#000">t</text>
</g>
<path d="M403.99,344.56 L403.99,344.38 L404.75,340.68 L405.51,337.97 L406.28,334.62 L407.04,331.45 L407.81,329.58 L408.57,328.54 L409.33,327.86 L410.1,325.35 L410.86,325.54 L411.63,323.89 L412.39,320.75 L413.15,317.57 L413.92,316.67 L414.68,314.32 L415.14,316.78 L415.45,317.63 L415.9,319.8 L416.21,322.8 L416.67,321.18 L417.28,323.14 L417.89,321.83 L418.5,320.35 L419.11,323.29 L419.72,323.16 L420.34,323.94 L420.79,326.05 L421.25,324.47 L421.86,323.59 L422.47,327.22 L423.09,328.74 L423.7,326.97 L424.31,327.22 L424.92,331.28 L425.38,332.81 L425.84,335.77 L426.45,337.2 L427.06,338.38 L427.67,338.45 L428.43,337.85 L429.2,337.75 L429.96,338.42 L430.72,339.89 L431.49,338 L432.25,337.41 L433.02,339.41 L433.78,340.17 L434.54,339.2 L435.31,338.38 L436.07,337.15 L436.84,335.06 L437.45,338.14 L438.06,340.46 L438.67,340.44 L439.13,340.12 L439.59,340.76 L440.2,344.41 L440.2,344.56 Z" fill="#f76a6a" stroke="#f04848" stroke-width="0.4"/>
<path d="M403.99,383.52 L403.99,383.52 L404.75,377.41 L405.51,371.44 L405.97,366.28 L406.28,361.05 L406.74,355.3 L407.2,349.72 L407.5,348.09 L407.96,350.91 L408.57,354.98 L409.03,358.72 L409.64,361.67 L410.25,362.38 L410.86,363.32 L411.63,366.05 L412.39,366.57 L413.15,368.22 L413.92,371.36 L414.53,370.78 L415.14,370.77 L415.75,372.48 L416.21,372.04 L416.97,372.92 L417.74,373.44 L418.5,374.35 L419.27,374.19 L420.03,375.03 L420.79,375.57 L421.56,375.31 L422.32,376.36 L423.09,377.63 L423.85,378.09 L424.61,377.87 L425.38,380.08 L426.14,378.56 L426.91,380.58 L427.67,380.48 L428.43,381.74 L429.2,382.48 L429.96,383.25 L430.72,382.49 L431.49,381.49 L432.25,381.07 L433.02,380.66 L433.78,381.61 L434.54,380.81 L435.31,379.28 L436.07,378.71 L436.84,380.59 L437.6,381.92 L438.36,382.43 L439.13,383.52 L439.13,383.52 Z" fill="#5b5bf0" stroke="#3c3ce6" stroke-width="0.4"/>
<rect x="393.5" y="306.5" width="48" height="77" fill="none" stroke="#1a1a1a" stroke-width="1"/>
<line x1="393.5" y1="345.5" x2="441.5" y2="345.5" stroke="#1a1a1a" stroke-width="1"/>
<line x1="414.4" y1="307" x2="414.4" y2="383.2" stroke="#111" stroke-width="0.9" stroke-dasharray="1.9 1.5"/>
<text transform="translate(391.9 383.7) rotate(-90)" font-size="7.8">Count</text>
<path d="M388.9,357.4 L388.9,310.3" stroke="#000" stroke-width="0.8"/><path d="M387.5,310.9 L388.9,307.3 L390.3,310.9 Z" fill="#000"/>
<text x="388" y="393.6" font-size="7.8">MHCII-BV421</text>
<path d="M436.7,391.4 L442.2,391.4" stroke="#000" stroke-width="0.8"/><path d="M441.6,390 L445.2,391.4 L441.6,392.8 Z" fill="#000"/>
<text transform="translate(450.4 327) rotate(-90)" font-size="7.8" text-anchor="middle">SD-36</text>
<text transform="translate(450.4 365) rotate(-90)" font-size="7.8" text-anchor="middle">Vehicle</text>
<line x1="492.5" y1="311.8" x2="492.5" y2="377.7" stroke="#8a8a8a" stroke-width="1"/>
<line x1="488.7" y1="312.3" x2="492.5" y2="312.3" stroke="#8a8a8a" stroke-width="1"/>
<text x="485.5" y="314.9" font-size="7.8" text-anchor="end">40</text>
<line x1="488.7" y1="328.52" x2="492.5" y2="328.52" stroke="#8a8a8a" stroke-width="1"/>
<text x="485.5" y="331.12" font-size="7.8" text-anchor="end">30</text>
<line x1="488.7" y1="344.75" x2="492.5" y2="344.75" stroke="#8a8a8a" stroke-width="1"/>
<text x="485.5" y="347.35" font-size="7.8" text-anchor="end">20</text>
<line x1="488.7" y1="360.98" x2="492.5" y2="360.98" stroke="#8a8a8a" stroke-width="1"/>
<text x="485.5" y="363.58" font-size="7.8" text-anchor="end">10</text>
<line x1="488.7" y1="377.2" x2="492.5" y2="377.2" stroke="#8a8a8a" stroke-width="1"/>
<text x="485.5" y="379.8" font-size="7.8" text-anchor="end">0</text>
<line x1="492" y1="377.2" x2="525.5" y2="377.2" stroke="#8a8a8a" stroke-width="1"/>
<line x1="501.15" y1="377.2" x2="501.15" y2="381" stroke="#8a8a8a" stroke-width="1"/>
<line x1="515.95" y1="377.2" x2="515.95" y2="381" stroke="#8a8a8a" stroke-width="1"/>
<rect x="496.4" y="358.1" width="9.5" height="19.1" fill="#c9dbf6" stroke="#3a3ae0" stroke-width="0.9"/>
<rect x="511.2" y="337.4" width="9.5" height="39.8" fill="#fde2e2" stroke="#ff3a3a" stroke-width="0.9"/>
<line x1="501.15" y1="357.1" x2="501.15" y2="358.1" stroke="#3a3ae0" stroke-width="0.8"/>
<line x1="499" y1="357.1" x2="503.3" y2="357.1" stroke="#3a3ae0" stroke-width="0.8"/>
<line x1="515.95" y1="332" x2="515.95" y2="337.4" stroke="#ff3a3a" stroke-width="0.8"/>
<line x1="513.8" y1="332" x2="518.1" y2="332" stroke="#ff3a3a" stroke-width="0.8"/>
<circle cx="498" cy="359.5" r="1.5" fill="#1414c8"/>
<circle cx="500.8" cy="358.1" r="1.5" fill="#1414c8"/>
<circle cx="504.3" cy="357.1" r="1.5" fill="#1414c8"/>
<circle cx="498" cy="362" r="1.5" fill="#1414c8"/>
<circle cx="503.4" cy="360.7" r="1.5" fill="#1414c8"/>
<circle cx="505.3" cy="361.4" r="1.5" fill="#1414c8"/>
<circle cx="515.8" cy="321.2" r="1.5" fill="#f01010"/>
<circle cx="515.8" cy="333" r="1.5" fill="#f01010"/>
<circle cx="515.8" cy="337.4" r="1.5" fill="#f01010"/>
<circle cx="515.2" cy="343.3" r="1.5" fill="#f01010"/>
<circle cx="515.8" cy="353.2" r="1.5" fill="#f01010"/>
<g class="ns">
<text x="515.4" y="318.57" font-size="9" text-anchor="middle">**</text>
</g>
<text transform="translate(467.8 345) rotate(-90)" font-size="7.8" text-anchor="middle">MHCII MFI (×10<tspan font-size="5.6" dy="-3.6">3</tspan><tspan dy="3.6">)</tspan></text>
<text transform="translate(505 387.5) rotate(-45)" font-size="8" text-anchor="end">Vehicle</text>
<text transform="translate(519.6 387.8) rotate(-45)" font-size="8" text-anchor="end">SD-36</text>
<g class="pl">
<text x="536.4" y="303.5" font-size="10.5" font-weight="bold" fill="#000">u</text>
</g>
<path d="M548.35,344.56 L548.35,344.4 L549.11,343.34 L549.88,342.42 L550.64,342.5 L551.4,341.33 L552.17,340.81 L552.93,339.78 L553.7,338.21 L554.46,337.84 L555.22,336.46 L555.99,335.65 L556.75,334.64 L557.51,334.24 L558.28,332.83 L559.04,331.34 L559.81,331.02 L560.57,330.95 L561.33,330.14 L562.1,330.51 L562.86,329.98 L563.63,328.4 L564.39,329.54 L565.15,327.28 L565.92,328.49 L566.68,328.13 L567.45,326.57 L568.21,326.37 L568.97,323.33 L569.43,319.82 L569.89,320.15 L570.35,321.35 L570.81,328.27 L571.27,329.35 L572.03,329.17 L572.79,326.55 L573.25,326.32 L573.86,326.92 L574.47,328.88 L575.09,329.87 L575.85,333.11 L576.61,335.01 L577.38,335.45 L578.14,336.67 L578.91,338.48 L579.67,338.72 L580.43,340 L581.2,340.42 L581.96,341.02 L582.72,341.34 L583.34,341.94 L583.95,342.69 L585.02,343.2 L586.09,343.45 L586.7,343.42 L587.31,343.06 L588.07,344.41 L588.07,344.56 Z" fill="#f76a6a" stroke="#f04848" stroke-width="0.4"/>
<path d="M549.11,383.83 L549.11,383.83 L549.88,383.45 L550.64,383.15 L551.4,382.61 L552.47,382.34 L553.08,382.08 L553.7,382.11 L554.31,380.6 L554.92,380.49 L555.99,378.45 L556.75,377.3 L557.51,376.35 L558.28,373.86 L559.04,372.68 L559.81,371.29 L560.57,368.79 L561.33,365.39 L561.79,364.29 L562.25,362.44 L562.56,359.77 L563.02,362.89 L563.47,361.76 L563.93,362.27 L564.39,360.37 L564.85,362.74 L565.31,360.73 L565.92,361.47 L566.38,362.54 L566.99,365.57 L567.45,365.85 L568.06,367.79 L568.67,369.16 L569.43,370.3 L570.2,371.94 L570.96,371.51 L571.72,372.62 L572.64,373.94 L573.56,374.28 L574.47,375.84 L575.39,376.49 L576.31,377.97 L577.38,377.72 L578.45,379.31 L579.06,380.03 L579.67,380.31 L580.43,381.4 L581.2,382.18 L581.96,383.15 L582.72,383.83 L582.72,383.83 Z" fill="#5b5bf0" stroke="#3c3ce6" stroke-width="0.4"/>
<rect x="545.5" y="306.5" width="48" height="78" fill="none" stroke="#1a1a1a" stroke-width="1"/>
<line x1="545.5" y1="345.5" x2="593.5" y2="345.5" stroke="#1a1a1a" stroke-width="1"/>
<line x1="569.4" y1="307" x2="569.4" y2="384.2" stroke="#111" stroke-width="0.9" stroke-dasharray="1.9 1.5"/>
<text transform="translate(543.1 384.7) rotate(-90)" font-size="7.8">Count</text>
<path d="M540.4,357.4 L540.4,310.3" stroke="#000" stroke-width="0.8"/><path d="M539,310.9 L540.4,307.3 L541.8,310.9 Z" fill="#000"/>
<text x="543.8" y="394.6" font-size="7.8">CD80-PE</text>
<path d="M580.7,392.5 L592.4,392.5" stroke="#000" stroke-width="0.8"/><path d="M591.8,391.1 L595.4,392.5 L591.8,393.9 Z" fill="#000"/>
<text transform="translate(602.4 326.2) rotate(-90)" font-size="7.8" text-anchor="middle">SD-36</text>
<text transform="translate(602.4 366.4) rotate(-90)" font-size="7.8" text-anchor="middle">Vehicle</text>
<line x1="640.4" y1="312.1" x2="640.4" y2="377.6" stroke="#8a8a8a" stroke-width="1"/>
<line x1="636.6" y1="312.6" x2="640.4" y2="312.6" stroke="#8a8a8a" stroke-width="1"/>
<text x="633.4" y="315.2" font-size="7.8" text-anchor="end">3</text>
<line x1="636.6" y1="334.1" x2="640.4" y2="334.1" stroke="#8a8a8a" stroke-width="1"/>
<text x="633.4" y="336.7" font-size="7.8" text-anchor="end">2</text>
<line x1="636.6" y1="355.6" x2="640.4" y2="355.6" stroke="#8a8a8a" stroke-width="1"/>
<text x="633.4" y="358.2" font-size="7.8" text-anchor="end">1</text>
<line x1="636.6" y1="377.1" x2="640.4" y2="377.1" stroke="#8a8a8a" stroke-width="1"/>
<text x="633.4" y="379.7" font-size="7.8" text-anchor="end">0</text>
<line x1="639.9" y1="377.1" x2="673.7" y2="377.1" stroke="#8a8a8a" stroke-width="1"/>
<line x1="649.95" y1="377.1" x2="649.95" y2="380.9" stroke="#8a8a8a" stroke-width="1"/>
<line x1="664.3" y1="377.1" x2="664.3" y2="380.9" stroke="#8a8a8a" stroke-width="1"/>
<rect x="645" y="348.4" width="9.9" height="28.7" fill="#c9dbf6" stroke="#3a3ae0" stroke-width="0.9"/>
<rect x="659.4" y="332.5" width="9.8" height="44.6" fill="#fde2e2" stroke="#ff3a3a" stroke-width="0.9"/>
<line x1="649.95" y1="343.6" x2="649.95" y2="353.2" stroke="#3a3ae0" stroke-width="0.8"/>
<line x1="647.85" y1="343.6" x2="652.05" y2="343.6" stroke="#3a3ae0" stroke-width="0.8"/>
<line x1="647.85" y1="353.2" x2="652.05" y2="353.2" stroke="#3a3ae0" stroke-width="0.8"/>
<line x1="664.3" y1="325" x2="664.3" y2="340" stroke="#ff3a3a" stroke-width="0.8"/>
<line x1="662.2" y1="325" x2="666.4" y2="325" stroke="#ff3a3a" stroke-width="0.8"/>
<line x1="662.2" y1="340" x2="666.4" y2="340" stroke="#ff3a3a" stroke-width="0.8"/>
<circle cx="646.5" cy="345.4" r="1.5" fill="#1414c8"/>
<circle cx="652.2" cy="345.4" r="1.5" fill="#1414c8"/>
<circle cx="646.5" cy="350" r="1.5" fill="#1414c8"/>
<circle cx="653.3" cy="350.6" r="1.5" fill="#1414c8"/>
<circle cx="649.5" cy="359" r="1.5" fill="#1414c8"/>
<circle cx="661.2" cy="325.8" r="1.5" fill="#f01010"/>
<circle cx="666.9" cy="326.7" r="1.5" fill="#f01010"/>
<circle cx="661.2" cy="330.7" r="1.5" fill="#f01010"/>
<circle cx="665.8" cy="334.1" r="1.5" fill="#f01010"/>
<circle cx="664.6" cy="344.3" r="1.5" fill="#f01010"/>
<g class="ns">
<text x="664" y="322.57" font-size="9" text-anchor="middle">**</text>
</g>
<text transform="translate(620.3 345) rotate(-90)" font-size="7.8" text-anchor="middle">CD80 MFI (×10<tspan font-size="5.6" dy="-3.6">3</tspan><tspan dy="3.6">)</tspan></text>
<text transform="translate(653.4 387.5) rotate(-45)" font-size="8" text-anchor="end">Vehicle</text>
<text transform="translate(668.2 387.8) rotate(-45)" font-size="8" text-anchor="end">SD-36</text>
<g class="pl">
<text x="0.4" y="419.7" font-size="10.5" font-weight="bold" fill="#000">v</text>
</g>
<line x1="48.2" y1="454.8" x2="48.2" y2="529.9" stroke="#8a8a8a" stroke-width="1"/>
<line x1="44.4" y1="455.3" x2="48.2" y2="455.3" stroke="#8a8a8a" stroke-width="1"/>
<text x="41.2" y="457.9" font-size="7.8" text-anchor="end">2,700</text>
<line x1="44.4" y1="480" x2="48.2" y2="480" stroke="#8a8a8a" stroke-width="1"/>
<text x="41.2" y="482.6" font-size="7.8" text-anchor="end">1,800</text>
<line x1="44.4" y1="504.7" x2="48.2" y2="504.7" stroke="#8a8a8a" stroke-width="1"/>
<text x="41.2" y="507.3" font-size="7.8" text-anchor="end">900</text>
<line x1="44.4" y1="529.4" x2="48.2" y2="529.4" stroke="#8a8a8a" stroke-width="1"/>
<text x="41.2" y="532" font-size="7.8" text-anchor="end">0</text>
<line x1="47.7" y1="529.4" x2="123.6" y2="529.4" stroke="#8a8a8a" stroke-width="1"/>
<line x1="57.8" y1="529.4" x2="57.8" y2="533.2" stroke="#8a8a8a" stroke-width="1"/>
<text x="57.8" y="542.3" font-size="7.8" text-anchor="middle">0</text>
<line x1="71.85" y1="529.4" x2="71.85" y2="533.2" stroke="#8a8a8a" stroke-width="1"/>
<text x="71.85" y="542.3" font-size="7.8" text-anchor="middle">6</text>
<line x1="85.8" y1="529.4" x2="85.8" y2="533.2" stroke="#8a8a8a" stroke-width="1"/>
<text x="85.8" y="542.3" font-size="7.8" text-anchor="middle">9</text>
<line x1="99.8" y1="529.4" x2="99.8" y2="533.2" stroke="#8a8a8a" stroke-width="1"/>
<text x="99.8" y="542.3" font-size="7.8" text-anchor="middle">12</text>
<line x1="113.8" y1="529.4" x2="113.8" y2="533.2" stroke="#8a8a8a" stroke-width="1"/>
<text x="113.8" y="542.3" font-size="7.8" text-anchor="middle">15</text>
<text x="86" y="554.5" font-size="7.8" text-anchor="middle">Time (days)</text>
<text transform="translate(16.2 492.4) rotate(-90)" font-size="8" text-anchor="middle">Tumour volume (mm<tspan font-size="5.6" dy="-4.0">3</tspan><tspan dy="4.0">)</tspan></text>
<line x1="85.8" y1="523" x2="85.8" y2="524" stroke="#1e8c1e" stroke-width="0.8"/>
<line x1="84" y1="523" x2="87.6" y2="523" stroke="#1e8c1e" stroke-width="0.8"/>
<line x1="99.8" y1="509.5" x2="99.8" y2="511.7" stroke="#1e8c1e" stroke-width="0.8"/>
<line x1="98" y1="509.5" x2="101.6" y2="509.5" stroke="#1e8c1e" stroke-width="0.8"/>
<line x1="113.8" y1="488" x2="113.8" y2="490.7" stroke="#1e8c1e" stroke-width="0.8"/>
<line x1="112" y1="488" x2="115.6" y2="488" stroke="#1e8c1e" stroke-width="0.8"/>
<polyline points="57.8,529.4 71.85,528.6 85.8,524 99.8,511.7 113.8,490.7" fill="none" stroke="#1e8c1e" stroke-width="0.8" stroke-linejoin="round"/>
<circle cx="57.8" cy="529.4" r="1.65" fill="#1e8c1e"/>
<circle cx="71.85" cy="528.6" r="1.65" fill="#1e8c1e"/>
<circle cx="85.8" cy="524" r="1.65" fill="#1e8c1e"/>
<circle cx="99.8" cy="511.7" r="1.65" fill="#1e8c1e"/>
<circle cx="113.8" cy="490.7" r="1.65" fill="#1e8c1e"/>
<line x1="85.8" y1="522" x2="85.8" y2="523" stroke="#f01010" stroke-width="0.8"/>
<line x1="84" y1="522" x2="87.6" y2="522" stroke="#f01010" stroke-width="0.8"/>
<line x1="99.8" y1="505.5" x2="99.8" y2="508.2" stroke="#f01010" stroke-width="0.8"/>
<line x1="98" y1="505.5" x2="101.6" y2="505.5" stroke="#f01010" stroke-width="0.8"/>
<line x1="113.8" y1="483" x2="113.8" y2="487.2" stroke="#f01010" stroke-width="0.8"/>
<line x1="112" y1="483" x2="115.6" y2="483" stroke="#f01010" stroke-width="0.8"/>
<polyline points="57.8,529.4 71.85,528.5 85.8,523 99.8,508.2 113.8,487.2" fill="none" stroke="#f01010" stroke-width="0.8" stroke-linejoin="round"/>
<circle cx="57.8" cy="529.4" r="1.65" fill="#f01010"/>
<circle cx="71.85" cy="528.5" r="1.65" fill="#f01010"/>
<circle cx="85.8" cy="523" r="1.65" fill="#f01010"/>
<circle cx="99.8" cy="508.2" r="1.65" fill="#f01010"/>
<circle cx="113.8" cy="487.2" r="1.65" fill="#f01010"/>
<line x1="85.8" y1="521" x2="85.8" y2="522.3" stroke="#1414c8" stroke-width="0.8"/>
<line x1="84" y1="521" x2="87.6" y2="521" stroke="#1414c8" stroke-width="0.8"/>
<line x1="99.8" y1="504.6" x2="99.8" y2="505.8" stroke="#1414c8" stroke-width="0.8"/>
<line x1="98" y1="504.6" x2="101.6" y2="504.6" stroke="#1414c8" stroke-width="0.8"/>
<line x1="113.8" y1="477.5" x2="113.8" y2="483.1" stroke="#1414c8" stroke-width="0.8"/>
<line x1="112" y1="477.5" x2="115.6" y2="477.5" stroke="#1414c8" stroke-width="0.8"/>
<polyline points="57.8,529.4 71.85,528.4 85.8,522.3 99.8,505.8 113.8,483.1" fill="none" stroke="#1414c8" stroke-width="0.8" stroke-linejoin="round"/>
<circle cx="57.8" cy="529.4" r="1.65" fill="#1414c8"/>
<circle cx="71.85" cy="528.4" r="1.65" fill="#1414c8"/>
<circle cx="85.8" cy="522.3" r="1.65" fill="#1414c8"/>
<circle cx="99.8" cy="505.8" r="1.65" fill="#1414c8"/>
<circle cx="113.8" cy="483.1" r="1.65" fill="#1414c8"/>
<line x1="85.8" y1="520" x2="85.8" y2="521.6" stroke="#000000" stroke-width="0.8"/>
<line x1="84" y1="520" x2="87.6" y2="520" stroke="#000000" stroke-width="0.8"/>
<line x1="99.8" y1="495.7" x2="99.8" y2="500.1" stroke="#000000" stroke-width="0.8"/>
<line x1="98" y1="495.7" x2="101.6" y2="495.7" stroke="#000000" stroke-width="0.8"/>
<line x1="113.8" y1="456.5" x2="113.8" y2="464.5" stroke="#000000" stroke-width="0.8"/>
<line x1="112" y1="456.5" x2="115.6" y2="456.5" stroke="#000000" stroke-width="0.8"/>
<polyline points="57.8,529.4 71.85,528.4 85.8,521.6 99.8,500.1 113.8,464.5" fill="none" stroke="#000000" stroke-width="0.8" stroke-linejoin="round"/>
<circle cx="57.8" cy="529.4" r="1.65" fill="#000000"/>
<circle cx="71.85" cy="528.4" r="1.65" fill="#000000"/>
<circle cx="85.8" cy="521.6" r="1.65" fill="#000000"/>
<circle cx="99.8" cy="500.1" r="1.65" fill="#000000"/>
<circle cx="113.8" cy="464.5" r="1.65" fill="#000000"/>
<line x1="117.1" y1="464.5" x2="117.1" y2="483.1" stroke="#222" stroke-width="0.8"/>
<g class="ns">
<text transform="translate(115.53 473.8) rotate(90)" font-size="9" text-anchor="middle">**</text>
</g>
<line x1="124" y1="464.5" x2="124" y2="485.9" stroke="#222" stroke-width="0.8"/>
<g class="ns">
<text transform="translate(122.43 475.2) rotate(90)" font-size="9" text-anchor="middle">***</text>
</g>
<line x1="45.1" y1="420.3" x2="55.6" y2="420.3" stroke="#000000" stroke-width="0.8"/>
<circle cx="50.35" cy="420.3" r="1.5" fill="#000000"/>
<text x="58.3" y="422.9" font-size="7.9"><tspan font-style="italic">Stat3</tspan><tspan font-size="5.8" dy="-3.3" letter-spacing="0.3">+/+</tspan><tspan dy="3.3"> + vehicle</tspan></text>
<line x1="45.1" y1="430.2" x2="55.6" y2="430.2" stroke="#f01010" stroke-width="0.8"/>
<circle cx="50.35" cy="430.2" r="1.5" fill="#f01010"/>
<text x="58.3" y="432.8" font-size="7.9"><tspan font-style="italic">Stat3</tspan><tspan font-size="5.8" dy="-3.3" letter-spacing="0.3">+/+</tspan><tspan dy="3.3"> + SD-36</tspan></text>
<line x1="45.1" y1="440.3" x2="55.6" y2="440.3" stroke="#1414c8" stroke-width="0.8"/>
<circle cx="50.35" cy="440.3" r="1.5" fill="#1414c8"/>
<text x="58.3" y="442.9" font-size="7.9"><tspan font-style="italic">Stat3</tspan><tspan font-size="5.8" dy="-3.3" letter-spacing="0.3">−/−</tspan><tspan dy="3.3"> + vehicle</tspan></text>
<line x1="45.1" y1="450.4" x2="55.6" y2="450.4" stroke="#1e8c1e" stroke-width="0.8"/>
<circle cx="50.35" cy="450.4" r="1.5" fill="#1e8c1e"/>
<text x="58.3" y="453" font-size="7.9"><tspan font-style="italic">Stat3</tspan><tspan font-size="5.8" dy="-3.3" letter-spacing="0.3">−/−</tspan><tspan dy="3.3"> + SD-36</tspan></text>
<g class="pl">
<text x="139.4" y="419.7" font-size="10.5" font-weight="bold" fill="#000">w</text>
</g>
<line x1="181.3" y1="455" x2="181.3" y2="529.9" stroke="#8a8a8a" stroke-width="1"/>
<line x1="177.5" y1="455.5" x2="181.3" y2="455.5" stroke="#8a8a8a" stroke-width="1"/>
<text x="174.3" y="458.1" font-size="7.8" text-anchor="end">3,000</text>
<line x1="177.5" y1="480.13" x2="181.3" y2="480.13" stroke="#8a8a8a" stroke-width="1"/>
<text x="174.3" y="482.73" font-size="7.8" text-anchor="end">2,000</text>
<line x1="177.5" y1="504.77" x2="181.3" y2="504.77" stroke="#8a8a8a" stroke-width="1"/>
<text x="174.3" y="507.37" font-size="7.8" text-anchor="end">1,000</text>
<line x1="177.5" y1="529.4" x2="181.3" y2="529.4" stroke="#8a8a8a" stroke-width="1"/>
<text x="174.3" y="532" font-size="7.8" text-anchor="end">0</text>
<line x1="180.8" y1="529.4" x2="255.1" y2="529.4" stroke="#8a8a8a" stroke-width="1"/>
<line x1="187.3" y1="529.4" x2="187.3" y2="533.2" stroke="#8a8a8a" stroke-width="1"/>
<text x="187.3" y="542.3" font-size="7.8" text-anchor="middle">0</text>
<line x1="197.5" y1="529.4" x2="197.5" y2="533.2" stroke="#8a8a8a" stroke-width="1"/>
<text x="197.5" y="542.3" font-size="7.8" text-anchor="middle">6</text>
<line x1="207.6" y1="529.4" x2="207.6" y2="533.2" stroke="#8a8a8a" stroke-width="1"/>
<text x="207.6" y="542.3" font-size="7.8" text-anchor="middle">9</text>
<line x1="217.7" y1="529.4" x2="217.7" y2="533.2" stroke="#8a8a8a" stroke-width="1"/>
<text x="217.7" y="542.3" font-size="7.8" text-anchor="middle">12</text>
<line x1="227.8" y1="529.4" x2="227.8" y2="533.2" stroke="#8a8a8a" stroke-width="1"/>
<text x="227.8" y="542.3" font-size="7.8" text-anchor="middle">15</text>
<line x1="238" y1="529.4" x2="238" y2="533.2" stroke="#8a8a8a" stroke-width="1"/>
<text x="238" y="542.3" font-size="7.8" text-anchor="middle">18</text>
<line x1="248.3" y1="529.4" x2="248.3" y2="533.2" stroke="#8a8a8a" stroke-width="1"/>
<text x="248.3" y="542.3" font-size="7.8" text-anchor="middle">21</text>
<text x="217.9" y="554.4" font-size="7.8" text-anchor="middle">Time (days)</text>
<text transform="translate(145.9 492.2) rotate(-90)" font-size="8" text-anchor="middle">Tumour volume (mm<tspan font-size="5.6" dy="-4.0">3</tspan><tspan dy="4.0">)</tspan></text>
<line x1="217.7" y1="525" x2="217.7" y2="526.2" stroke="#1e8c1e" stroke-width="0.8"/>
<line x1="215.9" y1="525" x2="219.5" y2="525" stroke="#1e8c1e" stroke-width="0.8"/>
<line x1="227.8" y1="519" x2="227.8" y2="521.1" stroke="#1e8c1e" stroke-width="0.8"/>
<line x1="226" y1="519" x2="229.6" y2="519" stroke="#1e8c1e" stroke-width="0.8"/>
<line x1="238" y1="510" x2="238" y2="513.3" stroke="#1e8c1e" stroke-width="0.8"/>
<line x1="236.2" y1="510" x2="239.8" y2="510" stroke="#1e8c1e" stroke-width="0.8"/>
<line x1="248.3" y1="497" x2="248.3" y2="501.4" stroke="#1e8c1e" stroke-width="0.8"/>
<line x1="246.5" y1="497" x2="250.1" y2="497" stroke="#1e8c1e" stroke-width="0.8"/>
<polyline points="187.3,529.4 197.5,528.6 207.6,527.5 217.7,526.2 227.8,521.1 238,513.3 248.3,501.4" fill="none" stroke="#1e8c1e" stroke-width="0.8" stroke-linejoin="round"/>
<circle cx="187.3" cy="529.4" r="1.65" fill="#1e8c1e"/>
<circle cx="197.5" cy="528.6" r="1.65" fill="#1e8c1e"/>
<circle cx="207.6" cy="527.5" r="1.65" fill="#1e8c1e"/>
<circle cx="217.7" cy="526.2" r="1.65" fill="#1e8c1e"/>
<circle cx="227.8" cy="521.1" r="1.65" fill="#1e8c1e"/>
<circle cx="238" cy="513.3" r="1.65" fill="#1e8c1e"/>
<circle cx="248.3" cy="501.4" r="1.65" fill="#1e8c1e"/>
<line x1="217.7" y1="524" x2="217.7" y2="525.1" stroke="#1414c8" stroke-width="0.8"/>
<line x1="215.9" y1="524" x2="219.5" y2="524" stroke="#1414c8" stroke-width="0.8"/>
<line x1="227.8" y1="518" x2="227.8" y2="520" stroke="#1414c8" stroke-width="0.8"/>
<line x1="226" y1="518" x2="229.6" y2="518" stroke="#1414c8" stroke-width="0.8"/>
<line x1="238" y1="506" x2="238" y2="510.6" stroke="#1414c8" stroke-width="0.8"/>
<line x1="236.2" y1="506" x2="239.8" y2="506" stroke="#1414c8" stroke-width="0.8"/>
<line x1="248.3" y1="487.5" x2="248.3" y2="496" stroke="#1414c8" stroke-width="0.8"/>
<line x1="246.5" y1="487.5" x2="250.1" y2="487.5" stroke="#1414c8" stroke-width="0.8"/>
<polyline points="187.3,529.4 197.5,528.5 207.6,527.2 217.7,525.1 227.8,520 238,510.6 248.3,496" fill="none" stroke="#1414c8" stroke-width="0.8" stroke-linejoin="round"/>
<circle cx="187.3" cy="529.4" r="1.65" fill="#1414c8"/>
<circle cx="197.5" cy="528.5" r="1.65" fill="#1414c8"/>
<circle cx="207.6" cy="527.2" r="1.65" fill="#1414c8"/>
<circle cx="217.7" cy="525.1" r="1.65" fill="#1414c8"/>
<circle cx="227.8" cy="520" r="1.65" fill="#1414c8"/>
<circle cx="238" cy="510.6" r="1.65" fill="#1414c8"/>
<circle cx="248.3" cy="496" r="1.65" fill="#1414c8"/>
<line x1="217.7" y1="525.5" x2="217.7" y2="526.8" stroke="#f01010" stroke-width="0.8"/>
<line x1="215.9" y1="525.5" x2="219.5" y2="525.5" stroke="#f01010" stroke-width="0.8"/>
<line x1="227.8" y1="516" x2="227.8" y2="519.5" stroke="#f01010" stroke-width="0.8"/>
<line x1="226" y1="516" x2="229.6" y2="516" stroke="#f01010" stroke-width="0.8"/>
<line x1="238" y1="501.4" x2="238" y2="506.9" stroke="#f01010" stroke-width="0.8"/>
<line x1="236.2" y1="501.4" x2="239.8" y2="501.4" stroke="#f01010" stroke-width="0.8"/>
<line x1="248.3" y1="482.6" x2="248.3" y2="492.3" stroke="#f01010" stroke-width="0.8"/>
<line x1="246.5" y1="482.6" x2="250.1" y2="482.6" stroke="#f01010" stroke-width="0.8"/>
<polyline points="187.3,529.4 197.5,528.5 207.6,527.9 217.7,526.8 227.8,519.5 238,506.9 248.3,492.3" fill="none" stroke="#f01010" stroke-width="0.8" stroke-linejoin="round"/>
<circle cx="187.3" cy="529.4" r="1.65" fill="#f01010"/>
<circle cx="197.5" cy="528.5" r="1.65" fill="#f01010"/>
<circle cx="207.6" cy="527.9" r="1.65" fill="#f01010"/>
<circle cx="217.7" cy="526.8" r="1.65" fill="#f01010"/>
<circle cx="227.8" cy="519.5" r="1.65" fill="#f01010"/>
<circle cx="238" cy="506.9" r="1.65" fill="#f01010"/>
<circle cx="248.3" cy="492.3" r="1.65" fill="#f01010"/>
<line x1="207.6" y1="525.5" x2="207.6" y2="526.8" stroke="#000000" stroke-width="0.8"/>
<line x1="205.8" y1="525.5" x2="209.4" y2="525.5" stroke="#000000" stroke-width="0.8"/>
<line x1="217.7" y1="521" x2="217.7" y2="522.7" stroke="#000000" stroke-width="0.8"/>
<line x1="215.9" y1="521" x2="219.5" y2="521" stroke="#000000" stroke-width="0.8"/>
<line x1="227.8" y1="508.5" x2="227.8" y2="513.8" stroke="#000000" stroke-width="0.8"/>
<line x1="226" y1="508.5" x2="229.6" y2="508.5" stroke="#000000" stroke-width="0.8"/>
<line x1="238" y1="484.3" x2="238" y2="493.3" stroke="#000000" stroke-width="0.8"/>
<line x1="236.2" y1="484.3" x2="239.8" y2="484.3" stroke="#000000" stroke-width="0.8"/>
<line x1="248.3" y1="456.8" x2="248.3" y2="470.5" stroke="#000000" stroke-width="0.8"/>
<line x1="246.5" y1="456.8" x2="250.1" y2="456.8" stroke="#000000" stroke-width="0.8"/>
<polyline points="187.3,529.4 197.5,528.4 207.6,526.8 217.7,522.7 227.8,513.8 238,493.3 248.3,470.5" fill="none" stroke="#000000" stroke-width="0.8" stroke-linejoin="round"/>
<circle cx="187.3" cy="529.4" r="1.65" fill="#000000"/>
<circle cx="197.5" cy="528.4" r="1.65" fill="#000000"/>
<circle cx="207.6" cy="526.8" r="1.65" fill="#000000"/>
<circle cx="217.7" cy="522.7" r="1.65" fill="#000000"/>
<circle cx="227.8" cy="513.8" r="1.65" fill="#000000"/>
<circle cx="238" cy="493.3" r="1.65" fill="#000000"/>
<circle cx="248.3" cy="470.5" r="1.65" fill="#000000"/>
<line x1="251.9" y1="471" x2="251.9" y2="491.2" stroke="#222" stroke-width="0.8"/>
<g class="ns">
<text transform="translate(251.22 481.5) rotate(90)" font-size="9" text-anchor="middle">**</text>
</g>
<line x1="182.1" y1="421.7" x2="192" y2="421.7" stroke="#000000" stroke-width="0.8"/>
<circle cx="187.05" cy="421.7" r="1.5" fill="#000000"/>
<text x="194" y="424.3" font-size="7.9">Vehicle</text>
<line x1="182.1" y1="430.4" x2="192" y2="430.4" stroke="#f01010" stroke-width="0.8"/>
<circle cx="187.05" cy="430.4" r="1.5" fill="#f01010"/>
<text x="194" y="433" font-size="7.9">SD-36</text>
<line x1="182.1" y1="442.8" x2="192" y2="442.8" stroke="#1414c8" stroke-width="0.8"/>
<circle cx="187.05" cy="442.8" r="1.5" fill="#1414c8"/>
<text x="194" y="445.4" font-size="7.9">Vehicle</text>
<line x1="182.1" y1="451.5" x2="192" y2="451.5" stroke="#1e8c1e" stroke-width="0.8"/>
<circle cx="187.05" cy="451.5" r="1.5" fill="#1e8c1e"/>
<text x="194" y="454.1" font-size="7.9">SD-36</text>
<line x1="223.8" y1="418.1" x2="223.8" y2="433.8" stroke="#222" stroke-width="0.8"/>
<line x1="223.8" y1="439.2" x2="223.8" y2="454.9" stroke="#222" stroke-width="0.8"/>
<text x="227.2" y="424.3" font-size="7.9"><tspan font-style="italic">Stat3</tspan><tspan font-size="5.8" dy="-3.3" letter-spacing="0.3">+/+</tspan><tspan dy="3.3"></tspan></text>
<text x="227.2" y="433" font-size="7.9">cDC1</text>
<text x="227.2" y="445.4" font-size="7.9"><tspan font-style="italic">Stat3</tspan><tspan font-size="5.8" dy="-3.3" letter-spacing="0.3">−/−</tspan><tspan dy="3.3"></tspan></text>
<text x="227.2" y="454.1" font-size="7.9">cDC1</text>
<g class="pl">
<text x="273.2" y="419.7" font-size="10.5" font-weight="bold" fill="#000">x</text>
</g>
<line x1="314" y1="455.1" x2="314" y2="530.1" stroke="#8a8a8a" stroke-width="1"/>
<line x1="310.2" y1="455.6" x2="314" y2="455.6" stroke="#8a8a8a" stroke-width="1"/>
<text x="307" y="458.2" font-size="7.8" text-anchor="end">2,200</text>
<line x1="310.2" y1="474.1" x2="314" y2="474.1" stroke="#8a8a8a" stroke-width="1"/>
<text x="307" y="476.7" font-size="7.8" text-anchor="end">1,650</text>
<line x1="310.2" y1="492.6" x2="314" y2="492.6" stroke="#8a8a8a" stroke-width="1"/>
<text x="307" y="495.2" font-size="7.8" text-anchor="end">1,100</text>
<line x1="310.2" y1="511.1" x2="314" y2="511.1" stroke="#8a8a8a" stroke-width="1"/>
<text x="307" y="513.7" font-size="7.8" text-anchor="end">550</text>
<line x1="310.2" y1="529.6" x2="314" y2="529.6" stroke="#8a8a8a" stroke-width="1"/>
<text x="307" y="532.2" font-size="7.8" text-anchor="end">0</text>
<line x1="313.5" y1="529.6" x2="412" y2="529.6" stroke="#8a8a8a" stroke-width="1"/>
<line x1="319.4" y1="529.6" x2="319.4" y2="533.8" stroke="#8a8a8a" stroke-width="1"/>
<text transform="translate(323.6 539.2) rotate(-45)" font-size="7.8" text-anchor="end">0</text>
<line x1="328.98" y1="529.6" x2="328.98" y2="533.8" stroke="#8a8a8a" stroke-width="1"/>
<text transform="translate(333.18 539.2) rotate(-45)" font-size="7.8" text-anchor="end">6</text>
<line x1="338.56" y1="529.6" x2="338.56" y2="533.8" stroke="#8a8a8a" stroke-width="1"/>
<text transform="translate(342.76 539.2) rotate(-45)" font-size="7.8" text-anchor="end">9</text>
<line x1="348.14" y1="529.6" x2="348.14" y2="533.8" stroke="#8a8a8a" stroke-width="1"/>
<text transform="translate(352.34 539.2) rotate(-45)" font-size="7.8" text-anchor="end">12</text>
<line x1="357.72" y1="529.6" x2="357.72" y2="533.8" stroke="#8a8a8a" stroke-width="1"/>
<text transform="translate(361.92 539.2) rotate(-45)" font-size="7.8" text-anchor="end">15</text>
<line x1="367.3" y1="529.6" x2="367.3" y2="533.8" stroke="#8a8a8a" stroke-width="1"/>
<text transform="translate(371.5 539.2) rotate(-45)" font-size="7.8" text-anchor="end">18</text>
<line x1="376.88" y1="529.6" x2="376.88" y2="533.8" stroke="#8a8a8a" stroke-width="1"/>
<text transform="translate(381.08 539.2) rotate(-45)" font-size="7.8" text-anchor="end">21</text>
<line x1="386.46" y1="529.6" x2="386.46" y2="533.8" stroke="#8a8a8a" stroke-width="1"/>
<text transform="translate(390.66 539.2) rotate(-45)" font-size="7.8" text-anchor="end">24</text>
<line x1="396.04" y1="529.6" x2="396.04" y2="533.8" stroke="#8a8a8a" stroke-width="1"/>
<text transform="translate(400.24 539.2) rotate(-45)" font-size="7.8" text-anchor="end">27</text>
<line x1="405.62" y1="529.6" x2="405.62" y2="533.8" stroke="#8a8a8a" stroke-width="1"/>
<text transform="translate(409.82 539.2) rotate(-45)" font-size="7.8" text-anchor="end">30</text>
<text x="362.2" y="555" font-size="7.8" text-anchor="middle">Time (days)</text>
<text transform="translate(277.7 493) rotate(-90)" font-size="8" text-anchor="middle">Tumour volume (mm<tspan font-size="5.6" dy="-4.0">3</tspan><tspan dy="4.0">)</tspan></text>
<line x1="357.72" y1="522" x2="357.72" y2="523.5" stroke="#f01010" stroke-width="0.8"/>
<line x1="355.92" y1="522" x2="359.52" y2="522" stroke="#f01010" stroke-width="0.8"/>
<line x1="367.3" y1="518.5" x2="367.3" y2="520.6" stroke="#f01010" stroke-width="0.8"/>
<line x1="365.5" y1="518.5" x2="369.1" y2="518.5" stroke="#f01010" stroke-width="0.8"/>
<line x1="376.88" y1="513" x2="376.88" y2="515.9" stroke="#f01010" stroke-width="0.8"/>
<line x1="375.08" y1="513" x2="378.68" y2="513" stroke="#f01010" stroke-width="0.8"/>
<line x1="386.46" y1="507.5" x2="386.46" y2="511.1" stroke="#f01010" stroke-width="0.8"/>
<line x1="384.66" y1="507.5" x2="388.26" y2="507.5" stroke="#f01010" stroke-width="0.8"/>
<line x1="396.04" y1="501.7" x2="396.04" y2="505.4" stroke="#f01010" stroke-width="0.8"/>
<line x1="394.24" y1="501.7" x2="397.84" y2="501.7" stroke="#f01010" stroke-width="0.8"/>
<line x1="405.62" y1="496.4" x2="405.62" y2="500.4" stroke="#f01010" stroke-width="0.8"/>
<line x1="403.82" y1="496.4" x2="407.42" y2="496.4" stroke="#f01010" stroke-width="0.8"/>
<polyline points="319.4,529.6 328.98,527.5 338.56,526.6 348.14,524.6 357.72,523.5 367.3,520.6 376.88,515.9 386.46,511.1 396.04,505.4 405.62,500.4" fill="none" stroke="#f01010" stroke-width="0.8" stroke-linejoin="round"/>
<circle cx="319.4" cy="529.6" r="1.65" fill="#f01010"/>
<circle cx="328.98" cy="527.5" r="1.65" fill="#f01010"/>
<circle cx="338.56" cy="526.6" r="1.65" fill="#f01010"/>
<circle cx="348.14" cy="524.6" r="1.65" fill="#f01010"/>
<circle cx="357.72" cy="523.5" r="1.65" fill="#f01010"/>
<circle cx="367.3" cy="520.6" r="1.65" fill="#f01010"/>
<circle cx="376.88" cy="515.9" r="1.65" fill="#f01010"/>
<circle cx="386.46" cy="511.1" r="1.65" fill="#f01010"/>
<circle cx="396.04" cy="505.4" r="1.65" fill="#f01010"/>
<circle cx="405.62" cy="500.4" r="1.65" fill="#f01010"/>
<line x1="357.72" y1="517" x2="357.72" y2="518.5" stroke="#1e8c1e" stroke-width="0.8"/>
<line x1="355.92" y1="517" x2="359.52" y2="517" stroke="#1e8c1e" stroke-width="0.8"/>
<line x1="367.3" y1="510.5" x2="367.3" y2="512.4" stroke="#1e8c1e" stroke-width="0.8"/>
<line x1="365.5" y1="510.5" x2="369.1" y2="510.5" stroke="#1e8c1e" stroke-width="0.8"/>
<line x1="376.88" y1="503.5" x2="376.88" y2="506.5" stroke="#1e8c1e" stroke-width="0.8"/>
<line x1="375.08" y1="503.5" x2="378.68" y2="503.5" stroke="#1e8c1e" stroke-width="0.8"/>
<line x1="386.46" y1="491" x2="386.46" y2="495.6" stroke="#1e8c1e" stroke-width="0.8"/>
<line x1="384.66" y1="491" x2="388.26" y2="491" stroke="#1e8c1e" stroke-width="0.8"/>
<line x1="396.04" y1="481" x2="396.04" y2="486.8" stroke="#1e8c1e" stroke-width="0.8"/>
<line x1="394.24" y1="481" x2="397.84" y2="481" stroke="#1e8c1e" stroke-width="0.8"/>
<line x1="405.62" y1="466" x2="405.62" y2="472.3" stroke="#1e8c1e" stroke-width="0.8"/>
<line x1="403.82" y1="466" x2="407.42" y2="466" stroke="#1e8c1e" stroke-width="0.8"/>
<polyline points="319.4,529.6 328.98,527.5 338.56,525 348.14,522.6 357.72,518.5 367.3,512.4 376.88,506.5 386.46,495.6 396.04,486.8 405.62,472.3" fill="none" stroke="#1e8c1e" stroke-width="0.8" stroke-linejoin="round"/>
<circle cx="319.4" cy="529.6" r="1.65" fill="#1e8c1e"/>
<circle cx="328.98" cy="527.5" r="1.65" fill="#1e8c1e"/>
<circle cx="338.56" cy="525" r="1.65" fill="#1e8c1e"/>
<circle cx="348.14" cy="522.6" r="1.65" fill="#1e8c1e"/>
<circle cx="357.72" cy="518.5" r="1.65" fill="#1e8c1e"/>
<circle cx="367.3" cy="512.4" r="1.65" fill="#1e8c1e"/>
<circle cx="376.88" cy="506.5" r="1.65" fill="#1e8c1e"/>
<circle cx="386.46" cy="495.6" r="1.65" fill="#1e8c1e"/>
<circle cx="396.04" cy="486.8" r="1.65" fill="#1e8c1e"/>
<circle cx="405.62" cy="472.3" r="1.65" fill="#1e8c1e"/>
<line x1="357.72" y1="517" x2="357.72" y2="518.3" stroke="#1414c8" stroke-width="0.8"/>
<line x1="355.92" y1="517" x2="359.52" y2="517" stroke="#1414c8" stroke-width="0.8"/>
<line x1="367.3" y1="510.5" x2="367.3" y2="512.2" stroke="#1414c8" stroke-width="0.8"/>
<line x1="365.5" y1="510.5" x2="369.1" y2="510.5" stroke="#1414c8" stroke-width="0.8"/>
<line x1="376.88" y1="502" x2="376.88" y2="504.9" stroke="#1414c8" stroke-width="0.8"/>
<line x1="375.08" y1="502" x2="378.68" y2="502" stroke="#1414c8" stroke-width="0.8"/>
<line x1="386.46" y1="488.8" x2="386.46" y2="492.8" stroke="#1414c8" stroke-width="0.8"/>
<line x1="384.66" y1="488.8" x2="388.26" y2="488.8" stroke="#1414c8" stroke-width="0.8"/>
<line x1="396.04" y1="478.3" x2="396.04" y2="482" stroke="#1414c8" stroke-width="0.8"/>
<line x1="394.24" y1="478.3" x2="397.84" y2="478.3" stroke="#1414c8" stroke-width="0.8"/>
<line x1="405.62" y1="458.4" x2="405.62" y2="464.9" stroke="#1414c8" stroke-width="0.8"/>
<line x1="403.82" y1="458.4" x2="407.42" y2="458.4" stroke="#1414c8" stroke-width="0.8"/>
<polyline points="319.4,529.6 328.98,527.5 338.56,524.8 348.14,522.4 357.72,518.3 367.3,512.2 376.88,504.9 386.46,492.8 396.04,482 405.62,464.9" fill="none" stroke="#1414c8" stroke-width="0.8" stroke-linejoin="round"/>
<circle cx="319.4" cy="529.6" r="1.65" fill="#1414c8"/>
<circle cx="328.98" cy="527.5" r="1.65" fill="#1414c8"/>
<circle cx="338.56" cy="524.8" r="1.65" fill="#1414c8"/>
<circle cx="348.14" cy="522.4" r="1.65" fill="#1414c8"/>
<circle cx="357.72" cy="518.3" r="1.65" fill="#1414c8"/>
<circle cx="367.3" cy="512.2" r="1.65" fill="#1414c8"/>
<circle cx="376.88" cy="504.9" r="1.65" fill="#1414c8"/>
<circle cx="386.46" cy="492.8" r="1.65" fill="#1414c8"/>
<circle cx="396.04" cy="482" r="1.65" fill="#1414c8"/>
<circle cx="405.62" cy="464.9" r="1.65" fill="#1414c8"/>
<line x1="357.72" y1="521" x2="357.72" y2="522.7" stroke="#000000" stroke-width="0.8"/>
<line x1="355.92" y1="521" x2="359.52" y2="521" stroke="#000000" stroke-width="0.8"/>
<line x1="367.3" y1="515.5" x2="367.3" y2="517.9" stroke="#000000" stroke-width="0.8"/>
<line x1="365.5" y1="515.5" x2="369.1" y2="515.5" stroke="#000000" stroke-width="0.8"/>
<line x1="376.88" y1="510.5" x2="376.88" y2="513.5" stroke="#000000" stroke-width="0.8"/>
<line x1="375.08" y1="510.5" x2="378.68" y2="510.5" stroke="#000000" stroke-width="0.8"/>
<line x1="386.46" y1="502.5" x2="386.46" y2="504.6" stroke="#000000" stroke-width="0.8"/>
<line x1="384.66" y1="502.5" x2="388.26" y2="502.5" stroke="#000000" stroke-width="0.8"/>
<line x1="396.04" y1="492.3" x2="396.04" y2="496.4" stroke="#000000" stroke-width="0.8"/>
<line x1="394.24" y1="492.3" x2="397.84" y2="492.3" stroke="#000000" stroke-width="0.8"/>
<line x1="405.62" y1="481" x2="405.62" y2="486.3" stroke="#000000" stroke-width="0.8"/>
<line x1="403.82" y1="481" x2="407.42" y2="481" stroke="#000000" stroke-width="0.8"/>
<polyline points="319.4,529.6 328.98,527.5 338.56,526.4 348.14,525.1 357.72,522.7 367.3,517.9 376.88,513.5 386.46,504.6 396.04,496.4 405.62,486.3" fill="none" stroke="#000000" stroke-width="0.8" stroke-linejoin="round"/>
<circle cx="319.4" cy="529.6" r="1.65" fill="#000000"/>
<circle cx="328.98" cy="527.5" r="1.65" fill="#000000"/>
<circle cx="338.56" cy="526.4" r="1.65" fill="#000000"/>
<circle cx="348.14" cy="525.1" r="1.65" fill="#000000"/>
<circle cx="357.72" cy="522.7" r="1.65" fill="#000000"/>
<circle cx="367.3" cy="517.9" r="1.65" fill="#000000"/>
<circle cx="376.88" cy="513.5" r="1.65" fill="#000000"/>
<circle cx="386.46" cy="504.6" r="1.65" fill="#000000"/>
<circle cx="396.04" cy="496.4" r="1.65" fill="#000000"/>
<circle cx="405.62" cy="486.3" r="1.65" fill="#000000"/>
<line x1="410.6" y1="471" x2="410.6" y2="500.4" stroke="#222" stroke-width="0.8"/>
<g class="ns">
<text transform="translate(410.22 486.3) rotate(90)" font-size="9" text-anchor="middle">****</text>
</g>
<line x1="317.1" y1="422" x2="327" y2="422" stroke="#000000" stroke-width="0.8"/>
<circle cx="322.05" cy="422" r="1.5" fill="#000000"/>
<text x="329.3" y="424.6" font-size="7.9">Vehicle</text>
<line x1="317.1" y1="430.4" x2="327" y2="430.4" stroke="#f01010" stroke-width="0.8"/>
<circle cx="322.05" cy="430.4" r="1.5" fill="#f01010"/>
<text x="329.3" y="433" font-size="7.9">SD-36</text>
<line x1="317.1" y1="442.8" x2="327" y2="442.8" stroke="#1414c8" stroke-width="0.8"/>
<circle cx="322.05" cy="442.8" r="1.5" fill="#1414c8"/>
<text x="329.3" y="445.4" font-size="7.9">Vehicle</text>
<line x1="317.1" y1="451.3" x2="327" y2="451.3" stroke="#1e8c1e" stroke-width="0.8"/>
<circle cx="322.05" cy="451.3" r="1.5" fill="#1e8c1e"/>
<text x="329.3" y="453.9" font-size="7.9">SD-36</text>
<line x1="358.9" y1="418.4" x2="358.9" y2="433.8" stroke="#222" stroke-width="0.8"/>
<line x1="358.9" y1="439.2" x2="358.9" y2="454.7" stroke="#222" stroke-width="0.8"/>
<text x="362.6" y="424.6" font-size="7.9"><tspan font-style="italic">Stat5</tspan><tspan font-size="5.8" dy="-3.3" letter-spacing="0.3">+/+</tspan><tspan dy="3.3"></tspan></text>
<text x="362.6" y="433" font-size="7.9">cDC1</text>
<text x="362.6" y="445.4" font-size="7.9"><tspan font-style="italic">Stat5</tspan><tspan font-size="5.8" dy="-3.3" letter-spacing="0.3">−/−</tspan><tspan dy="3.3"></tspan></text>
<text x="362.6" y="453.9" font-size="7.9">cDC1</text>
<g class="pl">
<text x="429.4" y="419.7" font-size="10.5" font-weight="bold" fill="#000">y</text>
</g>
<line x1="468.2" y1="455.1" x2="468.2" y2="530.3" stroke="#8a8a8a" stroke-width="1"/>
<line x1="464.4" y1="455.6" x2="468.2" y2="455.6" stroke="#8a8a8a" stroke-width="1"/>
<text x="461.2" y="458.2" font-size="7.8" text-anchor="end">1,200</text>
<line x1="464.4" y1="480.33" x2="468.2" y2="480.33" stroke="#8a8a8a" stroke-width="1"/>
<text x="461.2" y="482.93" font-size="7.8" text-anchor="end">800</text>
<line x1="464.4" y1="505.07" x2="468.2" y2="505.07" stroke="#8a8a8a" stroke-width="1"/>
<text x="461.2" y="507.67" font-size="7.8" text-anchor="end">400</text>
<line x1="464.4" y1="529.8" x2="468.2" y2="529.8" stroke="#8a8a8a" stroke-width="1"/>
<text x="461.2" y="532.4" font-size="7.8" text-anchor="end">0</text>
<line x1="467.7" y1="529.8" x2="542.6" y2="529.8" stroke="#8a8a8a" stroke-width="1"/>
<line x1="474.8" y1="529.8" x2="474.8" y2="533.6" stroke="#8a8a8a" stroke-width="1"/>
<text x="474.8" y="542.7" font-size="7.8" text-anchor="middle">0</text>
<line x1="485.2" y1="529.8" x2="485.2" y2="533.6" stroke="#8a8a8a" stroke-width="1"/>
<text x="485.2" y="542.7" font-size="7.8" text-anchor="middle">6</text>
<line x1="495.3" y1="529.8" x2="495.3" y2="533.6" stroke="#8a8a8a" stroke-width="1"/>
<text x="495.3" y="542.7" font-size="7.8" text-anchor="middle">9</text>
<line x1="505.4" y1="529.8" x2="505.4" y2="533.6" stroke="#8a8a8a" stroke-width="1"/>
<text x="505.4" y="542.7" font-size="7.8" text-anchor="middle">12</text>
<line x1="515.4" y1="529.8" x2="515.4" y2="533.6" stroke="#8a8a8a" stroke-width="1"/>
<text x="515.4" y="542.7" font-size="7.8" text-anchor="middle">15</text>
<line x1="525.6" y1="529.8" x2="525.6" y2="533.6" stroke="#8a8a8a" stroke-width="1"/>
<text x="525.6" y="542.7" font-size="7.8" text-anchor="middle">18</text>
<line x1="535.6" y1="529.8" x2="535.6" y2="533.6" stroke="#8a8a8a" stroke-width="1"/>
<text x="535.6" y="542.7" font-size="7.8" text-anchor="middle">21</text>
<text x="505.3" y="555.2" font-size="7.8" text-anchor="middle">Time (days)</text>
<text transform="translate(435.1 492.2) rotate(-90)" font-size="8" text-anchor="middle">Tumour volume (mm<tspan font-size="5.6" dy="-4.0">3</tspan><tspan dy="4.0">)</tspan></text>
<line x1="485.2" y1="517.5" x2="485.2" y2="519" stroke="#1414c8" stroke-width="0.8"/>
<line x1="483.4" y1="517.5" x2="487" y2="517.5" stroke="#1414c8" stroke-width="0.8"/>
<line x1="495.3" y1="515" x2="495.3" y2="516.5" stroke="#1414c8" stroke-width="0.8"/>
<line x1="493.5" y1="515" x2="497.1" y2="515" stroke="#1414c8" stroke-width="0.8"/>
<line x1="505.4" y1="512" x2="505.4" y2="513.7" stroke="#1414c8" stroke-width="0.8"/>
<line x1="503.6" y1="512" x2="507.2" y2="512" stroke="#1414c8" stroke-width="0.8"/>
<line x1="515.4" y1="514.5" x2="515.4" y2="516.5" stroke="#1414c8" stroke-width="0.8"/>
<line x1="513.6" y1="514.5" x2="517.2" y2="514.5" stroke="#1414c8" stroke-width="0.8"/>
<line x1="525.6" y1="518" x2="525.6" y2="519.9" stroke="#1414c8" stroke-width="0.8"/>
<line x1="523.8" y1="518" x2="527.4" y2="518" stroke="#1414c8" stroke-width="0.8"/>
<line x1="535.6" y1="520.5" x2="535.6" y2="522.1" stroke="#1414c8" stroke-width="0.8"/>
<line x1="533.8" y1="520.5" x2="537.4" y2="520.5" stroke="#1414c8" stroke-width="0.8"/>
<polyline points="474.8,529.8 485.2,519 495.3,516.5 505.4,513.7 515.4,516.5 525.6,519.9 535.6,522.1" fill="none" stroke="#1414c8" stroke-width="0.8" stroke-linejoin="round"/>
<circle cx="474.8" cy="529.8" r="1.65" fill="#1414c8"/>
<circle cx="485.2" cy="519" r="1.65" fill="#1414c8"/>
<circle cx="495.3" cy="516.5" r="1.65" fill="#1414c8"/>
<circle cx="505.4" cy="513.7" r="1.65" fill="#1414c8"/>
<circle cx="515.4" cy="516.5" r="1.65" fill="#1414c8"/>
<circle cx="525.6" cy="519.9" r="1.65" fill="#1414c8"/>
<circle cx="535.6" cy="522.1" r="1.65" fill="#1414c8"/>
<line x1="485.2" y1="517.5" x2="485.2" y2="519" stroke="#f01010" stroke-width="0.8"/>
<line x1="483.4" y1="517.5" x2="487" y2="517.5" stroke="#f01010" stroke-width="0.8"/>
<line x1="495.3" y1="513.5" x2="495.3" y2="515.7" stroke="#f01010" stroke-width="0.8"/>
<line x1="493.5" y1="513.5" x2="497.1" y2="513.5" stroke="#f01010" stroke-width="0.8"/>
<line x1="505.4" y1="510" x2="505.4" y2="512" stroke="#f01010" stroke-width="0.8"/>
<line x1="503.6" y1="510" x2="507.2" y2="510" stroke="#f01010" stroke-width="0.8"/>
<line x1="515.4" y1="507.5" x2="515.4" y2="510" stroke="#f01010" stroke-width="0.8"/>
<line x1="513.6" y1="507.5" x2="517.2" y2="507.5" stroke="#f01010" stroke-width="0.8"/>
<line x1="525.6" y1="503.5" x2="525.6" y2="506.3" stroke="#f01010" stroke-width="0.8"/>
<line x1="523.8" y1="503.5" x2="527.4" y2="503.5" stroke="#f01010" stroke-width="0.8"/>
<line x1="535.6" y1="500" x2="535.6" y2="503.2" stroke="#f01010" stroke-width="0.8"/>
<line x1="533.8" y1="500" x2="537.4" y2="500" stroke="#f01010" stroke-width="0.8"/>
<polyline points="474.8,529.8 485.2,519 495.3,515.7 505.4,512 515.4,510 525.6,506.3 535.6,503.2" fill="none" stroke="#f01010" stroke-width="0.8" stroke-linejoin="round"/>
<circle cx="474.8" cy="529.8" r="1.65" fill="#f01010"/>
<circle cx="485.2" cy="519" r="1.65" fill="#f01010"/>
<circle cx="495.3" cy="515.7" r="1.65" fill="#f01010"/>
<circle cx="505.4" cy="512" r="1.65" fill="#f01010"/>
<circle cx="515.4" cy="510" r="1.65" fill="#f01010"/>
<circle cx="525.6" cy="506.3" r="1.65" fill="#f01010"/>
<circle cx="535.6" cy="503.2" r="1.65" fill="#f01010"/>
<line x1="485.2" y1="517.5" x2="485.2" y2="519" stroke="#1e8c1e" stroke-width="0.8"/>
<line x1="483.4" y1="517.5" x2="487" y2="517.5" stroke="#1e8c1e" stroke-width="0.8"/>
<line x1="495.3" y1="513" x2="495.3" y2="515.7" stroke="#1e8c1e" stroke-width="0.8"/>
<line x1="493.5" y1="513" x2="497.1" y2="513" stroke="#1e8c1e" stroke-width="0.8"/>
<line x1="505.4" y1="504.5" x2="505.4" y2="508" stroke="#1e8c1e" stroke-width="0.8"/>
<line x1="503.6" y1="504.5" x2="507.2" y2="504.5" stroke="#1e8c1e" stroke-width="0.8"/>
<line x1="515.4" y1="501.5" x2="515.4" y2="505.8" stroke="#1e8c1e" stroke-width="0.8"/>
<line x1="513.6" y1="501.5" x2="517.2" y2="501.5" stroke="#1e8c1e" stroke-width="0.8"/>
<line x1="525.6" y1="497.3" x2="525.6" y2="502.1" stroke="#1e8c1e" stroke-width="0.8"/>
<line x1="523.8" y1="497.3" x2="527.4" y2="497.3" stroke="#1e8c1e" stroke-width="0.8"/>
<line x1="535.6" y1="492.5" x2="535.6" y2="497.9" stroke="#1e8c1e" stroke-width="0.8"/>
<line x1="533.8" y1="492.5" x2="537.4" y2="492.5" stroke="#1e8c1e" stroke-width="0.8"/>
<polyline points="474.8,529.8 485.2,519 495.3,515.7 505.4,508 515.4,505.8 525.6,502.1 535.6,497.9" fill="none" stroke="#1e8c1e" stroke-width="0.8" stroke-linejoin="round"/>
<circle cx="474.8" cy="529.8" r="1.65" fill="#1e8c1e"/>
<circle cx="485.2" cy="519" r="1.65" fill="#1e8c1e"/>
<circle cx="495.3" cy="515.7" r="1.65" fill="#1e8c1e"/>
<circle cx="505.4" cy="508" r="1.65" fill="#1e8c1e"/>
<circle cx="515.4" cy="505.8" r="1.65" fill="#1e8c1e"/>
<circle cx="525.6" cy="502.1" r="1.65" fill="#1e8c1e"/>
<circle cx="535.6" cy="497.9" r="1.65" fill="#1e8c1e"/>
<line x1="485.2" y1="517.5" x2="485.2" y2="519" stroke="#000000" stroke-width="0.8"/>
<line x1="483.4" y1="517.5" x2="487" y2="517.5" stroke="#000000" stroke-width="0.8"/>
<line x1="495.3" y1="510.9" x2="495.3" y2="514.2" stroke="#000000" stroke-width="0.8"/>
<line x1="493.5" y1="510.9" x2="497.1" y2="510.9" stroke="#000000" stroke-width="0.8"/>
<line x1="505.4" y1="500.7" x2="505.4" y2="503.5" stroke="#000000" stroke-width="0.8"/>
<line x1="503.6" y1="500.7" x2="507.2" y2="500.7" stroke="#000000" stroke-width="0.8"/>
<line x1="515.4" y1="492.5" x2="515.4" y2="497.9" stroke="#000000" stroke-width="0.8"/>
<line x1="513.6" y1="492.5" x2="517.2" y2="492.5" stroke="#000000" stroke-width="0.8"/>
<line x1="525.6" y1="481.8" x2="525.6" y2="489.1" stroke="#000000" stroke-width="0.8"/>
<line x1="523.8" y1="481.8" x2="527.4" y2="481.8" stroke="#000000" stroke-width="0.8"/>
<line x1="535.6" y1="467.1" x2="535.6" y2="477" stroke="#000000" stroke-width="0.8"/>
<line x1="533.8" y1="467.1" x2="537.4" y2="467.1" stroke="#000000" stroke-width="0.8"/>
<polyline points="474.8,529.8 485.2,519 495.3,514.2 505.4,503.5 515.4,497.9 525.6,489.1 535.6,477" fill="none" stroke="#000000" stroke-width="0.8" stroke-linejoin="round"/>
<circle cx="474.8" cy="529.8" r="1.65" fill="#000000"/>
<circle cx="485.2" cy="519" r="1.65" fill="#000000"/>
<circle cx="495.3" cy="514.2" r="1.65" fill="#000000"/>
<circle cx="505.4" cy="503.5" r="1.65" fill="#000000"/>
<circle cx="515.4" cy="497.9" r="1.65" fill="#000000"/>
<circle cx="525.6" cy="489.1" r="1.65" fill="#000000"/>
<circle cx="535.6" cy="477" r="1.65" fill="#000000"/>
<line x1="538.3" y1="503.5" x2="538.3" y2="522.7" stroke="#222" stroke-width="0.8"/>
<g class="ns">
<text transform="translate(537.83 512.8) rotate(90)" font-size="9" text-anchor="middle">***</text>
</g>
<line x1="458.5" y1="420.6" x2="469.2" y2="420.6" stroke="#000000" stroke-width="0.8"/>
<circle cx="463.85" cy="420.6" r="1.5" fill="#000000"/>
<text x="473.5" y="423.2" font-size="7.9">IgG + vehicle</text>
<line x1="458.5" y1="430.2" x2="469.2" y2="430.2" stroke="#1e8c1e" stroke-width="0.8"/>
<circle cx="463.85" cy="430.2" r="1.5" fill="#1e8c1e"/>
<text x="473.5" y="432.8" font-size="7.9">Anti-PD-L1 + vehicle</text>
<line x1="458.5" y1="439.5" x2="469.2" y2="439.5" stroke="#f01010" stroke-width="0.8"/>
<circle cx="463.85" cy="439.5" r="1.5" fill="#f01010"/>
<text x="473.5" y="442.1" font-size="7.9">IgG + SD-36</text>
<line x1="458.5" y1="448.8" x2="469.2" y2="448.8" stroke="#1414c8" stroke-width="0.8"/>
<circle cx="463.85" cy="448.8" r="1.5" fill="#1414c8"/>
<text x="473.5" y="451.4" font-size="7.9">Anti-PD-L1 + SD-36</text>
<g class="pl">
<text x="560.8" y="419.7" font-size="10.5" font-weight="bold" fill="#000">z</text>
</g>
<line x1="601.6" y1="454.8" x2="601.6" y2="529.9" stroke="#8a8a8a" stroke-width="1"/>
<line x1="597.8" y1="455.3" x2="601.6" y2="455.3" stroke="#8a8a8a" stroke-width="1"/>
<text x="594.6" y="457.9" font-size="7.8" text-anchor="end">2,500</text>
<line x1="597.8" y1="470.12" x2="601.6" y2="470.12" stroke="#8a8a8a" stroke-width="1"/>
<text x="594.6" y="472.72" font-size="7.8" text-anchor="end">2,000</text>
<line x1="597.8" y1="484.94" x2="601.6" y2="484.94" stroke="#8a8a8a" stroke-width="1"/>
<text x="594.6" y="487.54" font-size="7.8" text-anchor="end">1,500</text>
<line x1="597.8" y1="499.76" x2="601.6" y2="499.76" stroke="#8a8a8a" stroke-width="1"/>
<text x="594.6" y="502.36" font-size="7.8" text-anchor="end">1,000</text>
<line x1="597.8" y1="514.58" x2="601.6" y2="514.58" stroke="#8a8a8a" stroke-width="1"/>
<text x="594.6" y="517.18" font-size="7.8" text-anchor="end">500</text>
<line x1="597.8" y1="529.4" x2="601.6" y2="529.4" stroke="#8a8a8a" stroke-width="1"/>
<text x="594.6" y="532" font-size="7.8" text-anchor="end">0</text>
<line x1="601.1" y1="529.4" x2="674" y2="529.4" stroke="#8a8a8a" stroke-width="1"/>
<line x1="609.2" y1="529.4" x2="609.2" y2="533.2" stroke="#8a8a8a" stroke-width="1"/>
<text x="609.2" y="542.3" font-size="7.8" text-anchor="middle">0</text>
<line x1="621" y1="529.4" x2="621" y2="533.2" stroke="#8a8a8a" stroke-width="1"/>
<text x="621" y="542.3" font-size="7.8" text-anchor="middle">6</text>
<line x1="632.6" y1="529.4" x2="632.6" y2="533.2" stroke="#8a8a8a" stroke-width="1"/>
<text x="632.6" y="542.3" font-size="7.8" text-anchor="middle">9</text>
<line x1="644.4" y1="529.4" x2="644.4" y2="533.2" stroke="#8a8a8a" stroke-width="1"/>
<text x="644.4" y="542.3" font-size="7.8" text-anchor="middle">12</text>
<line x1="656.2" y1="529.4" x2="656.2" y2="533.2" stroke="#8a8a8a" stroke-width="1"/>
<text x="656.2" y="542.3" font-size="7.8" text-anchor="middle">15</text>
<line x1="668.3" y1="529.4" x2="668.3" y2="533.2" stroke="#8a8a8a" stroke-width="1"/>
<text x="668.3" y="542.3" font-size="7.8" text-anchor="middle">18</text>
<text x="638.7" y="555.2" font-size="7.8" text-anchor="middle">Time (days)</text>
<text transform="translate(567.6 492) rotate(-90)" font-size="8" text-anchor="middle">Tumour volume (mm<tspan font-size="5.6" dy="-4.0">3</tspan><tspan dy="4.0">)</tspan></text>
<line x1="632.6" y1="525" x2="632.6" y2="526.1" stroke="#1414c8" stroke-width="0.8"/>
<line x1="630.8" y1="525" x2="634.4" y2="525" stroke="#1414c8" stroke-width="0.8"/>
<line x1="644.4" y1="521.5" x2="644.4" y2="523" stroke="#1414c8" stroke-width="0.8"/>
<line x1="642.6" y1="521.5" x2="646.2" y2="521.5" stroke="#1414c8" stroke-width="0.8"/>
<line x1="656.2" y1="515.1" x2="656.2" y2="518.5" stroke="#1414c8" stroke-width="0.8"/>
<line x1="654.4" y1="515.1" x2="658" y2="515.1" stroke="#1414c8" stroke-width="0.8"/>
<line x1="668.3" y1="506.3" x2="668.3" y2="510.9" stroke="#1414c8" stroke-width="0.8"/>
<line x1="666.5" y1="506.3" x2="670.1" y2="506.3" stroke="#1414c8" stroke-width="0.8"/>
<polyline points="609.2,529.4 621,528.2 632.6,526.1 644.4,523 656.2,518.5 668.3,510.9" fill="none" stroke="#1414c8" stroke-width="0.8" stroke-linejoin="round"/>
<circle cx="609.2" cy="529.4" r="1.65" fill="#1414c8"/>
<circle cx="621" cy="528.2" r="1.65" fill="#1414c8"/>
<circle cx="632.6" cy="526.1" r="1.65" fill="#1414c8"/>
<circle cx="644.4" cy="523" r="1.65" fill="#1414c8"/>
<circle cx="656.2" cy="518.5" r="1.65" fill="#1414c8"/>
<circle cx="668.3" cy="510.9" r="1.65" fill="#1414c8"/>
<line x1="632.6" y1="524.5" x2="632.6" y2="525.8" stroke="#f01010" stroke-width="0.8"/>
<line x1="630.8" y1="524.5" x2="634.4" y2="524.5" stroke="#f01010" stroke-width="0.8"/>
<line x1="644.4" y1="515" x2="644.4" y2="517.1" stroke="#f01010" stroke-width="0.8"/>
<line x1="642.6" y1="515" x2="646.2" y2="515" stroke="#f01010" stroke-width="0.8"/>
<line x1="656.2" y1="505" x2="656.2" y2="508" stroke="#f01010" stroke-width="0.8"/>
<line x1="654.4" y1="505" x2="658" y2="505" stroke="#f01010" stroke-width="0.8"/>
<line x1="668.3" y1="483.2" x2="668.3" y2="491.7" stroke="#f01010" stroke-width="0.8"/>
<line x1="666.5" y1="483.2" x2="670.1" y2="483.2" stroke="#f01010" stroke-width="0.8"/>
<polyline points="609.2,529.4 621,528.2 632.6,525.8 644.4,517.1 656.2,508 668.3,491.7" fill="none" stroke="#f01010" stroke-width="0.8" stroke-linejoin="round"/>
<circle cx="609.2" cy="529.4" r="1.65" fill="#f01010"/>
<circle cx="621" cy="528.2" r="1.65" fill="#f01010"/>
<circle cx="632.6" cy="525.8" r="1.65" fill="#f01010"/>
<circle cx="644.4" cy="517.1" r="1.65" fill="#f01010"/>
<circle cx="656.2" cy="508" r="1.65" fill="#f01010"/>
<circle cx="668.3" cy="491.7" r="1.65" fill="#f01010"/>
<line x1="632.6" y1="524.5" x2="632.6" y2="525.9" stroke="#1e8c1e" stroke-width="0.8"/>
<line x1="630.8" y1="524.5" x2="634.4" y2="524.5" stroke="#1e8c1e" stroke-width="0.8"/>
<line x1="644.4" y1="517" x2="644.4" y2="519" stroke="#1e8c1e" stroke-width="0.8"/>
<line x1="642.6" y1="517" x2="646.2" y2="517" stroke="#1e8c1e" stroke-width="0.8"/>
<line x1="656.2" y1="502" x2="656.2" y2="505.8" stroke="#1e8c1e" stroke-width="0.8"/>
<line x1="654.4" y1="502" x2="658" y2="502" stroke="#1e8c1e" stroke-width="0.8"/>
<line x1="668.3" y1="470" x2="668.3" y2="476.2" stroke="#1e8c1e" stroke-width="0.8"/>
<line x1="666.5" y1="470" x2="670.1" y2="470" stroke="#1e8c1e" stroke-width="0.8"/>
<polyline points="609.2,529.4 621,528.2 632.6,525.9 644.4,519 656.2,505.8 668.3,476.2" fill="none" stroke="#1e8c1e" stroke-width="0.8" stroke-linejoin="round"/>
<circle cx="609.2" cy="529.4" r="1.65" fill="#1e8c1e"/>
<circle cx="621" cy="528.2" r="1.65" fill="#1e8c1e"/>
<circle cx="632.6" cy="525.9" r="1.65" fill="#1e8c1e"/>
<circle cx="644.4" cy="519" r="1.65" fill="#1e8c1e"/>
<circle cx="656.2" cy="505.8" r="1.65" fill="#1e8c1e"/>
<circle cx="668.3" cy="476.2" r="1.65" fill="#1e8c1e"/>
<line x1="632.6" y1="524" x2="632.6" y2="525.5" stroke="#000000" stroke-width="0.8"/>
<line x1="630.8" y1="524" x2="634.4" y2="524" stroke="#000000" stroke-width="0.8"/>
<line x1="644.4" y1="513.5" x2="644.4" y2="516.2" stroke="#000000" stroke-width="0.8"/>
<line x1="642.6" y1="513.5" x2="646.2" y2="513.5" stroke="#000000" stroke-width="0.8"/>
<line x1="656.2" y1="497.3" x2="656.2" y2="503" stroke="#000000" stroke-width="0.8"/>
<line x1="654.4" y1="497.3" x2="658" y2="497.3" stroke="#000000" stroke-width="0.8"/>
<line x1="668.3" y1="456.4" x2="668.3" y2="469.1" stroke="#000000" stroke-width="0.8"/>
<line x1="666.5" y1="456.4" x2="670.1" y2="456.4" stroke="#000000" stroke-width="0.8"/>
<polyline points="609.2,529.4 621,528.2 632.6,525.5 644.4,516.2 656.2,503 668.3,469.1" fill="none" stroke="#000000" stroke-width="0.8" stroke-linejoin="round"/>
<circle cx="609.2" cy="529.4" r="1.65" fill="#000000"/>
<circle cx="621" cy="528.2" r="1.65" fill="#000000"/>
<circle cx="632.6" cy="525.5" r="1.65" fill="#000000"/>
<circle cx="644.4" cy="516.2" r="1.65" fill="#000000"/>
<circle cx="656.2" cy="503" r="1.65" fill="#000000"/>
<circle cx="668.3" cy="469.1" r="1.65" fill="#000000"/>
<line x1="671.2" y1="491.7" x2="671.2" y2="511.4" stroke="#222" stroke-width="0.8"/>
<g class="ns">
<text transform="translate(670.62 500.1) rotate(90)" font-size="9" text-anchor="middle">**</text>
</g>
<line x1="595" y1="421.2" x2="606.3" y2="421.2" stroke="#000000" stroke-width="0.8"/>
<circle cx="600.65" cy="421.2" r="1.5" fill="#000000"/>
<text x="609.1" y="423.8" font-size="7.9">IgG + vehicle</text>
<line x1="595" y1="430.2" x2="606.3" y2="430.2" stroke="#1e8c1e" stroke-width="0.8"/>
<circle cx="600.65" cy="430.2" r="1.5" fill="#1e8c1e"/>
<text x="609.1" y="432.8" font-size="7.9">Anti-PD-L1 + vehicle</text>
<line x1="595" y1="439.5" x2="606.3" y2="439.5" stroke="#f01010" stroke-width="0.8"/>
<circle cx="600.65" cy="439.5" r="1.5" fill="#f01010"/>
<text x="609.1" y="442.1" font-size="7.9">IgG + SD-36</text>
<line x1="595" y1="448.8" x2="606.3" y2="448.8" stroke="#1414c8" stroke-width="0.8"/>
<circle cx="600.65" cy="448.8" r="1.5" fill="#1414c8"/>
<text x="609.1" y="451.4" font-size="7.9">Anti-PD-L1 + SD-36</text>
</svg>
</body></html>
